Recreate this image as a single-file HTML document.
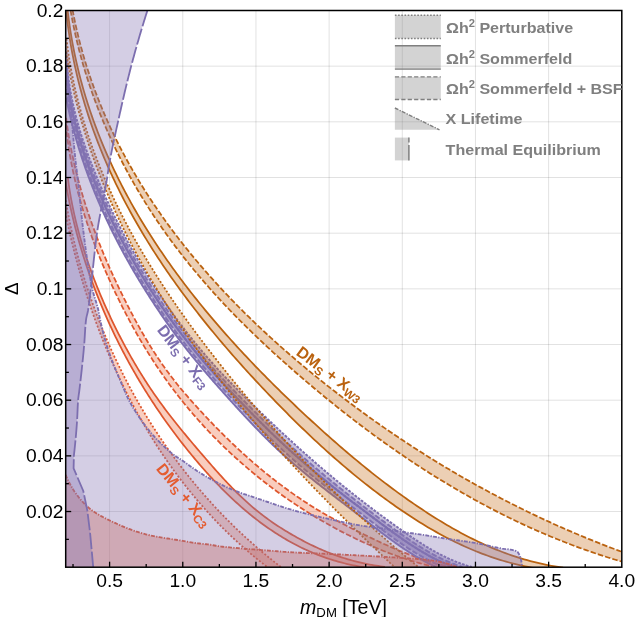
<!DOCTYPE html>
<html><head><meta charset="utf-8"><title>plot</title>
<style>html,body{margin:0;padding:0;background:#fff;}svg{display:block;will-change:transform;font-family:"Liberation Sans",sans-serif;}</style></head><body>
<svg width="635" height="617" viewBox="0 0 635 617">
<rect x="0" y="0" width="635" height="617" fill="#fff"/>
<defs><clipPath id="cp"><rect x="65.70" y="10.50" width="556.10" height="556.70"/></clipPath></defs>
<g stroke="#000" stroke-opacity="0.135" stroke-width="0.9" fill="none">
<line x1="109.60" y1="10.50" x2="109.60" y2="567.20"/>
<line x1="182.77" y1="10.50" x2="182.77" y2="567.20"/>
<line x1="255.94" y1="10.50" x2="255.94" y2="567.20"/>
<line x1="329.12" y1="10.50" x2="329.12" y2="567.20"/>
<line x1="402.29" y1="10.50" x2="402.29" y2="567.20"/>
<line x1="475.46" y1="10.50" x2="475.46" y2="567.20"/>
<line x1="548.63" y1="10.50" x2="548.63" y2="567.20"/>
<line x1="65.70" y1="511.53" x2="621.80" y2="511.53"/>
<line x1="65.70" y1="455.86" x2="621.80" y2="455.86"/>
<line x1="65.70" y1="400.19" x2="621.80" y2="400.19"/>
<line x1="65.70" y1="344.52" x2="621.80" y2="344.52"/>
<line x1="65.70" y1="288.85" x2="621.80" y2="288.85"/>
<line x1="65.70" y1="233.18" x2="621.80" y2="233.18"/>
<line x1="65.70" y1="177.51" x2="621.80" y2="177.51"/>
<line x1="65.70" y1="121.84" x2="621.80" y2="121.84"/>
<line x1="65.70" y1="66.17" x2="621.80" y2="66.17"/>
</g>
<g clip-path="url(#cp)">
<path d="M65.28 212.32 L65.62 214.01 L65.96 215.70 L66.31 217.39 L66.66 219.09 L67.02 220.78 L67.38 222.47 L67.74 224.16 L68.11 225.85 L68.48 227.54 L68.85 229.23 L69.23 230.92 L69.62 232.61 L70.00 234.31 L70.39 236.00 L70.79 237.69 L71.19 239.38 L71.59 241.06 L72.00 242.75 L72.41 244.44 L72.83 246.13 L73.24 247.82 L73.67 249.51 L74.09 251.19 L74.53 252.88 L74.96 254.57 L75.40 256.25 L75.84 257.94 L76.29 259.62 L76.74 261.31 L77.20 262.99 L77.66 264.67 L78.12 266.36 L78.59 268.04 L79.06 269.72 L79.53 271.40 L80.01 273.08 L80.50 274.76 L80.98 276.44 L81.48 278.11 L81.97 279.79 L82.47 281.47 L82.97 283.14 L83.48 284.81 L83.99 286.49 L84.51 288.16 L85.03 289.83 L85.56 291.50 L86.08 293.17 L86.62 294.84 L87.15 296.51 L87.69 298.17 L88.24 299.84 L88.79 301.50 L89.34 303.16 L89.90 304.83 L90.46 306.49 L91.03 308.15 L91.60 309.80 L92.17 311.46 L92.75 313.12 L93.33 314.77 L93.92 316.42 L94.51 318.08 L95.10 319.73 L95.70 321.37 L96.31 323.02 L96.91 324.67 L97.53 326.31 L98.14 327.96 L98.76 329.60 L99.39 331.24 L100.02 332.88 L100.65 334.51 L101.29 336.15 L101.93 337.78 L102.57 339.42 L103.22 341.05 L103.88 342.68 L104.54 344.31 L105.20 345.93 L105.87 347.56 L106.54 349.18 L107.21 350.80 L107.89 352.42 L108.58 354.03 L109.26 355.65 L109.96 357.26 L110.65 358.87 L111.35 360.48 L112.06 362.09 L112.77 363.70 L113.48 365.30 L114.20 366.90 L114.93 368.50 L115.65 370.10 L116.38 371.69 L117.12 373.29 L117.86 374.88 L118.61 376.47 L119.35 378.06 L120.11 379.64 L120.87 381.22 L121.63 382.80 L122.39 384.38 L123.16 385.96 L123.94 387.53 L124.72 389.10 L125.50 390.67 L126.29 392.24 L127.08 393.80 L127.88 395.37 L128.68 396.93 L129.49 398.48 L130.30 400.04 L131.11 401.59 L131.93 403.14 L132.76 404.69 L133.59 406.23 L134.42 407.77 L135.25 409.31 L136.10 410.85 L136.94 412.38 L137.79 413.92 L138.65 415.44 L139.51 416.97 L140.37 418.49 L141.24 420.01 L142.11 421.53 L142.99 423.05 L143.87 424.56 L144.76 426.07 L145.65 427.58 L146.54 429.08 L147.44 430.58 L148.35 432.08 L149.26 433.57 L150.17 435.06 L151.09 436.55 L152.01 438.04 L152.94 439.52 L153.87 441.00 L154.80 442.48 L155.75 443.95 L156.69 445.42 L157.64 446.89 L158.59 448.35 L159.55 449.81 L160.52 451.27 L161.48 452.73 L162.46 454.18 L163.43 455.63 L164.42 457.07 L165.40 458.51 L166.39 459.95 L167.39 461.38 L168.39 462.82 L169.39 464.24 L170.40 465.67 L171.42 467.09 L172.44 468.51 L173.46 469.92 L174.49 471.33 L175.52 472.74 L176.56 474.14 L177.60 475.54 L178.65 476.93 L179.70 478.33 L180.76 479.72 L181.82 481.10 L182.88 482.48 L183.95 483.86 L185.03 485.23 L186.11 486.60 L187.19 487.97 L188.28 489.33 L189.37 490.69 L190.47 492.04 L191.57 493.39 L192.68 494.74 L193.79 496.08 L194.91 497.42 L196.03 498.76 L197.16 500.09 L198.29 501.42 L199.43 502.74 L200.57 504.06 L201.71 505.37 L202.86 506.68 L204.02 507.99 L205.18 509.29 L206.34 510.59 L207.51 511.88 L208.69 513.17 L209.87 514.46 L211.05 515.74 L212.24 517.02 L213.43 518.29 L214.63 519.56 L215.83 520.82 L217.04 522.08 L218.25 523.33 L219.47 524.58 L220.69 525.83 L221.92 527.07 L223.15 528.31 L224.39 529.54 L225.63 530.77 L226.88 531.99 L228.13 533.21 L229.39 534.43 L230.65 535.64 L231.92 536.84 L233.19 538.04 L234.46 539.24 L235.74 540.43 L237.03 541.61 L238.32 542.80 L239.61 543.97 L240.92 545.14 L242.22 546.31 L243.53 547.47 L244.85 548.63 L246.17 549.78 L247.49 550.93 L248.82 552.07 L250.16 553.21 L251.50 554.34 L252.84 555.47 L254.19 556.59 L255.54 557.71 L256.90 558.82 L258.27 559.93 L259.64 561.03 L261.01 562.13 L262.39 563.22 L263.78 564.31 L265.17 565.39 L266.56 566.47 L267.96 567.54 L281.97 567.81 L280.52 566.70 L279.07 565.58 L277.62 564.46 L276.18 563.34 L274.74 562.20 L273.31 561.07 L271.88 559.92 L270.46 558.78 L269.04 557.63 L267.62 556.47 L266.21 555.31 L264.80 554.14 L263.40 552.97 L262.00 551.79 L260.61 550.61 L259.22 549.43 L257.83 548.24 L256.45 547.04 L255.07 545.84 L253.70 544.64 L252.33 543.43 L250.96 542.21 L249.60 541.00 L248.25 539.77 L246.89 538.54 L245.55 537.31 L244.20 536.08 L242.86 534.83 L241.53 533.59 L240.20 532.34 L238.87 531.08 L237.55 529.82 L236.23 528.56 L234.92 527.29 L233.61 526.02 L232.31 524.74 L231.01 523.46 L229.71 522.17 L228.42 520.88 L227.13 519.59 L225.85 518.29 L224.57 516.98 L223.30 515.67 L222.03 514.36 L220.77 513.05 L219.51 511.73 L218.25 510.40 L217.00 509.07 L215.75 507.74 L214.51 506.40 L213.27 505.06 L212.04 503.71 L210.81 502.37 L209.58 501.01 L208.36 499.65 L207.15 498.29 L205.94 496.93 L204.73 495.56 L203.53 494.18 L202.33 492.80 L201.14 491.42 L199.95 490.04 L198.76 488.65 L197.58 487.25 L196.41 485.86 L195.24 484.46 L194.07 483.05 L192.91 481.64 L191.75 480.23 L190.60 478.81 L189.45 477.39 L188.31 475.97 L187.17 474.54 L186.03 473.11 L184.90 471.67 L183.78 470.23 L182.66 468.79 L181.54 467.35 L180.43 465.90 L179.32 464.44 L178.22 462.99 L177.12 461.53 L176.03 460.06 L174.94 458.59 L173.86 457.12 L172.78 455.65 L171.70 454.17 L170.63 452.69 L169.57 451.20 L168.51 449.71 L167.45 448.22 L166.40 446.73 L165.36 445.23 L164.31 443.73 L163.28 442.22 L162.24 440.71 L161.22 439.20 L160.19 437.69 L159.18 436.17 L158.16 434.65 L157.15 433.12 L156.15 431.59 L155.15 430.06 L154.15 428.53 L153.16 426.99 L152.18 425.45 L151.20 423.91 L150.22 422.36 L149.25 420.81 L148.29 419.26 L147.32 417.70 L146.37 416.14 L145.42 414.58 L144.47 413.02 L143.53 411.45 L142.59 409.88 L141.66 408.31 L140.73 406.73 L139.81 405.15 L138.89 403.57 L137.98 401.98 L137.07 400.39 L136.16 398.80 L135.26 397.21 L134.37 395.61 L133.48 394.01 L132.60 392.41 L131.72 390.81 L130.84 389.20 L129.97 387.59 L129.11 385.98 L128.25 384.36 L127.39 382.75 L126.54 381.13 L125.70 379.50 L124.86 377.88 L124.02 376.25 L123.19 374.62 L122.37 372.98 L121.55 371.35 L120.73 369.71 L119.92 368.07 L119.12 366.43 L118.32 364.78 L117.52 363.13 L116.73 361.48 L115.94 359.83 L115.16 358.18 L114.39 356.52 L113.62 354.86 L112.85 353.20 L112.09 351.53 L111.33 349.87 L110.58 348.20 L109.84 346.53 L109.10 344.86 L108.36 343.18 L107.63 341.50 L106.91 339.82 L106.19 338.14 L105.47 336.46 L104.76 334.77 L104.05 333.08 L103.35 331.39 L102.66 329.70 L101.97 328.01 L101.28 326.31 L100.60 324.61 L99.93 322.91 L99.26 321.21 L98.59 319.51 L97.93 317.80 L97.28 316.10 L96.63 314.39 L95.99 312.68 L95.35 310.96 L94.71 309.25 L94.09 307.53 L93.46 305.81 L92.84 304.09 L92.23 302.37 L91.62 300.65 L91.02 298.92 L90.42 297.19 L89.83 295.47 L89.24 293.74 L88.66 292.00 L88.08 290.27 L87.51 288.53 L86.94 286.80 L86.38 285.06 L85.83 283.32 L85.28 281.58 L84.73 279.84 L84.19 278.09 L83.65 276.35 L83.12 274.60 L82.60 272.85 L82.08 271.10 L81.57 269.35 L81.06 267.60 L80.55 265.84 L80.06 264.09 L79.56 262.33 L79.08 260.57 L78.59 258.81 L78.12 257.05 L77.64 255.29 L77.18 253.53 L76.72 251.76 L76.26 250.00 L75.81 248.23 L75.37 246.46 L74.93 244.70 L74.49 242.93 L74.06 241.15 L73.64 239.38 L73.22 237.61 L72.81 235.83 L72.40 234.06 L72.00 232.28 L71.60 230.51 L71.21 228.73 L70.82 226.95 L70.44 225.17 L70.07 223.39 L69.70 221.61 L69.33 219.82 L68.97 218.04 L68.62 216.26 L68.27 214.47 L67.93 212.69 L67.59 210.90 L67.26 209.11 L66.94 207.32 L66.62 205.53 L66.30 203.74 L65.99 201.95 L65.69 200.16 Z" fill="rgb(235,98,53)" fill-opacity="0.32" stroke="none"/>
<path d="M65.28 212.32 L65.62 214.01 L65.96 215.70 L66.31 217.39 L66.66 219.09 L67.02 220.78 L67.38 222.47 L67.74 224.16 L68.11 225.85 L68.48 227.54 L68.85 229.23 L69.23 230.92 L69.62 232.61 L70.00 234.31 L70.39 236.00 L70.79 237.69 L71.19 239.38 L71.59 241.06 L72.00 242.75 L72.41 244.44 L72.83 246.13 L73.24 247.82 L73.67 249.51 L74.09 251.19 L74.53 252.88 L74.96 254.57 L75.40 256.25 L75.84 257.94 L76.29 259.62 L76.74 261.31 L77.20 262.99 L77.66 264.67 L78.12 266.36 L78.59 268.04 L79.06 269.72 L79.53 271.40 L80.01 273.08 L80.50 274.76 L80.98 276.44 L81.48 278.11 L81.97 279.79 L82.47 281.47 L82.97 283.14 L83.48 284.81 L83.99 286.49 L84.51 288.16 L85.03 289.83 L85.56 291.50 L86.08 293.17 L86.62 294.84 L87.15 296.51 L87.69 298.17 L88.24 299.84 L88.79 301.50 L89.34 303.16 L89.90 304.83 L90.46 306.49 L91.03 308.15 L91.60 309.80 L92.17 311.46 L92.75 313.12 L93.33 314.77 L93.92 316.42 L94.51 318.08 L95.10 319.73 L95.70 321.37 L96.31 323.02 L96.91 324.67 L97.53 326.31 L98.14 327.96 L98.76 329.60 L99.39 331.24 L100.02 332.88 L100.65 334.51 L101.29 336.15 L101.93 337.78 L102.57 339.42 L103.22 341.05 L103.88 342.68 L104.54 344.31 L105.20 345.93 L105.87 347.56 L106.54 349.18 L107.21 350.80 L107.89 352.42 L108.58 354.03 L109.26 355.65 L109.96 357.26 L110.65 358.87 L111.35 360.48 L112.06 362.09 L112.77 363.70 L113.48 365.30 L114.20 366.90 L114.93 368.50 L115.65 370.10 L116.38 371.69 L117.12 373.29 L117.86 374.88 L118.61 376.47 L119.35 378.06 L120.11 379.64 L120.87 381.22 L121.63 382.80 L122.39 384.38 L123.16 385.96 L123.94 387.53 L124.72 389.10 L125.50 390.67 L126.29 392.24 L127.08 393.80 L127.88 395.37 L128.68 396.93 L129.49 398.48 L130.30 400.04 L131.11 401.59 L131.93 403.14 L132.76 404.69 L133.59 406.23 L134.42 407.77 L135.25 409.31 L136.10 410.85 L136.94 412.38 L137.79 413.92 L138.65 415.44 L139.51 416.97 L140.37 418.49 L141.24 420.01 L142.11 421.53 L142.99 423.05 L143.87 424.56 L144.76 426.07 L145.65 427.58 L146.54 429.08 L147.44 430.58 L148.35 432.08 L149.26 433.57 L150.17 435.06 L151.09 436.55 L152.01 438.04 L152.94 439.52 L153.87 441.00 L154.80 442.48 L155.75 443.95 L156.69 445.42 L157.64 446.89 L158.59 448.35 L159.55 449.81 L160.52 451.27 L161.48 452.73 L162.46 454.18 L163.43 455.63 L164.42 457.07 L165.40 458.51 L166.39 459.95 L167.39 461.38 L168.39 462.82 L169.39 464.24 L170.40 465.67 L171.42 467.09 L172.44 468.51 L173.46 469.92 L174.49 471.33 L175.52 472.74 L176.56 474.14 L177.60 475.54 L178.65 476.93 L179.70 478.33 L180.76 479.72 L181.82 481.10 L182.88 482.48 L183.95 483.86 L185.03 485.23 L186.11 486.60 L187.19 487.97 L188.28 489.33 L189.37 490.69 L190.47 492.04 L191.57 493.39 L192.68 494.74 L193.79 496.08 L194.91 497.42 L196.03 498.76 L197.16 500.09 L198.29 501.42 L199.43 502.74 L200.57 504.06 L201.71 505.37 L202.86 506.68 L204.02 507.99 L205.18 509.29 L206.34 510.59 L207.51 511.88 L208.69 513.17 L209.87 514.46 L211.05 515.74 L212.24 517.02 L213.43 518.29 L214.63 519.56 L215.83 520.82 L217.04 522.08 L218.25 523.33 L219.47 524.58 L220.69 525.83 L221.92 527.07 L223.15 528.31 L224.39 529.54 L225.63 530.77 L226.88 531.99 L228.13 533.21 L229.39 534.43 L230.65 535.64 L231.92 536.84 L233.19 538.04 L234.46 539.24 L235.74 540.43 L237.03 541.61 L238.32 542.80 L239.61 543.97 L240.92 545.14 L242.22 546.31 L243.53 547.47 L244.85 548.63 L246.17 549.78 L247.49 550.93 L248.82 552.07 L250.16 553.21 L251.50 554.34 L252.84 555.47 L254.19 556.59 L255.54 557.71 L256.90 558.82 L258.27 559.93 L259.64 561.03 L261.01 562.13 L262.39 563.22 L263.78 564.31 L265.17 565.39 L266.56 566.47 L267.96 567.54" fill="none" stroke="rgb(222,86,45)" stroke-width="1.75" stroke-dasharray="2.0 1.8"/>
<path d="M65.69 200.16 L65.99 201.95 L66.30 203.74 L66.62 205.53 L66.94 207.32 L67.26 209.11 L67.59 210.90 L67.93 212.69 L68.27 214.47 L68.62 216.26 L68.97 218.04 L69.33 219.82 L69.70 221.61 L70.07 223.39 L70.44 225.17 L70.82 226.95 L71.21 228.73 L71.60 230.51 L72.00 232.28 L72.40 234.06 L72.81 235.83 L73.22 237.61 L73.64 239.38 L74.06 241.15 L74.49 242.93 L74.93 244.70 L75.37 246.46 L75.81 248.23 L76.26 250.00 L76.72 251.76 L77.18 253.53 L77.64 255.29 L78.12 257.05 L78.59 258.81 L79.08 260.57 L79.56 262.33 L80.06 264.09 L80.55 265.84 L81.06 267.60 L81.57 269.35 L82.08 271.10 L82.60 272.85 L83.12 274.60 L83.65 276.35 L84.19 278.09 L84.73 279.84 L85.28 281.58 L85.83 283.32 L86.38 285.06 L86.94 286.80 L87.51 288.53 L88.08 290.27 L88.66 292.00 L89.24 293.74 L89.83 295.47 L90.42 297.19 L91.02 298.92 L91.62 300.65 L92.23 302.37 L92.84 304.09 L93.46 305.81 L94.09 307.53 L94.71 309.25 L95.35 310.96 L95.99 312.68 L96.63 314.39 L97.28 316.10 L97.93 317.80 L98.59 319.51 L99.26 321.21 L99.93 322.91 L100.60 324.61 L101.28 326.31 L101.97 328.01 L102.66 329.70 L103.35 331.39 L104.05 333.08 L104.76 334.77 L105.47 336.46 L106.19 338.14 L106.91 339.82 L107.63 341.50 L108.36 343.18 L109.10 344.86 L109.84 346.53 L110.58 348.20 L111.33 349.87 L112.09 351.53 L112.85 353.20 L113.62 354.86 L114.39 356.52 L115.16 358.18 L115.94 359.83 L116.73 361.48 L117.52 363.13 L118.32 364.78 L119.12 366.43 L119.92 368.07 L120.73 369.71 L121.55 371.35 L122.37 372.98 L123.19 374.62 L124.02 376.25 L124.86 377.88 L125.70 379.50 L126.54 381.13 L127.39 382.75 L128.25 384.36 L129.11 385.98 L129.97 387.59 L130.84 389.20 L131.72 390.81 L132.60 392.41 L133.48 394.01 L134.37 395.61 L135.26 397.21 L136.16 398.80 L137.07 400.39 L137.98 401.98 L138.89 403.57 L139.81 405.15 L140.73 406.73 L141.66 408.31 L142.59 409.88 L143.53 411.45 L144.47 413.02 L145.42 414.58 L146.37 416.14 L147.32 417.70 L148.29 419.26 L149.25 420.81 L150.22 422.36 L151.20 423.91 L152.18 425.45 L153.16 426.99 L154.15 428.53 L155.15 430.06 L156.15 431.59 L157.15 433.12 L158.16 434.65 L159.18 436.17 L160.19 437.69 L161.22 439.20 L162.24 440.71 L163.28 442.22 L164.31 443.73 L165.36 445.23 L166.40 446.73 L167.45 448.22 L168.51 449.71 L169.57 451.20 L170.63 452.69 L171.70 454.17 L172.78 455.65 L173.86 457.12 L174.94 458.59 L176.03 460.06 L177.12 461.53 L178.22 462.99 L179.32 464.44 L180.43 465.90 L181.54 467.35 L182.66 468.79 L183.78 470.23 L184.90 471.67 L186.03 473.11 L187.17 474.54 L188.31 475.97 L189.45 477.39 L190.60 478.81 L191.75 480.23 L192.91 481.64 L194.07 483.05 L195.24 484.46 L196.41 485.86 L197.58 487.25 L198.76 488.65 L199.95 490.04 L201.14 491.42 L202.33 492.80 L203.53 494.18 L204.73 495.56 L205.94 496.93 L207.15 498.29 L208.36 499.65 L209.58 501.01 L210.81 502.37 L212.04 503.71 L213.27 505.06 L214.51 506.40 L215.75 507.74 L217.00 509.07 L218.25 510.40 L219.51 511.73 L220.77 513.05 L222.03 514.36 L223.30 515.67 L224.57 516.98 L225.85 518.29 L227.13 519.59 L228.42 520.88 L229.71 522.17 L231.01 523.46 L232.31 524.74 L233.61 526.02 L234.92 527.29 L236.23 528.56 L237.55 529.82 L238.87 531.08 L240.20 532.34 L241.53 533.59 L242.86 534.83 L244.20 536.08 L245.55 537.31 L246.89 538.54 L248.25 539.77 L249.60 541.00 L250.96 542.21 L252.33 543.43 L253.70 544.64 L255.07 545.84 L256.45 547.04 L257.83 548.24 L259.22 549.43 L260.61 550.61 L262.00 551.79 L263.40 552.97 L264.80 554.14 L266.21 555.31 L267.62 556.47 L269.04 557.63 L270.46 558.78 L271.88 559.92 L273.31 561.07 L274.74 562.20 L276.18 563.34 L277.62 564.46 L279.07 565.58 L280.52 566.70 L281.97 567.81" fill="none" stroke="rgb(222,86,45)" stroke-width="1.75" stroke-dasharray="2.0 1.8"/>
<path d="M65.49 181.33 L65.85 183.46 L66.21 185.58 L66.58 187.69 L66.97 189.81 L67.36 191.93 L67.75 194.04 L68.16 196.15 L68.58 198.26 L69.00 200.37 L69.43 202.48 L69.87 204.59 L70.32 206.70 L70.78 208.80 L71.24 210.90 L71.72 213.00 L72.20 215.10 L72.69 217.20 L73.19 219.29 L73.70 221.39 L74.21 223.48 L74.73 225.57 L75.27 227.66 L75.81 229.75 L76.35 231.83 L76.91 233.91 L77.47 236.00 L78.05 238.08 L78.63 240.15 L79.22 242.23 L79.81 244.30 L80.42 246.37 L81.03 248.44 L81.65 250.51 L82.28 252.57 L82.91 254.64 L83.56 256.70 L84.21 258.76 L84.87 260.81 L85.54 262.87 L86.22 264.92 L86.90 266.97 L87.59 269.01 L88.29 271.06 L89.00 273.10 L89.71 275.14 L90.44 277.18 L91.17 279.21 L91.91 281.24 L92.65 283.27 L93.41 285.30 L94.17 287.33 L94.94 289.35 L95.72 291.37 L96.50 293.38 L97.29 295.40 L98.09 297.41 L98.90 299.42 L99.72 301.42 L100.54 303.43 L101.37 305.43 L102.21 307.42 L103.05 309.42 L103.90 311.41 L104.76 313.40 L105.63 315.38 L106.51 317.37 L107.39 319.35 L108.28 321.32 L109.18 323.30 L110.08 325.27 L110.99 327.23 L111.91 329.20 L112.84 331.16 L113.77 333.11 L114.71 335.07 L115.66 337.02 L116.62 338.97 L117.58 340.91 L118.55 342.85 L119.53 344.79 L120.51 346.72 L121.50 348.66 L122.50 350.58 L123.51 352.51 L124.52 354.43 L125.54 356.34 L126.57 358.26 L127.60 360.17 L128.64 362.07 L129.69 363.97 L130.75 365.87 L131.81 367.77 L132.88 369.66 L133.95 371.55 L135.04 373.43 L136.13 375.31 L137.22 377.19 L138.33 379.06 L139.44 380.93 L140.56 382.79 L141.68 384.65 L142.81 386.51 L143.95 388.36 L145.09 390.21 L146.24 392.05 L147.40 393.89 L148.57 395.73 L149.74 397.56 L150.92 399.39 L152.10 401.21 L153.29 403.03 L154.49 404.84 L155.70 406.65 L156.91 408.46 L158.12 410.26 L159.35 412.06 L160.58 413.85 L161.82 415.64 L163.06 417.43 L164.31 419.21 L165.57 420.98 L166.83 422.75 L168.10 424.52 L169.38 426.28 L170.66 428.04 L171.95 429.79 L173.25 431.54 L174.55 433.28 L175.86 435.02 L177.17 436.75 L178.49 438.48 L179.82 440.20 L181.15 441.92 L182.49 443.64 L183.84 445.35 L185.19 447.05 L186.55 448.75 L187.91 450.45 L189.28 452.13 L190.66 453.82 L192.04 455.50 L193.43 457.17 L194.83 458.84 L196.23 460.51 L197.64 462.16 L199.05 463.82 L200.47 465.47 L201.90 467.11 L203.33 468.74 L204.77 470.37 L206.21 471.99 L207.67 473.61 L209.13 475.22 L210.59 476.82 L212.06 478.41 L213.54 480.00 L215.03 481.58 L216.52 483.15 L218.03 484.71 L219.53 486.26 L221.05 487.81 L222.57 489.35 L224.10 490.88 L225.64 492.40 L227.18 493.91 L228.73 495.41 L230.29 496.90 L231.86 498.39 L233.44 499.86 L235.02 501.32 L236.61 502.77 L238.21 504.22 L239.81 505.65 L241.43 507.07 L243.05 508.48 L244.68 509.88 L246.32 511.26 L247.96 512.64 L249.62 514.00 L251.28 515.36 L252.95 516.70 L254.63 518.02 L256.32 519.34 L258.02 520.64 L259.73 521.93 L261.44 523.21 L263.16 524.47 L264.90 525.72 L266.64 526.96 L268.39 528.19 L270.15 529.40 L271.91 530.59 L273.69 531.77 L275.48 532.94 L277.27 534.09 L279.08 535.23 L280.89 536.35 L282.72 537.46 L284.55 538.55 L286.40 539.63 L288.25 540.69 L290.11 541.73 L291.98 542.76 L293.87 543.77 L295.76 544.77 L297.66 545.75 L299.57 546.71 L301.49 547.66 L303.43 548.59 L305.37 549.50 L307.32 550.39 L309.28 551.27 L311.26 552.13 L313.24 552.97 L315.23 553.79 L317.24 554.59 L319.25 555.37 L321.28 556.14 L323.32 556.89 L325.36 557.61 L327.42 558.32 L329.49 559.01 L331.57 559.68 L333.66 560.33 L335.77 560.96 L337.88 561.57 L340.01 562.15 L342.14 562.72 L344.29 563.27 L346.45 563.79 L348.62 564.30 L350.80 564.78 L352.99 565.24 L355.20 565.68 L357.42 566.10 L359.65 566.49 L361.89 566.87 L364.14 567.22 L366.40 567.55 L385.02 566.79 L382.79 566.54 L380.56 566.26 L378.35 565.96 L376.13 565.63 L373.93 565.29 L371.72 564.91 L369.53 564.52 L367.34 564.10 L365.16 563.66 L362.99 563.20 L360.82 562.71 L358.65 562.20 L356.50 561.67 L354.35 561.11 L352.21 560.53 L350.07 559.94 L347.94 559.32 L345.82 558.67 L343.70 558.01 L341.59 557.33 L339.49 556.62 L337.39 555.90 L335.30 555.15 L333.21 554.38 L331.14 553.60 L329.07 552.79 L327.00 551.96 L324.94 551.12 L322.89 550.25 L320.85 549.37 L318.81 548.47 L316.78 547.55 L314.76 546.61 L312.75 545.66 L310.74 544.69 L308.74 543.70 L306.74 542.70 L304.76 541.68 L302.78 540.64 L300.81 539.59 L298.84 538.53 L296.88 537.45 L294.94 536.36 L292.99 535.25 L291.06 534.13 L289.13 533.00 L287.22 531.85 L285.31 530.69 L283.41 529.51 L281.52 528.32 L279.64 527.12 L277.77 525.90 L275.91 524.67 L274.07 523.42 L272.23 522.16 L270.40 520.89 L268.59 519.60 L266.79 518.29 L265.00 516.97 L263.22 515.63 L261.45 514.28 L259.70 512.92 L257.97 511.53 L256.24 510.14 L254.53 508.72 L252.84 507.30 L251.15 505.85 L249.48 504.40 L247.83 502.93 L246.18 501.44 L244.55 499.94 L242.93 498.43 L241.32 496.91 L239.72 495.38 L238.13 493.83 L236.55 492.27 L234.98 490.71 L233.42 489.13 L231.87 487.54 L230.32 485.95 L228.79 484.34 L227.26 482.73 L225.74 481.10 L224.22 479.47 L222.72 477.84 L221.21 476.19 L219.72 474.54 L218.23 472.89 L216.74 471.23 L215.26 469.56 L213.78 467.89 L212.31 466.21 L210.84 464.53 L209.37 462.85 L207.91 461.17 L206.45 459.48 L204.99 457.79 L203.53 456.09 L202.07 454.40 L200.61 452.71 L199.16 451.01 L197.70 449.31 L196.25 447.61 L194.80 445.91 L193.36 444.20 L191.91 442.49 L190.47 440.78 L189.04 439.07 L187.60 437.36 L186.17 435.64 L184.75 433.92 L183.33 432.19 L181.91 430.46 L180.50 428.73 L179.09 426.99 L177.69 425.26 L176.29 423.51 L174.90 421.76 L173.52 420.01 L172.14 418.26 L170.77 416.50 L169.40 414.73 L168.05 412.96 L166.69 411.19 L165.35 409.41 L164.02 407.62 L162.69 405.83 L161.37 404.03 L160.06 402.23 L158.76 400.43 L157.46 398.61 L156.18 396.79 L154.91 394.97 L153.64 393.14 L152.38 391.30 L151.13 389.46 L149.89 387.61 L148.66 385.75 L147.44 383.90 L146.23 382.03 L145.02 380.16 L143.83 378.28 L142.64 376.40 L141.46 374.52 L140.29 372.63 L139.12 370.73 L137.97 368.83 L136.82 366.92 L135.68 365.01 L134.55 363.09 L133.43 361.17 L132.32 359.24 L131.21 357.31 L130.11 355.37 L129.02 353.43 L127.94 351.49 L126.87 349.54 L125.80 347.58 L124.74 345.62 L123.69 343.66 L122.64 341.69 L121.61 339.72 L120.58 337.74 L119.56 335.76 L118.54 333.78 L117.54 331.79 L116.54 329.79 L115.54 327.79 L114.56 325.79 L113.58 323.79 L112.61 321.78 L111.65 319.77 L110.69 317.75 L109.74 315.73 L108.80 313.70 L107.86 311.68 L106.93 309.65 L106.01 307.61 L105.10 305.57 L104.20 303.53 L103.30 301.48 L102.41 299.43 L101.53 297.38 L100.65 295.32 L99.79 293.26 L98.93 291.20 L98.08 289.13 L97.24 287.06 L96.41 284.99 L95.59 282.91 L94.77 280.83 L93.97 278.75 L93.17 276.66 L92.38 274.57 L91.61 272.48 L90.84 270.38 L90.08 268.28 L89.33 266.18 L88.59 264.07 L87.86 261.96 L87.13 259.85 L86.42 257.74 L85.72 255.62 L85.03 253.50 L84.35 251.37 L83.67 249.25 L83.01 247.12 L82.36 244.98 L81.72 242.85 L81.09 240.71 L80.47 238.57 L79.86 236.42 L79.26 234.27 L78.68 232.12 L78.10 229.97 L77.54 227.81 L76.98 225.66 L76.44 223.49 L75.91 221.33 L75.39 219.16 L74.88 217.00 L74.38 214.82 L73.90 212.65 L73.43 210.47 L72.97 208.29 L72.52 206.11 L72.08 203.93 L71.66 201.74 L71.24 199.55 L70.84 197.36 L70.46 195.17 L70.08 192.97 L69.72 190.77 L69.37 188.57 L69.04 186.37 L68.71 184.16 L68.40 181.95 L68.11 179.74 L67.82 177.53 Z" fill="rgb(235,98,53)" fill-opacity="0.32" stroke="none"/>
<path d="M65.49 181.33 L65.85 183.46 L66.21 185.58 L66.58 187.69 L66.97 189.81 L67.36 191.93 L67.75 194.04 L68.16 196.15 L68.58 198.26 L69.00 200.37 L69.43 202.48 L69.87 204.59 L70.32 206.70 L70.78 208.80 L71.24 210.90 L71.72 213.00 L72.20 215.10 L72.69 217.20 L73.19 219.29 L73.70 221.39 L74.21 223.48 L74.73 225.57 L75.27 227.66 L75.81 229.75 L76.35 231.83 L76.91 233.91 L77.47 236.00 L78.05 238.08 L78.63 240.15 L79.22 242.23 L79.81 244.30 L80.42 246.37 L81.03 248.44 L81.65 250.51 L82.28 252.57 L82.91 254.64 L83.56 256.70 L84.21 258.76 L84.87 260.81 L85.54 262.87 L86.22 264.92 L86.90 266.97 L87.59 269.01 L88.29 271.06 L89.00 273.10 L89.71 275.14 L90.44 277.18 L91.17 279.21 L91.91 281.24 L92.65 283.27 L93.41 285.30 L94.17 287.33 L94.94 289.35 L95.72 291.37 L96.50 293.38 L97.29 295.40 L98.09 297.41 L98.90 299.42 L99.72 301.42 L100.54 303.43 L101.37 305.43 L102.21 307.42 L103.05 309.42 L103.90 311.41 L104.76 313.40 L105.63 315.38 L106.51 317.37 L107.39 319.35 L108.28 321.32 L109.18 323.30 L110.08 325.27 L110.99 327.23 L111.91 329.20 L112.84 331.16 L113.77 333.11 L114.71 335.07 L115.66 337.02 L116.62 338.97 L117.58 340.91 L118.55 342.85 L119.53 344.79 L120.51 346.72 L121.50 348.66 L122.50 350.58 L123.51 352.51 L124.52 354.43 L125.54 356.34 L126.57 358.26 L127.60 360.17 L128.64 362.07 L129.69 363.97 L130.75 365.87 L131.81 367.77 L132.88 369.66 L133.95 371.55 L135.04 373.43 L136.13 375.31 L137.22 377.19 L138.33 379.06 L139.44 380.93 L140.56 382.79 L141.68 384.65 L142.81 386.51 L143.95 388.36 L145.09 390.21 L146.24 392.05 L147.40 393.89 L148.57 395.73 L149.74 397.56 L150.92 399.39 L152.10 401.21 L153.29 403.03 L154.49 404.84 L155.70 406.65 L156.91 408.46 L158.12 410.26 L159.35 412.06 L160.58 413.85 L161.82 415.64 L163.06 417.43 L164.31 419.21 L165.57 420.98 L166.83 422.75 L168.10 424.52 L169.38 426.28 L170.66 428.04 L171.95 429.79 L173.25 431.54 L174.55 433.28 L175.86 435.02 L177.17 436.75 L178.49 438.48 L179.82 440.20 L181.15 441.92 L182.49 443.64 L183.84 445.35 L185.19 447.05 L186.55 448.75 L187.91 450.45 L189.28 452.13 L190.66 453.82 L192.04 455.50 L193.43 457.17 L194.83 458.84 L196.23 460.51 L197.64 462.16 L199.05 463.82 L200.47 465.47 L201.90 467.11 L203.33 468.74 L204.77 470.37 L206.21 471.99 L207.67 473.61 L209.13 475.22 L210.59 476.82 L212.06 478.41 L213.54 480.00 L215.03 481.58 L216.52 483.15 L218.03 484.71 L219.53 486.26 L221.05 487.81 L222.57 489.35 L224.10 490.88 L225.64 492.40 L227.18 493.91 L228.73 495.41 L230.29 496.90 L231.86 498.39 L233.44 499.86 L235.02 501.32 L236.61 502.77 L238.21 504.22 L239.81 505.65 L241.43 507.07 L243.05 508.48 L244.68 509.88 L246.32 511.26 L247.96 512.64 L249.62 514.00 L251.28 515.36 L252.95 516.70 L254.63 518.02 L256.32 519.34 L258.02 520.64 L259.73 521.93 L261.44 523.21 L263.16 524.47 L264.90 525.72 L266.64 526.96 L268.39 528.19 L270.15 529.40 L271.91 530.59 L273.69 531.77 L275.48 532.94 L277.27 534.09 L279.08 535.23 L280.89 536.35 L282.72 537.46 L284.55 538.55 L286.40 539.63 L288.25 540.69 L290.11 541.73 L291.98 542.76 L293.87 543.77 L295.76 544.77 L297.66 545.75 L299.57 546.71 L301.49 547.66 L303.43 548.59 L305.37 549.50 L307.32 550.39 L309.28 551.27 L311.26 552.13 L313.24 552.97 L315.23 553.79 L317.24 554.59 L319.25 555.37 L321.28 556.14 L323.32 556.89 L325.36 557.61 L327.42 558.32 L329.49 559.01 L331.57 559.68 L333.66 560.33 L335.77 560.96 L337.88 561.57 L340.01 562.15 L342.14 562.72 L344.29 563.27 L346.45 563.79 L348.62 564.30 L350.80 564.78 L352.99 565.24 L355.20 565.68 L357.42 566.10 L359.65 566.49 L361.89 566.87 L364.14 567.22 L366.40 567.55" fill="none" stroke="rgb(222,86,45)" stroke-width="1.75"/>
<path d="M67.82 177.53 L68.11 179.74 L68.40 181.95 L68.71 184.16 L69.04 186.37 L69.37 188.57 L69.72 190.77 L70.08 192.97 L70.46 195.17 L70.84 197.36 L71.24 199.55 L71.66 201.74 L72.08 203.93 L72.52 206.11 L72.97 208.29 L73.43 210.47 L73.90 212.65 L74.38 214.82 L74.88 217.00 L75.39 219.16 L75.91 221.33 L76.44 223.49 L76.98 225.66 L77.54 227.81 L78.10 229.97 L78.68 232.12 L79.26 234.27 L79.86 236.42 L80.47 238.57 L81.09 240.71 L81.72 242.85 L82.36 244.98 L83.01 247.12 L83.67 249.25 L84.35 251.37 L85.03 253.50 L85.72 255.62 L86.42 257.74 L87.13 259.85 L87.86 261.96 L88.59 264.07 L89.33 266.18 L90.08 268.28 L90.84 270.38 L91.61 272.48 L92.38 274.57 L93.17 276.66 L93.97 278.75 L94.77 280.83 L95.59 282.91 L96.41 284.99 L97.24 287.06 L98.08 289.13 L98.93 291.20 L99.79 293.26 L100.65 295.32 L101.53 297.38 L102.41 299.43 L103.30 301.48 L104.20 303.53 L105.10 305.57 L106.01 307.61 L106.93 309.65 L107.86 311.68 L108.80 313.70 L109.74 315.73 L110.69 317.75 L111.65 319.77 L112.61 321.78 L113.58 323.79 L114.56 325.79 L115.54 327.79 L116.54 329.79 L117.54 331.79 L118.54 333.78 L119.56 335.76 L120.58 337.74 L121.61 339.72 L122.64 341.69 L123.69 343.66 L124.74 345.62 L125.80 347.58 L126.87 349.54 L127.94 351.49 L129.02 353.43 L130.11 355.37 L131.21 357.31 L132.32 359.24 L133.43 361.17 L134.55 363.09 L135.68 365.01 L136.82 366.92 L137.97 368.83 L139.12 370.73 L140.29 372.63 L141.46 374.52 L142.64 376.40 L143.83 378.28 L145.02 380.16 L146.23 382.03 L147.44 383.90 L148.66 385.75 L149.89 387.61 L151.13 389.46 L152.38 391.30 L153.64 393.14 L154.91 394.97 L156.18 396.79 L157.46 398.61 L158.76 400.43 L160.06 402.23 L161.37 404.03 L162.69 405.83 L164.02 407.62 L165.35 409.41 L166.69 411.19 L168.05 412.96 L169.40 414.73 L170.77 416.50 L172.14 418.26 L173.52 420.01 L174.90 421.76 L176.29 423.51 L177.69 425.26 L179.09 426.99 L180.50 428.73 L181.91 430.46 L183.33 432.19 L184.75 433.92 L186.17 435.64 L187.60 437.36 L189.04 439.07 L190.47 440.78 L191.91 442.49 L193.36 444.20 L194.80 445.91 L196.25 447.61 L197.70 449.31 L199.16 451.01 L200.61 452.71 L202.07 454.40 L203.53 456.09 L204.99 457.79 L206.45 459.48 L207.91 461.17 L209.37 462.85 L210.84 464.53 L212.31 466.21 L213.78 467.89 L215.26 469.56 L216.74 471.23 L218.23 472.89 L219.72 474.54 L221.21 476.19 L222.72 477.84 L224.22 479.47 L225.74 481.10 L227.26 482.73 L228.79 484.34 L230.32 485.95 L231.87 487.54 L233.42 489.13 L234.98 490.71 L236.55 492.27 L238.13 493.83 L239.72 495.38 L241.32 496.91 L242.93 498.43 L244.55 499.94 L246.18 501.44 L247.83 502.93 L249.48 504.40 L251.15 505.85 L252.84 507.30 L254.53 508.72 L256.24 510.14 L257.97 511.53 L259.70 512.92 L261.45 514.28 L263.22 515.63 L265.00 516.97 L266.79 518.29 L268.59 519.60 L270.40 520.89 L272.23 522.16 L274.07 523.42 L275.91 524.67 L277.77 525.90 L279.64 527.12 L281.52 528.32 L283.41 529.51 L285.31 530.69 L287.22 531.85 L289.13 533.00 L291.06 534.13 L292.99 535.25 L294.94 536.36 L296.88 537.45 L298.84 538.53 L300.81 539.59 L302.78 540.64 L304.76 541.68 L306.74 542.70 L308.74 543.70 L310.74 544.69 L312.75 545.66 L314.76 546.61 L316.78 547.55 L318.81 548.47 L320.85 549.37 L322.89 550.25 L324.94 551.12 L327.00 551.96 L329.07 552.79 L331.14 553.60 L333.21 554.38 L335.30 555.15 L337.39 555.90 L339.49 556.62 L341.59 557.33 L343.70 558.01 L345.82 558.67 L347.94 559.32 L350.07 559.94 L352.21 560.53 L354.35 561.11 L356.50 561.67 L358.65 562.20 L360.82 562.71 L362.99 563.20 L365.16 563.66 L367.34 564.10 L369.53 564.52 L371.72 564.91 L373.93 565.29 L376.13 565.63 L378.35 565.96 L380.56 566.26 L382.79 566.54 L385.02 566.79" fill="none" stroke="rgb(222,86,45)" stroke-width="1.75"/>
<path d="M65.77 124.08 L66.02 126.61 L66.28 129.15 L66.56 131.68 L66.85 134.21 L67.16 136.74 L67.49 139.26 L67.83 141.79 L68.19 144.31 L68.56 146.83 L68.95 149.34 L69.35 151.85 L69.77 154.36 L70.21 156.87 L70.66 159.38 L71.12 161.88 L71.60 164.38 L72.09 166.87 L72.60 169.37 L73.12 171.86 L73.66 174.35 L74.21 176.83 L74.77 179.31 L75.35 181.79 L75.94 184.27 L76.55 186.74 L77.17 189.21 L77.80 191.68 L78.45 194.14 L79.11 196.60 L79.78 199.06 L80.47 201.51 L81.17 203.96 L81.88 206.41 L82.60 208.85 L83.34 211.30 L84.09 213.73 L84.85 216.17 L85.62 218.60 L86.41 221.02 L87.21 223.45 L88.02 225.87 L88.84 228.28 L89.67 230.70 L90.51 233.10 L91.37 235.51 L92.24 237.91 L93.12 240.31 L94.01 242.70 L94.91 245.09 L95.82 247.48 L96.74 249.86 L97.67 252.24 L98.62 254.61 L99.57 256.98 L100.54 259.35 L101.51 261.71 L102.49 264.07 L103.49 266.43 L104.49 268.78 L105.51 271.12 L106.53 273.46 L107.56 275.80 L108.61 278.13 L109.66 280.46 L110.72 282.79 L111.79 285.11 L112.87 287.42 L113.95 289.73 L115.05 292.04 L116.15 294.34 L117.27 296.64 L118.39 298.93 L119.52 301.22 L120.66 303.51 L121.80 305.78 L122.96 308.06 L124.12 310.33 L125.29 312.59 L126.47 314.85 L127.65 317.11 L128.85 319.36 L130.05 321.60 L131.26 323.84 L132.48 326.08 L133.71 328.30 L134.94 330.53 L136.19 332.74 L137.44 334.95 L138.71 337.16 L139.98 339.35 L141.27 341.55 L142.56 343.73 L143.87 345.91 L145.18 348.08 L146.51 350.25 L147.84 352.40 L149.19 354.55 L150.54 356.70 L151.91 358.84 L153.28 360.97 L154.67 363.09 L156.07 365.20 L157.47 367.31 L158.89 369.41 L160.32 371.51 L161.76 373.60 L163.21 375.68 L164.67 377.75 L166.14 379.81 L167.62 381.87 L169.11 383.92 L170.61 385.96 L172.13 388.00 L173.65 390.03 L175.18 392.05 L176.73 394.06 L178.28 396.06 L179.85 398.06 L181.43 400.05 L183.02 402.03 L184.62 404.00 L186.23 405.97 L187.85 407.92 L189.48 409.87 L191.12 411.81 L192.77 413.75 L194.43 415.67 L196.11 417.59 L197.79 419.50 L199.48 421.40 L201.19 423.29 L202.90 425.17 L204.63 427.05 L206.36 428.91 L208.10 430.77 L209.86 432.62 L211.62 434.46 L213.39 436.29 L215.18 438.11 L216.97 439.92 L218.77 441.73 L220.58 443.52 L222.40 445.31 L224.24 447.09 L226.08 448.86 L227.92 450.62 L229.78 452.37 L231.65 454.11 L233.53 455.84 L235.41 457.56 L237.31 459.27 L239.21 460.98 L241.12 462.67 L243.04 464.36 L244.97 466.03 L246.91 467.70 L248.86 469.35 L250.81 471.00 L252.77 472.63 L254.75 474.26 L256.73 475.88 L258.72 477.48 L260.71 479.08 L262.72 480.67 L264.73 482.24 L266.75 483.81 L268.78 485.36 L270.82 486.91 L272.86 488.45 L274.91 489.97 L276.97 491.49 L279.04 492.99 L281.11 494.48 L283.20 495.97 L285.29 497.44 L287.38 498.90 L289.49 500.35 L291.60 501.79 L293.72 503.22 L295.85 504.64 L297.98 506.05 L300.12 507.45 L302.27 508.84 L304.42 510.21 L306.58 511.58 L308.75 512.93 L310.92 514.27 L313.10 515.60 L315.29 516.92 L317.48 518.23 L319.68 519.53 L321.89 520.81 L324.10 522.09 L326.32 523.35 L328.55 524.60 L330.78 525.84 L333.02 527.07 L335.26 528.28 L337.51 529.49 L339.76 530.68 L342.03 531.86 L344.29 533.03 L346.56 534.19 L348.84 535.33 L351.13 536.46 L353.42 537.58 L355.71 538.69 L358.01 539.79 L360.31 540.87 L362.63 541.94 L364.94 543.00 L367.26 544.04 L369.59 545.07 L371.92 546.09 L374.26 547.09 L376.60 548.08 L378.95 549.06 L381.30 550.02 L383.66 550.96 L386.02 551.89 L388.39 552.81 L390.77 553.71 L393.15 554.59 L395.53 555.46 L397.92 556.31 L400.32 557.14 L402.72 557.96 L405.12 558.76 L407.53 559.55 L409.95 560.31 L412.37 561.06 L414.80 561.80 L417.23 562.51 L419.67 563.20 L422.11 563.88 L424.55 564.54 L427.01 565.18 L429.46 565.80 L431.92 566.40 L450.07 566.83 L447.49 566.26 L444.92 565.67 L442.35 565.05 L439.80 564.40 L437.26 563.73 L434.73 563.03 L432.20 562.31 L429.69 561.56 L427.18 560.79 L424.68 560.00 L422.20 559.18 L419.72 558.35 L417.24 557.49 L414.78 556.61 L412.32 555.72 L409.87 554.80 L407.43 553.87 L405.00 552.92 L402.57 551.95 L400.15 550.96 L397.73 549.96 L395.32 548.95 L392.92 547.92 L390.52 546.88 L388.13 545.82 L385.74 544.76 L383.36 543.68 L380.98 542.59 L378.61 541.48 L376.24 540.37 L373.88 539.25 L371.52 538.12 L369.16 536.99 L366.81 535.84 L364.46 534.69 L362.12 533.54 L359.77 532.38 L357.43 531.21 L355.10 530.04 L352.76 528.87 L350.43 527.69 L348.10 526.51 L345.77 525.32 L343.45 524.13 L341.13 522.92 L338.82 521.71 L336.51 520.49 L334.21 519.26 L331.92 518.01 L329.63 516.75 L327.36 515.48 L325.09 514.19 L322.83 512.89 L320.58 511.57 L318.34 510.23 L316.11 508.88 L313.88 507.52 L311.67 506.14 L309.46 504.75 L307.26 503.34 L305.07 501.92 L302.89 500.49 L300.72 499.04 L298.55 497.58 L296.40 496.10 L294.25 494.61 L292.11 493.11 L289.98 491.60 L287.86 490.07 L285.74 488.53 L283.64 486.98 L281.54 485.42 L279.45 483.84 L277.37 482.26 L275.30 480.66 L273.23 479.05 L271.17 477.43 L269.13 475.80 L267.09 474.15 L265.05 472.50 L263.03 470.83 L261.01 469.16 L259.00 467.47 L257.00 465.78 L255.01 464.07 L253.02 462.35 L251.05 460.63 L249.08 458.89 L247.12 457.15 L245.16 455.40 L243.22 453.63 L241.28 451.86 L239.35 450.08 L237.43 448.30 L235.51 446.50 L233.60 444.69 L231.70 442.88 L229.81 441.06 L227.93 439.23 L226.05 437.40 L224.18 435.55 L222.32 433.70 L220.46 431.85 L218.61 429.98 L216.77 428.11 L214.94 426.23 L213.12 424.35 L211.30 422.46 L209.49 420.56 L207.68 418.66 L205.89 416.75 L204.10 414.84 L202.32 412.92 L200.54 411.00 L198.77 409.07 L197.01 407.14 L195.26 405.20 L193.51 403.25 L191.77 401.31 L190.04 399.36 L188.32 397.40 L186.60 395.43 L184.90 393.46 L183.21 391.48 L181.53 389.49 L179.86 387.48 L178.21 385.46 L176.58 383.43 L174.95 381.39 L173.35 379.33 L171.76 377.27 L170.18 375.19 L168.61 373.10 L167.06 371.00 L165.53 368.89 L164.01 366.76 L162.50 364.63 L161.01 362.49 L159.53 360.33 L158.07 358.17 L156.62 355.99 L155.19 353.81 L153.77 351.62 L152.36 349.42 L150.97 347.21 L149.59 344.99 L148.23 342.76 L146.88 340.52 L145.54 338.28 L144.22 336.02 L142.91 333.76 L141.61 331.50 L140.32 329.22 L139.04 326.94 L137.77 324.66 L136.52 322.36 L135.27 320.06 L134.03 317.76 L132.80 315.45 L131.58 313.13 L130.36 310.81 L129.15 308.48 L127.95 306.15 L126.76 303.82 L125.58 301.48 L124.40 299.14 L123.23 296.79 L122.06 294.43 L120.91 292.08 L119.76 289.72 L118.62 287.35 L117.49 284.98 L116.36 282.61 L115.25 280.23 L114.14 277.85 L113.05 275.46 L111.96 273.07 L110.88 270.68 L109.80 268.28 L108.74 265.88 L107.69 263.47 L106.65 261.06 L105.61 258.65 L104.59 256.23 L103.57 253.81 L102.57 251.39 L101.57 248.96 L100.59 246.53 L99.61 244.10 L98.65 241.66 L97.69 239.22 L96.75 236.77 L95.82 234.33 L94.90 231.87 L93.99 229.42 L93.09 226.96 L92.20 224.50 L91.32 222.04 L90.45 219.57 L89.60 217.10 L88.75 214.63 L87.92 212.15 L87.10 209.67 L86.29 207.18 L85.50 204.69 L84.71 202.20 L83.94 199.71 L83.18 197.21 L82.43 194.71 L81.69 192.20 L80.97 189.70 L80.26 187.18 L79.56 184.67 L78.88 182.15 L78.20 179.63 L77.54 177.10 L76.90 174.57 L76.26 172.04 L75.64 169.50 L75.03 166.96 L74.44 164.42 L73.86 161.87 L73.29 159.32 L72.74 156.76 L72.20 154.20 L71.67 151.64 L71.16 149.07 L70.66 146.50 L70.17 143.93 L69.70 141.35 L69.25 138.77 L68.81 136.18 L68.38 133.59 L67.97 131.00 L67.57 128.40 L67.19 125.80 L66.82 123.19 L66.47 120.59 L66.13 117.97 Z" fill="rgb(235,98,53)" fill-opacity="0.32" stroke="none"/>
<path d="M65.77 124.08 L66.02 126.61 L66.28 129.15 L66.56 131.68 L66.85 134.21 L67.16 136.74 L67.49 139.26 L67.83 141.79 L68.19 144.31 L68.56 146.83 L68.95 149.34 L69.35 151.85 L69.77 154.36 L70.21 156.87 L70.66 159.38 L71.12 161.88 L71.60 164.38 L72.09 166.87 L72.60 169.37 L73.12 171.86 L73.66 174.35 L74.21 176.83 L74.77 179.31 L75.35 181.79 L75.94 184.27 L76.55 186.74 L77.17 189.21 L77.80 191.68 L78.45 194.14 L79.11 196.60 L79.78 199.06 L80.47 201.51 L81.17 203.96 L81.88 206.41 L82.60 208.85 L83.34 211.30 L84.09 213.73 L84.85 216.17 L85.62 218.60 L86.41 221.02 L87.21 223.45 L88.02 225.87 L88.84 228.28 L89.67 230.70 L90.51 233.10 L91.37 235.51 L92.24 237.91 L93.12 240.31 L94.01 242.70 L94.91 245.09 L95.82 247.48 L96.74 249.86 L97.67 252.24 L98.62 254.61 L99.57 256.98 L100.54 259.35 L101.51 261.71 L102.49 264.07 L103.49 266.43 L104.49 268.78 L105.51 271.12 L106.53 273.46 L107.56 275.80 L108.61 278.13 L109.66 280.46 L110.72 282.79 L111.79 285.11 L112.87 287.42 L113.95 289.73 L115.05 292.04 L116.15 294.34 L117.27 296.64 L118.39 298.93 L119.52 301.22 L120.66 303.51 L121.80 305.78 L122.96 308.06 L124.12 310.33 L125.29 312.59 L126.47 314.85 L127.65 317.11 L128.85 319.36 L130.05 321.60 L131.26 323.84 L132.48 326.08 L133.71 328.30 L134.94 330.53 L136.19 332.74 L137.44 334.95 L138.71 337.16 L139.98 339.35 L141.27 341.55 L142.56 343.73 L143.87 345.91 L145.18 348.08 L146.51 350.25 L147.84 352.40 L149.19 354.55 L150.54 356.70 L151.91 358.84 L153.28 360.97 L154.67 363.09 L156.07 365.20 L157.47 367.31 L158.89 369.41 L160.32 371.51 L161.76 373.60 L163.21 375.68 L164.67 377.75 L166.14 379.81 L167.62 381.87 L169.11 383.92 L170.61 385.96 L172.13 388.00 L173.65 390.03 L175.18 392.05 L176.73 394.06 L178.28 396.06 L179.85 398.06 L181.43 400.05 L183.02 402.03 L184.62 404.00 L186.23 405.97 L187.85 407.92 L189.48 409.87 L191.12 411.81 L192.77 413.75 L194.43 415.67 L196.11 417.59 L197.79 419.50 L199.48 421.40 L201.19 423.29 L202.90 425.17 L204.63 427.05 L206.36 428.91 L208.10 430.77 L209.86 432.62 L211.62 434.46 L213.39 436.29 L215.18 438.11 L216.97 439.92 L218.77 441.73 L220.58 443.52 L222.40 445.31 L224.24 447.09 L226.08 448.86 L227.92 450.62 L229.78 452.37 L231.65 454.11 L233.53 455.84 L235.41 457.56 L237.31 459.27 L239.21 460.98 L241.12 462.67 L243.04 464.36 L244.97 466.03 L246.91 467.70 L248.86 469.35 L250.81 471.00 L252.77 472.63 L254.75 474.26 L256.73 475.88 L258.72 477.48 L260.71 479.08 L262.72 480.67 L264.73 482.24 L266.75 483.81 L268.78 485.36 L270.82 486.91 L272.86 488.45 L274.91 489.97 L276.97 491.49 L279.04 492.99 L281.11 494.48 L283.20 495.97 L285.29 497.44 L287.38 498.90 L289.49 500.35 L291.60 501.79 L293.72 503.22 L295.85 504.64 L297.98 506.05 L300.12 507.45 L302.27 508.84 L304.42 510.21 L306.58 511.58 L308.75 512.93 L310.92 514.27 L313.10 515.60 L315.29 516.92 L317.48 518.23 L319.68 519.53 L321.89 520.81 L324.10 522.09 L326.32 523.35 L328.55 524.60 L330.78 525.84 L333.02 527.07 L335.26 528.28 L337.51 529.49 L339.76 530.68 L342.03 531.86 L344.29 533.03 L346.56 534.19 L348.84 535.33 L351.13 536.46 L353.42 537.58 L355.71 538.69 L358.01 539.79 L360.31 540.87 L362.63 541.94 L364.94 543.00 L367.26 544.04 L369.59 545.07 L371.92 546.09 L374.26 547.09 L376.60 548.08 L378.95 549.06 L381.30 550.02 L383.66 550.96 L386.02 551.89 L388.39 552.81 L390.77 553.71 L393.15 554.59 L395.53 555.46 L397.92 556.31 L400.32 557.14 L402.72 557.96 L405.12 558.76 L407.53 559.55 L409.95 560.31 L412.37 561.06 L414.80 561.80 L417.23 562.51 L419.67 563.20 L422.11 563.88 L424.55 564.54 L427.01 565.18 L429.46 565.80 L431.92 566.40" fill="none" stroke="rgb(222,86,45)" stroke-width="1.75" stroke-dasharray="5.5 2.1"/>
<path d="M66.13 117.97 L66.47 120.59 L66.82 123.19 L67.19 125.80 L67.57 128.40 L67.97 131.00 L68.38 133.59 L68.81 136.18 L69.25 138.77 L69.70 141.35 L70.17 143.93 L70.66 146.50 L71.16 149.07 L71.67 151.64 L72.20 154.20 L72.74 156.76 L73.29 159.32 L73.86 161.87 L74.44 164.42 L75.03 166.96 L75.64 169.50 L76.26 172.04 L76.90 174.57 L77.54 177.10 L78.20 179.63 L78.88 182.15 L79.56 184.67 L80.26 187.18 L80.97 189.70 L81.69 192.20 L82.43 194.71 L83.18 197.21 L83.94 199.71 L84.71 202.20 L85.50 204.69 L86.29 207.18 L87.10 209.67 L87.92 212.15 L88.75 214.63 L89.60 217.10 L90.45 219.57 L91.32 222.04 L92.20 224.50 L93.09 226.96 L93.99 229.42 L94.90 231.87 L95.82 234.33 L96.75 236.77 L97.69 239.22 L98.65 241.66 L99.61 244.10 L100.59 246.53 L101.57 248.96 L102.57 251.39 L103.57 253.81 L104.59 256.23 L105.61 258.65 L106.65 261.06 L107.69 263.47 L108.74 265.88 L109.80 268.28 L110.88 270.68 L111.96 273.07 L113.05 275.46 L114.14 277.85 L115.25 280.23 L116.36 282.61 L117.49 284.98 L118.62 287.35 L119.76 289.72 L120.91 292.08 L122.06 294.43 L123.23 296.79 L124.40 299.14 L125.58 301.48 L126.76 303.82 L127.95 306.15 L129.15 308.48 L130.36 310.81 L131.58 313.13 L132.80 315.45 L134.03 317.76 L135.27 320.06 L136.52 322.36 L137.77 324.66 L139.04 326.94 L140.32 329.22 L141.61 331.50 L142.91 333.76 L144.22 336.02 L145.54 338.28 L146.88 340.52 L148.23 342.76 L149.59 344.99 L150.97 347.21 L152.36 349.42 L153.77 351.62 L155.19 353.81 L156.62 355.99 L158.07 358.17 L159.53 360.33 L161.01 362.49 L162.50 364.63 L164.01 366.76 L165.53 368.89 L167.06 371.00 L168.61 373.10 L170.18 375.19 L171.76 377.27 L173.35 379.33 L174.95 381.39 L176.58 383.43 L178.21 385.46 L179.86 387.48 L181.53 389.49 L183.21 391.48 L184.90 393.46 L186.60 395.43 L188.32 397.40 L190.04 399.36 L191.77 401.31 L193.51 403.25 L195.26 405.20 L197.01 407.14 L198.77 409.07 L200.54 411.00 L202.32 412.92 L204.10 414.84 L205.89 416.75 L207.68 418.66 L209.49 420.56 L211.30 422.46 L213.12 424.35 L214.94 426.23 L216.77 428.11 L218.61 429.98 L220.46 431.85 L222.32 433.70 L224.18 435.55 L226.05 437.40 L227.93 439.23 L229.81 441.06 L231.70 442.88 L233.60 444.69 L235.51 446.50 L237.43 448.30 L239.35 450.08 L241.28 451.86 L243.22 453.63 L245.16 455.40 L247.12 457.15 L249.08 458.89 L251.05 460.63 L253.02 462.35 L255.01 464.07 L257.00 465.78 L259.00 467.47 L261.01 469.16 L263.03 470.83 L265.05 472.50 L267.09 474.15 L269.13 475.80 L271.17 477.43 L273.23 479.05 L275.30 480.66 L277.37 482.26 L279.45 483.84 L281.54 485.42 L283.64 486.98 L285.74 488.53 L287.86 490.07 L289.98 491.60 L292.11 493.11 L294.25 494.61 L296.40 496.10 L298.55 497.58 L300.72 499.04 L302.89 500.49 L305.07 501.92 L307.26 503.34 L309.46 504.75 L311.67 506.14 L313.88 507.52 L316.11 508.88 L318.34 510.23 L320.58 511.57 L322.83 512.89 L325.09 514.19 L327.36 515.48 L329.63 516.75 L331.92 518.01 L334.21 519.26 L336.51 520.49 L338.82 521.71 L341.13 522.92 L343.45 524.13 L345.77 525.32 L348.10 526.51 L350.43 527.69 L352.76 528.87 L355.10 530.04 L357.43 531.21 L359.77 532.38 L362.12 533.54 L364.46 534.69 L366.81 535.84 L369.16 536.99 L371.52 538.12 L373.88 539.25 L376.24 540.37 L378.61 541.48 L380.98 542.59 L383.36 543.68 L385.74 544.76 L388.13 545.82 L390.52 546.88 L392.92 547.92 L395.32 548.95 L397.73 549.96 L400.15 550.96 L402.57 551.95 L405.00 552.92 L407.43 553.87 L409.87 554.80 L412.32 555.72 L414.78 556.61 L417.24 557.49 L419.72 558.35 L422.20 559.18 L424.68 560.00 L427.18 560.79 L429.69 561.56 L432.20 562.31 L434.73 563.03 L437.26 563.73 L439.80 564.40 L442.35 565.05 L444.92 565.67 L447.49 566.26 L450.07 566.83" fill="none" stroke="rgb(222,86,45)" stroke-width="1.75" stroke-dasharray="5.5 2.1"/>
<path d="M66.26 89.16 L66.51 90.70 L66.77 92.25 L67.03 93.80 L67.30 95.34 L67.57 96.89 L67.85 98.43 L68.14 99.97 L68.43 101.51 L68.73 103.05 L69.04 104.59 L69.35 106.13 L69.66 107.67 L69.99 109.20 L70.31 110.74 L70.65 112.27 L70.99 113.81 L71.34 115.34 L71.69 116.87 L72.05 118.40 L72.41 119.92 L72.78 121.45 L73.15 122.97 L73.53 124.50 L73.92 126.02 L74.31 127.54 L74.71 129.06 L75.11 130.58 L75.52 132.09 L75.93 133.61 L76.35 135.12 L76.78 136.64 L77.21 138.15 L77.64 139.66 L78.08 141.16 L78.53 142.67 L78.98 144.18 L79.43 145.68 L79.89 147.18 L80.36 148.68 L80.83 150.18 L81.31 151.68 L81.79 153.17 L82.28 154.67 L82.77 156.16 L83.26 157.65 L83.76 159.14 L84.27 160.63 L84.78 162.11 L85.29 163.60 L85.81 165.08 L86.34 166.56 L86.87 168.04 L87.40 169.52 L87.94 171.00 L88.48 172.47 L89.03 173.94 L89.58 175.42 L90.14 176.88 L90.70 178.35 L91.26 179.82 L91.83 181.28 L92.41 182.75 L92.98 184.21 L93.56 185.67 L94.15 187.13 L94.74 188.58 L95.34 190.04 L95.93 191.49 L96.54 192.94 L97.14 194.39 L97.75 195.84 L98.37 197.29 L98.99 198.73 L99.61 200.17 L100.23 201.61 L100.86 203.05 L101.50 204.49 L102.13 205.93 L102.77 207.36 L103.42 208.80 L104.07 210.23 L104.72 211.66 L105.38 213.09 L106.03 214.51 L106.70 215.94 L107.36 217.36 L108.03 218.78 L108.71 220.20 L109.38 221.62 L110.07 223.04 L110.75 224.45 L111.44 225.86 L112.13 227.27 L112.82 228.68 L113.52 230.09 L114.22 231.50 L114.93 232.90 L115.64 234.30 L116.35 235.71 L117.07 237.10 L117.79 238.50 L118.51 239.90 L119.23 241.29 L119.96 242.68 L120.69 244.07 L121.43 245.46 L122.17 246.85 L122.91 248.23 L123.66 249.62 L124.41 251.00 L125.16 252.38 L125.91 253.76 L126.67 255.13 L127.43 256.51 L128.20 257.88 L128.97 259.25 L129.74 260.62 L130.51 261.99 L131.29 263.35 L132.07 264.72 L132.85 266.08 L133.64 267.44 L134.43 268.80 L135.22 270.15 L136.02 271.51 L136.82 272.86 L137.62 274.21 L138.43 275.56 L139.24 276.91 L140.05 278.26 L140.86 279.60 L141.68 280.94 L142.50 282.28 L143.32 283.62 L144.15 284.96 L144.98 286.29 L145.81 287.63 L146.64 288.96 L147.48 290.29 L148.32 291.62 L149.17 292.94 L150.01 294.27 L150.86 295.59 L151.71 296.91 L152.57 298.23 L153.43 299.54 L154.29 300.86 L155.15 302.17 L156.02 303.48 L156.89 304.79 L157.76 306.10 L158.64 307.40 L159.51 308.71 L160.39 310.01 L161.28 311.31 L162.17 312.60 L163.05 313.90 L163.95 315.19 L164.84 316.48 L165.74 317.77 L166.64 319.06 L167.55 320.35 L168.45 321.63 L169.36 322.91 L170.28 324.19 L171.19 325.47 L172.11 326.74 L173.04 328.01 L173.96 329.28 L174.89 330.55 L175.82 331.81 L176.76 333.08 L177.70 334.34 L178.64 335.60 L179.58 336.85 L180.53 338.11 L181.48 339.36 L182.44 340.60 L183.40 341.85 L184.36 343.09 L185.32 344.33 L186.29 345.57 L187.26 346.81 L188.24 348.04 L189.21 349.27 L190.19 350.50 L191.18 351.73 L192.16 352.95 L193.15 354.17 L194.14 355.39 L195.14 356.61 L196.13 357.82 L197.14 359.03 L198.14 360.24 L199.14 361.45 L200.15 362.66 L201.16 363.86 L202.17 365.06 L203.19 366.26 L204.21 367.46 L205.23 368.65 L206.25 369.85 L207.28 371.04 L208.30 372.23 L209.33 373.41 L210.36 374.60 L211.40 375.78 L212.43 376.96 L213.47 378.14 L214.51 379.32 L215.55 380.50 L216.60 381.67 L217.64 382.85 L218.69 384.02 L219.74 385.19 L220.79 386.36 L221.84 387.52 L222.90 388.69 L223.95 389.85 L225.01 391.01 L226.07 392.18 L227.13 393.34 L228.19 394.49 L229.25 395.65 L230.31 396.81 L231.38 397.97 L232.44 399.12 L233.51 400.28 L234.58 401.43 L235.65 402.58 L236.71 403.73 L237.79 404.88 L238.86 406.03 L239.93 407.18 L241.00 408.33 L242.08 409.47 L243.16 410.62 L244.23 411.76 L245.31 412.90 L246.39 414.04 L247.47 415.18 L248.56 416.32 L249.64 417.45 L250.73 418.59 L251.82 419.72 L252.91 420.85 L254.00 421.98 L255.09 423.11 L256.19 424.24 L257.29 425.36 L258.39 426.48 L259.49 427.61 L260.59 428.72 L261.70 429.84 L262.81 430.95 L263.92 432.07 L265.03 433.18 L266.14 434.28 L267.26 435.39 L268.38 436.49 L269.50 437.59 L270.62 438.69 L271.75 439.79 L272.88 440.88 L274.01 441.97 L275.15 443.06 L276.28 444.14 L277.42 445.23 L278.56 446.30 L279.71 447.38 L280.86 448.45 L282.01 449.52 L283.16 450.59 L284.32 451.65 L285.48 452.71 L286.64 453.77 L287.81 454.83 L288.98 455.88 L290.15 456.92 L291.32 457.97 L292.50 459.01 L293.68 460.04 L294.87 461.08 L296.05 462.11 L297.24 463.14 L298.43 464.16 L299.63 465.18 L300.82 466.20 L302.02 467.22 L303.23 468.23 L304.43 469.24 L305.63 470.25 L306.84 471.25 L308.05 472.25 L309.27 473.25 L310.48 474.25 L311.70 475.25 L312.91 476.24 L314.13 477.23 L315.36 478.22 L316.58 479.20 L317.80 480.19 L319.03 481.17 L320.26 482.15 L321.49 483.13 L322.72 484.10 L323.95 485.08 L325.19 486.05 L326.42 487.02 L327.66 487.99 L328.90 488.96 L330.14 489.93 L331.38 490.90 L332.62 491.86 L333.86 492.82 L335.10 493.78 L336.34 494.75 L337.59 495.71 L338.83 496.66 L340.08 497.62 L341.33 498.58 L342.57 499.54 L343.82 500.49 L345.07 501.45 L346.32 502.40 L347.57 503.35 L348.81 504.31 L350.06 505.26 L351.31 506.21 L352.56 507.17 L353.81 508.12 L355.06 509.07 L356.31 510.02 L357.56 510.98 L358.81 511.93 L360.06 512.88 L361.31 513.83 L362.56 514.79 L363.81 515.74 L365.06 516.69 L366.31 517.65 L367.56 518.60 L368.81 519.56 L370.05 520.51 L371.30 521.47 L372.55 522.42 L373.80 523.37 L375.05 524.33 L376.30 525.28 L377.55 526.23 L378.80 527.18 L380.05 528.13 L381.31 529.08 L382.56 530.02 L383.82 530.97 L385.08 531.91 L386.33 532.85 L387.60 533.79 L388.86 534.72 L390.12 535.65 L391.39 536.58 L392.66 537.50 L393.94 538.42 L395.21 539.34 L396.49 540.25 L397.77 541.16 L399.06 542.06 L400.35 542.96 L401.64 543.85 L402.94 544.74 L404.24 545.62 L405.54 546.49 L406.85 547.36 L408.17 548.22 L409.48 549.08 L410.81 549.93 L412.13 550.77 L413.46 551.60 L414.80 552.43 L416.14 553.24 L417.49 554.05 L418.84 554.85 L420.20 555.64 L421.56 556.43 L422.92 557.20 L424.30 557.96 L425.67 558.72 L427.05 559.46 L428.44 560.19 L429.84 560.92 L431.23 561.63 L432.64 562.33 L434.05 563.02 L435.46 563.70 L436.88 564.36 L438.31 565.02 L439.74 565.66 L441.17 566.29 L442.61 566.91 L462.40 566.98 L460.82 566.47 L459.25 565.94 L457.68 565.39 L456.11 564.83 L454.56 564.25 L453.00 563.65 L451.46 563.04 L449.92 562.41 L448.39 561.76 L446.86 561.10 L445.34 560.43 L443.83 559.74 L442.32 559.03 L440.82 558.32 L439.33 557.58 L437.84 556.84 L436.36 556.08 L434.88 555.31 L433.41 554.53 L431.95 553.74 L430.50 552.93 L429.04 552.12 L427.60 551.29 L426.16 550.46 L424.73 549.61 L423.30 548.75 L421.88 547.89 L420.46 547.02 L419.05 546.14 L417.64 545.25 L416.24 544.35 L414.84 543.45 L413.45 542.53 L412.06 541.62 L410.67 540.69 L409.29 539.76 L407.91 538.83 L406.54 537.89 L405.17 536.95 L403.80 536.00 L402.43 535.04 L401.07 534.09 L399.71 533.13 L398.35 532.16 L397.00 531.20 L395.64 530.23 L394.29 529.26 L392.94 528.28 L391.59 527.31 L390.24 526.33 L388.90 525.35 L387.55 524.37 L386.21 523.39 L384.87 522.40 L383.52 521.41 L382.18 520.43 L380.84 519.44 L379.51 518.45 L378.17 517.45 L376.83 516.46 L375.50 515.47 L374.16 514.47 L372.83 513.47 L371.50 512.47 L370.17 511.47 L368.84 510.47 L367.51 509.46 L366.18 508.46 L364.85 507.45 L363.53 506.44 L362.21 505.43 L360.88 504.42 L359.56 503.41 L358.24 502.39 L356.92 501.38 L355.60 500.36 L354.29 499.34 L352.97 498.32 L351.66 497.29 L350.35 496.27 L349.04 495.24 L347.73 494.21 L346.42 493.18 L345.11 492.15 L343.81 491.12 L342.50 490.08 L341.20 489.04 L339.90 488.00 L338.60 486.96 L337.30 485.92 L336.00 484.87 L334.71 483.83 L333.41 482.78 L332.12 481.73 L330.83 480.68 L329.54 479.62 L328.26 478.56 L326.97 477.51 L325.69 476.45 L324.41 475.38 L323.13 474.32 L321.85 473.25 L320.57 472.18 L319.29 471.11 L318.02 470.04 L316.75 468.96 L315.48 467.89 L314.21 466.81 L312.95 465.72 L311.68 464.64 L310.42 463.55 L309.16 462.47 L307.90 461.37 L306.64 460.28 L305.39 459.19 L304.14 458.09 L302.89 456.99 L301.64 455.89 L300.39 454.78 L299.15 453.68 L297.90 452.57 L296.66 451.46 L295.43 450.34 L294.19 449.23 L292.96 448.11 L291.72 446.99 L290.49 445.87 L289.27 444.74 L288.04 443.62 L286.81 442.49 L285.59 441.36 L284.37 440.22 L283.15 439.09 L281.94 437.95 L280.72 436.81 L279.51 435.67 L278.30 434.53 L277.09 433.39 L275.88 432.24 L274.67 431.09 L273.47 429.94 L272.26 428.79 L271.06 427.64 L269.86 426.48 L268.67 425.33 L267.47 424.17 L266.27 423.01 L265.08 421.85 L263.89 420.69 L262.70 419.52 L261.51 418.36 L260.32 417.19 L259.13 416.02 L257.95 414.85 L256.76 413.68 L255.58 412.51 L254.40 411.34 L253.22 410.16 L252.04 408.99 L250.86 407.81 L249.69 406.63 L248.51 405.46 L247.33 404.28 L246.16 403.09 L244.99 401.91 L243.82 400.73 L242.65 399.55 L241.48 398.36 L240.31 397.17 L239.14 395.99 L237.98 394.80 L236.82 393.60 L235.65 392.41 L234.49 391.22 L233.33 390.02 L232.18 388.83 L231.02 387.63 L229.87 386.42 L228.72 385.22 L227.57 384.02 L226.43 382.81 L225.28 381.60 L224.14 380.38 L223.00 379.17 L221.87 377.95 L220.73 376.73 L219.60 375.51 L218.48 374.28 L217.36 373.05 L216.24 371.82 L215.12 370.58 L214.01 369.35 L212.90 368.10 L211.79 366.86 L210.69 365.61 L209.59 364.36 L208.49 363.11 L207.40 361.85 L206.31 360.59 L205.22 359.33 L204.14 358.07 L203.06 356.80 L201.98 355.53 L200.91 354.25 L199.84 352.98 L198.77 351.70 L197.71 350.42 L196.65 349.13 L195.60 347.84 L194.54 346.55 L193.50 345.26 L192.45 343.96 L191.41 342.66 L190.37 341.36 L189.34 340.05 L188.31 338.75 L187.28 337.43 L186.26 336.12 L185.24 334.80 L184.22 333.49 L183.21 332.16 L182.20 330.84 L181.19 329.51 L180.19 328.18 L179.19 326.85 L178.20 325.51 L177.20 324.18 L176.22 322.84 L175.23 321.49 L174.25 320.15 L173.27 318.80 L172.30 317.45 L171.33 316.10 L170.36 314.74 L169.40 313.38 L168.44 312.02 L167.48 310.66 L166.53 309.29 L165.58 307.93 L164.63 306.56 L163.68 305.18 L162.74 303.81 L161.81 302.43 L160.88 301.05 L159.95 299.67 L159.02 298.29 L158.10 296.90 L157.18 295.51 L156.26 294.12 L155.35 292.73 L154.44 291.33 L153.53 289.94 L152.63 288.54 L151.73 287.14 L150.83 285.73 L149.94 284.33 L149.05 282.92 L148.17 281.51 L147.28 280.10 L146.41 278.68 L145.53 277.26 L144.66 275.85 L143.79 274.43 L142.92 273.00 L142.06 271.58 L141.20 270.15 L140.35 268.72 L139.50 267.29 L138.65 265.86 L137.81 264.42 L136.97 262.98 L136.13 261.54 L135.29 260.10 L134.46 258.66 L133.64 257.21 L132.81 255.77 L131.99 254.32 L131.18 252.87 L130.36 251.41 L129.55 249.96 L128.75 248.50 L127.95 247.04 L127.15 245.58 L126.35 244.12 L125.56 242.65 L124.77 241.19 L123.99 239.72 L123.21 238.25 L122.43 236.77 L121.66 235.30 L120.89 233.82 L120.12 232.34 L119.36 230.86 L118.60 229.38 L117.84 227.90 L117.09 226.41 L116.34 224.92 L115.60 223.43 L114.86 221.94 L114.12 220.45 L113.39 218.96 L112.66 217.46 L111.93 215.96 L111.21 214.46 L110.49 212.96 L109.77 211.45 L109.06 209.95 L108.35 208.44 L107.65 206.93 L106.95 205.42 L106.25 203.91 L105.56 202.39 L104.87 200.88 L104.19 199.36 L103.51 197.84 L102.83 196.32 L102.16 194.80 L101.49 193.27 L100.82 191.75 L100.16 190.22 L99.50 188.69 L98.85 187.16 L98.20 185.62 L97.55 184.09 L96.91 182.55 L96.27 181.01 L95.63 179.47 L95.00 177.93 L94.38 176.39 L93.76 174.85 L93.14 173.30 L92.53 171.75 L91.92 170.20 L91.32 168.65 L90.72 167.09 L90.13 165.54 L89.54 163.98 L88.95 162.42 L88.38 160.86 L87.80 159.30 L87.23 157.73 L86.67 156.16 L86.12 154.59 L85.56 153.02 L85.02 151.45 L84.48 149.87 L83.95 148.30 L83.42 146.72 L82.90 145.14 L82.38 143.55 L81.87 141.97 L81.37 140.38 L80.87 138.79 L80.38 137.20 L79.89 135.61 L79.42 134.01 L78.95 132.42 L78.48 130.82 L78.03 129.22 L77.58 127.61 L77.13 126.01 L76.70 124.40 L76.27 122.79 L75.85 121.18 L75.44 119.57 L75.03 117.95 L74.63 116.34 L74.24 114.72 L73.86 113.10 L73.48 111.48 L73.12 109.86 L72.76 108.23 L72.41 106.60 L72.06 104.98 L71.73 103.35 L71.40 101.71 L71.08 100.08 L70.78 98.45 L70.48 96.81 L70.18 95.17 L69.90 93.53 L69.63 91.89 L69.36 90.25 L69.10 88.61 L68.86 86.96 L68.62 85.32 L68.39 83.67 L68.17 82.02 L67.96 80.37 L67.76 78.72 L67.57 77.07 L67.38 75.42 L67.21 73.76 L67.05 72.11 L66.89 70.45 L66.75 68.80 L66.61 67.14 L66.49 65.49 L66.37 63.83 Z" fill="rgb(135,120,179)" fill-opacity="0.45" stroke="none"/>
<path d="M66.26 89.16 L66.51 90.70 L66.77 92.25 L67.03 93.80 L67.30 95.34 L67.57 96.89 L67.85 98.43 L68.14 99.97 L68.43 101.51 L68.73 103.05 L69.04 104.59 L69.35 106.13 L69.66 107.67 L69.99 109.20 L70.31 110.74 L70.65 112.27 L70.99 113.81 L71.34 115.34 L71.69 116.87 L72.05 118.40 L72.41 119.92 L72.78 121.45 L73.15 122.97 L73.53 124.50 L73.92 126.02 L74.31 127.54 L74.71 129.06 L75.11 130.58 L75.52 132.09 L75.93 133.61 L76.35 135.12 L76.78 136.64 L77.21 138.15 L77.64 139.66 L78.08 141.16 L78.53 142.67 L78.98 144.18 L79.43 145.68 L79.89 147.18 L80.36 148.68 L80.83 150.18 L81.31 151.68 L81.79 153.17 L82.28 154.67 L82.77 156.16 L83.26 157.65 L83.76 159.14 L84.27 160.63 L84.78 162.11 L85.29 163.60 L85.81 165.08 L86.34 166.56 L86.87 168.04 L87.40 169.52 L87.94 171.00 L88.48 172.47 L89.03 173.94 L89.58 175.42 L90.14 176.88 L90.70 178.35 L91.26 179.82 L91.83 181.28 L92.41 182.75 L92.98 184.21 L93.56 185.67 L94.15 187.13 L94.74 188.58 L95.34 190.04 L95.93 191.49 L96.54 192.94 L97.14 194.39 L97.75 195.84 L98.37 197.29 L98.99 198.73 L99.61 200.17 L100.23 201.61 L100.86 203.05 L101.50 204.49 L102.13 205.93 L102.77 207.36 L103.42 208.80 L104.07 210.23 L104.72 211.66 L105.38 213.09 L106.03 214.51 L106.70 215.94 L107.36 217.36 L108.03 218.78 L108.71 220.20 L109.38 221.62 L110.07 223.04 L110.75 224.45 L111.44 225.86 L112.13 227.27 L112.82 228.68 L113.52 230.09 L114.22 231.50 L114.93 232.90 L115.64 234.30 L116.35 235.71 L117.07 237.10 L117.79 238.50 L118.51 239.90 L119.23 241.29 L119.96 242.68 L120.69 244.07 L121.43 245.46 L122.17 246.85 L122.91 248.23 L123.66 249.62 L124.41 251.00 L125.16 252.38 L125.91 253.76 L126.67 255.13 L127.43 256.51 L128.20 257.88 L128.97 259.25 L129.74 260.62 L130.51 261.99 L131.29 263.35 L132.07 264.72 L132.85 266.08 L133.64 267.44 L134.43 268.80 L135.22 270.15 L136.02 271.51 L136.82 272.86 L137.62 274.21 L138.43 275.56 L139.24 276.91 L140.05 278.26 L140.86 279.60 L141.68 280.94 L142.50 282.28 L143.32 283.62 L144.15 284.96 L144.98 286.29 L145.81 287.63 L146.64 288.96 L147.48 290.29 L148.32 291.62 L149.17 292.94 L150.01 294.27 L150.86 295.59 L151.71 296.91 L152.57 298.23 L153.43 299.54 L154.29 300.86 L155.15 302.17 L156.02 303.48 L156.89 304.79 L157.76 306.10 L158.64 307.40 L159.51 308.71 L160.39 310.01 L161.28 311.31 L162.17 312.60 L163.05 313.90 L163.95 315.19 L164.84 316.48 L165.74 317.77 L166.64 319.06 L167.55 320.35 L168.45 321.63 L169.36 322.91 L170.28 324.19 L171.19 325.47 L172.11 326.74 L173.04 328.01 L173.96 329.28 L174.89 330.55 L175.82 331.81 L176.76 333.08 L177.70 334.34 L178.64 335.60 L179.58 336.85 L180.53 338.11 L181.48 339.36 L182.44 340.60 L183.40 341.85 L184.36 343.09 L185.32 344.33 L186.29 345.57 L187.26 346.81 L188.24 348.04 L189.21 349.27 L190.19 350.50 L191.18 351.73 L192.16 352.95 L193.15 354.17 L194.14 355.39 L195.14 356.61 L196.13 357.82 L197.14 359.03 L198.14 360.24 L199.14 361.45 L200.15 362.66 L201.16 363.86 L202.17 365.06 L203.19 366.26 L204.21 367.46 L205.23 368.65 L206.25 369.85 L207.28 371.04 L208.30 372.23 L209.33 373.41 L210.36 374.60 L211.40 375.78 L212.43 376.96 L213.47 378.14 L214.51 379.32 L215.55 380.50 L216.60 381.67 L217.64 382.85 L218.69 384.02 L219.74 385.19 L220.79 386.36 L221.84 387.52 L222.90 388.69 L223.95 389.85 L225.01 391.01 L226.07 392.18 L227.13 393.34 L228.19 394.49 L229.25 395.65 L230.31 396.81 L231.38 397.97 L232.44 399.12 L233.51 400.28 L234.58 401.43 L235.65 402.58 L236.71 403.73 L237.79 404.88 L238.86 406.03 L239.93 407.18 L241.00 408.33 L242.08 409.47 L243.16 410.62 L244.23 411.76 L245.31 412.90 L246.39 414.04 L247.47 415.18 L248.56 416.32 L249.64 417.45 L250.73 418.59 L251.82 419.72 L252.91 420.85 L254.00 421.98 L255.09 423.11 L256.19 424.24 L257.29 425.36 L258.39 426.48 L259.49 427.61 L260.59 428.72 L261.70 429.84 L262.81 430.95 L263.92 432.07 L265.03 433.18 L266.14 434.28 L267.26 435.39 L268.38 436.49 L269.50 437.59 L270.62 438.69 L271.75 439.79 L272.88 440.88 L274.01 441.97 L275.15 443.06 L276.28 444.14 L277.42 445.23 L278.56 446.30 L279.71 447.38 L280.86 448.45 L282.01 449.52 L283.16 450.59 L284.32 451.65 L285.48 452.71 L286.64 453.77 L287.81 454.83 L288.98 455.88 L290.15 456.92 L291.32 457.97 L292.50 459.01 L293.68 460.04 L294.87 461.08 L296.05 462.11 L297.24 463.14 L298.43 464.16 L299.63 465.18 L300.82 466.20 L302.02 467.22 L303.23 468.23 L304.43 469.24 L305.63 470.25 L306.84 471.25 L308.05 472.25 L309.27 473.25 L310.48 474.25 L311.70 475.25 L312.91 476.24 L314.13 477.23 L315.36 478.22 L316.58 479.20 L317.80 480.19 L319.03 481.17 L320.26 482.15 L321.49 483.13 L322.72 484.10 L323.95 485.08 L325.19 486.05 L326.42 487.02 L327.66 487.99 L328.90 488.96 L330.14 489.93 L331.38 490.90 L332.62 491.86 L333.86 492.82 L335.10 493.78 L336.34 494.75 L337.59 495.71 L338.83 496.66 L340.08 497.62 L341.33 498.58 L342.57 499.54 L343.82 500.49 L345.07 501.45 L346.32 502.40 L347.57 503.35 L348.81 504.31 L350.06 505.26 L351.31 506.21 L352.56 507.17 L353.81 508.12 L355.06 509.07 L356.31 510.02 L357.56 510.98 L358.81 511.93 L360.06 512.88 L361.31 513.83 L362.56 514.79 L363.81 515.74 L365.06 516.69 L366.31 517.65 L367.56 518.60 L368.81 519.56 L370.05 520.51 L371.30 521.47 L372.55 522.42 L373.80 523.37 L375.05 524.33 L376.30 525.28 L377.55 526.23 L378.80 527.18 L380.05 528.13 L381.31 529.08 L382.56 530.02 L383.82 530.97 L385.08 531.91 L386.33 532.85 L387.60 533.79 L388.86 534.72 L390.12 535.65 L391.39 536.58 L392.66 537.50 L393.94 538.42 L395.21 539.34 L396.49 540.25 L397.77 541.16 L399.06 542.06 L400.35 542.96 L401.64 543.85 L402.94 544.74 L404.24 545.62 L405.54 546.49 L406.85 547.36 L408.17 548.22 L409.48 549.08 L410.81 549.93 L412.13 550.77 L413.46 551.60 L414.80 552.43 L416.14 553.24 L417.49 554.05 L418.84 554.85 L420.20 555.64 L421.56 556.43 L422.92 557.20 L424.30 557.96 L425.67 558.72 L427.05 559.46 L428.44 560.19 L429.84 560.92 L431.23 561.63 L432.64 562.33 L434.05 563.02 L435.46 563.70 L436.88 564.36 L438.31 565.02 L439.74 565.66 L441.17 566.29 L442.61 566.91" fill="none" stroke="rgb(124,110,175)" stroke-width="1.95" stroke-dasharray="5.5 2.1"/>
<path d="M66.37 63.83 L66.49 65.49 L66.61 67.14 L66.75 68.80 L66.89 70.45 L67.05 72.11 L67.21 73.76 L67.38 75.42 L67.57 77.07 L67.76 78.72 L67.96 80.37 L68.17 82.02 L68.39 83.67 L68.62 85.32 L68.86 86.96 L69.10 88.61 L69.36 90.25 L69.63 91.89 L69.90 93.53 L70.18 95.17 L70.48 96.81 L70.78 98.45 L71.08 100.08 L71.40 101.71 L71.73 103.35 L72.06 104.98 L72.41 106.60 L72.76 108.23 L73.12 109.86 L73.48 111.48 L73.86 113.10 L74.24 114.72 L74.63 116.34 L75.03 117.95 L75.44 119.57 L75.85 121.18 L76.27 122.79 L76.70 124.40 L77.13 126.01 L77.58 127.61 L78.03 129.22 L78.48 130.82 L78.95 132.42 L79.42 134.01 L79.89 135.61 L80.38 137.20 L80.87 138.79 L81.37 140.38 L81.87 141.97 L82.38 143.55 L82.90 145.14 L83.42 146.72 L83.95 148.30 L84.48 149.87 L85.02 151.45 L85.56 153.02 L86.12 154.59 L86.67 156.16 L87.23 157.73 L87.80 159.30 L88.38 160.86 L88.95 162.42 L89.54 163.98 L90.13 165.54 L90.72 167.09 L91.32 168.65 L91.92 170.20 L92.53 171.75 L93.14 173.30 L93.76 174.85 L94.38 176.39 L95.00 177.93 L95.63 179.47 L96.27 181.01 L96.91 182.55 L97.55 184.09 L98.20 185.62 L98.85 187.16 L99.50 188.69 L100.16 190.22 L100.82 191.75 L101.49 193.27 L102.16 194.80 L102.83 196.32 L103.51 197.84 L104.19 199.36 L104.87 200.88 L105.56 202.39 L106.25 203.91 L106.95 205.42 L107.65 206.93 L108.35 208.44 L109.06 209.95 L109.77 211.45 L110.49 212.96 L111.21 214.46 L111.93 215.96 L112.66 217.46 L113.39 218.96 L114.12 220.45 L114.86 221.94 L115.60 223.43 L116.34 224.92 L117.09 226.41 L117.84 227.90 L118.60 229.38 L119.36 230.86 L120.12 232.34 L120.89 233.82 L121.66 235.30 L122.43 236.77 L123.21 238.25 L123.99 239.72 L124.77 241.19 L125.56 242.65 L126.35 244.12 L127.15 245.58 L127.95 247.04 L128.75 248.50 L129.55 249.96 L130.36 251.41 L131.18 252.87 L131.99 254.32 L132.81 255.77 L133.64 257.21 L134.46 258.66 L135.29 260.10 L136.13 261.54 L136.97 262.98 L137.81 264.42 L138.65 265.86 L139.50 267.29 L140.35 268.72 L141.20 270.15 L142.06 271.58 L142.92 273.00 L143.79 274.43 L144.66 275.85 L145.53 277.26 L146.41 278.68 L147.28 280.10 L148.17 281.51 L149.05 282.92 L149.94 284.33 L150.83 285.73 L151.73 287.14 L152.63 288.54 L153.53 289.94 L154.44 291.33 L155.35 292.73 L156.26 294.12 L157.18 295.51 L158.10 296.90 L159.02 298.29 L159.95 299.67 L160.88 301.05 L161.81 302.43 L162.74 303.81 L163.68 305.18 L164.63 306.56 L165.58 307.93 L166.53 309.29 L167.48 310.66 L168.44 312.02 L169.40 313.38 L170.36 314.74 L171.33 316.10 L172.30 317.45 L173.27 318.80 L174.25 320.15 L175.23 321.49 L176.22 322.84 L177.20 324.18 L178.20 325.51 L179.19 326.85 L180.19 328.18 L181.19 329.51 L182.20 330.84 L183.21 332.16 L184.22 333.49 L185.24 334.80 L186.26 336.12 L187.28 337.43 L188.31 338.75 L189.34 340.05 L190.37 341.36 L191.41 342.66 L192.45 343.96 L193.50 345.26 L194.54 346.55 L195.60 347.84 L196.65 349.13 L197.71 350.42 L198.77 351.70 L199.84 352.98 L200.91 354.25 L201.98 355.53 L203.06 356.80 L204.14 358.07 L205.22 359.33 L206.31 360.59 L207.40 361.85 L208.49 363.11 L209.59 364.36 L210.69 365.61 L211.79 366.86 L212.90 368.10 L214.01 369.35 L215.12 370.58 L216.24 371.82 L217.36 373.05 L218.48 374.28 L219.60 375.51 L220.73 376.73 L221.87 377.95 L223.00 379.17 L224.14 380.38 L225.28 381.60 L226.43 382.81 L227.57 384.02 L228.72 385.22 L229.87 386.42 L231.02 387.63 L232.18 388.83 L233.33 390.02 L234.49 391.22 L235.65 392.41 L236.82 393.60 L237.98 394.80 L239.14 395.99 L240.31 397.17 L241.48 398.36 L242.65 399.55 L243.82 400.73 L244.99 401.91 L246.16 403.09 L247.33 404.28 L248.51 405.46 L249.69 406.63 L250.86 407.81 L252.04 408.99 L253.22 410.16 L254.40 411.34 L255.58 412.51 L256.76 413.68 L257.95 414.85 L259.13 416.02 L260.32 417.19 L261.51 418.36 L262.70 419.52 L263.89 420.69 L265.08 421.85 L266.27 423.01 L267.47 424.17 L268.67 425.33 L269.86 426.48 L271.06 427.64 L272.26 428.79 L273.47 429.94 L274.67 431.09 L275.88 432.24 L277.09 433.39 L278.30 434.53 L279.51 435.67 L280.72 436.81 L281.94 437.95 L283.15 439.09 L284.37 440.22 L285.59 441.36 L286.81 442.49 L288.04 443.62 L289.27 444.74 L290.49 445.87 L291.72 446.99 L292.96 448.11 L294.19 449.23 L295.43 450.34 L296.66 451.46 L297.90 452.57 L299.15 453.68 L300.39 454.78 L301.64 455.89 L302.89 456.99 L304.14 458.09 L305.39 459.19 L306.64 460.28 L307.90 461.37 L309.16 462.47 L310.42 463.55 L311.68 464.64 L312.95 465.72 L314.21 466.81 L315.48 467.89 L316.75 468.96 L318.02 470.04 L319.29 471.11 L320.57 472.18 L321.85 473.25 L323.13 474.32 L324.41 475.38 L325.69 476.45 L326.97 477.51 L328.26 478.56 L329.54 479.62 L330.83 480.68 L332.12 481.73 L333.41 482.78 L334.71 483.83 L336.00 484.87 L337.30 485.92 L338.60 486.96 L339.90 488.00 L341.20 489.04 L342.50 490.08 L343.81 491.12 L345.11 492.15 L346.42 493.18 L347.73 494.21 L349.04 495.24 L350.35 496.27 L351.66 497.29 L352.97 498.32 L354.29 499.34 L355.60 500.36 L356.92 501.38 L358.24 502.39 L359.56 503.41 L360.88 504.42 L362.21 505.43 L363.53 506.44 L364.85 507.45 L366.18 508.46 L367.51 509.46 L368.84 510.47 L370.17 511.47 L371.50 512.47 L372.83 513.47 L374.16 514.47 L375.50 515.47 L376.83 516.46 L378.17 517.45 L379.51 518.45 L380.84 519.44 L382.18 520.43 L383.52 521.41 L384.87 522.40 L386.21 523.39 L387.55 524.37 L388.90 525.35 L390.24 526.33 L391.59 527.31 L392.94 528.28 L394.29 529.26 L395.64 530.23 L397.00 531.20 L398.35 532.16 L399.71 533.13 L401.07 534.09 L402.43 535.04 L403.80 536.00 L405.17 536.95 L406.54 537.89 L407.91 538.83 L409.29 539.76 L410.67 540.69 L412.06 541.62 L413.45 542.53 L414.84 543.45 L416.24 544.35 L417.64 545.25 L419.05 546.14 L420.46 547.02 L421.88 547.89 L423.30 548.75 L424.73 549.61 L426.16 550.46 L427.60 551.29 L429.04 552.12 L430.50 552.93 L431.95 553.74 L433.41 554.53 L434.88 555.31 L436.36 556.08 L437.84 556.84 L439.33 557.58 L440.82 558.32 L442.32 559.03 L443.83 559.74 L445.34 560.43 L446.86 561.10 L448.39 561.76 L449.92 562.41 L451.46 563.04 L453.00 563.65 L454.56 564.25 L456.11 564.83 L457.68 565.39 L459.25 565.94 L460.82 566.47 L462.40 566.98" fill="none" stroke="rgb(124,110,175)" stroke-width="1.95" stroke-dasharray="5.5 2.1"/>
<path d="M66.22 97.90 L66.52 99.41 L66.82 100.92 L67.13 102.43 L67.44 103.94 L67.75 105.45 L68.07 106.95 L68.40 108.45 L68.73 109.96 L69.07 111.46 L69.41 112.96 L69.75 114.46 L70.10 115.96 L70.46 117.46 L70.82 118.95 L71.18 120.45 L71.55 121.94 L71.93 123.44 L72.31 124.93 L72.69 126.42 L73.08 127.91 L73.47 129.40 L73.87 130.88 L74.27 132.37 L74.68 133.85 L75.09 135.34 L75.50 136.82 L75.92 138.30 L76.35 139.78 L76.78 141.26 L77.21 142.73 L77.65 144.21 L78.10 145.68 L78.54 147.15 L78.99 148.62 L79.45 150.09 L79.91 151.56 L80.38 153.03 L80.85 154.50 L81.32 155.96 L81.80 157.42 L82.28 158.88 L82.77 160.34 L83.26 161.80 L83.76 163.26 L84.26 164.72 L84.76 166.17 L85.27 167.62 L85.78 169.07 L86.30 170.52 L86.82 171.97 L87.35 173.42 L87.88 174.86 L88.41 176.31 L88.95 177.75 L89.49 179.19 L90.04 180.63 L90.59 182.07 L91.14 183.50 L91.70 184.94 L92.26 186.37 L92.83 187.80 L93.40 189.23 L93.97 190.66 L94.55 192.08 L95.13 193.51 L95.72 194.93 L96.31 196.35 L96.90 197.77 L97.50 199.19 L98.10 200.61 L98.70 202.02 L99.31 203.44 L99.92 204.85 L100.54 206.26 L101.16 207.67 L101.78 209.08 L102.41 210.48 L103.04 211.89 L103.68 213.29 L104.32 214.69 L104.96 216.09 L105.60 217.48 L106.25 218.88 L106.91 220.27 L107.56 221.66 L108.22 223.06 L108.89 224.44 L109.55 225.83 L110.23 227.22 L110.90 228.60 L111.58 229.98 L112.26 231.36 L112.94 232.74 L113.63 234.12 L114.32 235.49 L115.02 236.87 L115.72 238.24 L116.42 239.61 L117.12 240.98 L117.83 242.34 L118.54 243.71 L119.26 245.07 L119.97 246.43 L120.69 247.79 L121.42 249.15 L122.15 250.51 L122.88 251.86 L123.61 253.21 L124.35 254.56 L125.09 255.91 L125.83 257.26 L126.58 258.61 L127.33 259.95 L128.08 261.29 L128.84 262.63 L129.60 263.97 L130.36 265.31 L131.12 266.65 L131.89 267.98 L132.66 269.31 L133.43 270.64 L134.21 271.97 L134.99 273.30 L135.77 274.62 L136.56 275.95 L137.35 277.27 L138.14 278.59 L138.93 279.91 L139.73 281.22 L140.53 282.54 L141.33 283.85 L142.14 285.16 L142.95 286.47 L143.76 287.78 L144.57 289.09 L145.39 290.39 L146.21 291.70 L147.03 293.00 L147.85 294.30 L148.68 295.59 L149.51 296.89 L150.34 298.19 L151.18 299.48 L152.02 300.77 L152.86 302.06 L153.70 303.34 L154.55 304.63 L155.40 305.91 L156.25 307.20 L157.10 308.48 L157.96 309.75 L158.82 311.03 L159.68 312.31 L160.55 313.58 L161.42 314.85 L162.29 316.12 L163.16 317.39 L164.04 318.65 L164.92 319.91 L165.80 321.18 L166.68 322.44 L167.57 323.69 L168.46 324.95 L169.35 326.20 L170.25 327.45 L171.15 328.70 L172.05 329.95 L172.96 331.20 L173.86 332.44 L174.77 333.68 L175.69 334.92 L176.61 336.15 L177.53 337.39 L178.45 338.62 L179.38 339.85 L180.30 341.07 L181.24 342.30 L182.17 343.52 L183.11 344.74 L184.06 345.96 L185.00 347.17 L185.95 348.38 L186.90 349.59 L187.86 350.80 L188.81 352.00 L189.77 353.21 L190.74 354.41 L191.70 355.61 L192.67 356.80 L193.64 358.00 L194.61 359.19 L195.59 360.38 L196.57 361.57 L197.55 362.75 L198.53 363.94 L199.52 365.12 L200.51 366.30 L201.50 367.48 L202.49 368.65 L203.48 369.83 L204.48 371.00 L205.48 372.17 L206.48 373.34 L207.48 374.51 L208.48 375.68 L209.49 376.84 L210.50 378.01 L211.51 379.17 L212.52 380.33 L213.53 381.49 L214.54 382.65 L215.56 383.80 L216.58 384.96 L217.59 386.11 L218.61 387.27 L219.63 388.42 L220.66 389.57 L221.68 390.72 L222.70 391.87 L223.73 393.02 L224.76 394.16 L225.78 395.31 L226.81 396.45 L227.84 397.60 L228.87 398.74 L229.90 399.88 L230.93 401.03 L231.97 402.17 L233.00 403.31 L234.03 404.45 L235.07 405.59 L236.11 406.73 L237.14 407.86 L238.18 409.00 L239.22 410.13 L240.26 411.27 L241.31 412.40 L242.35 413.53 L243.40 414.66 L244.44 415.79 L245.49 416.91 L246.54 418.04 L247.59 419.16 L248.65 420.28 L249.70 421.40 L250.76 422.52 L251.82 423.64 L252.88 424.75 L253.94 425.87 L255.01 426.98 L256.08 428.09 L257.15 429.19 L258.22 430.30 L259.29 431.40 L260.37 432.50 L261.45 433.60 L262.53 434.69 L263.61 435.79 L264.70 436.88 L265.79 437.96 L266.88 439.05 L267.97 440.13 L269.07 441.21 L270.17 442.29 L271.27 443.36 L272.38 444.43 L273.49 445.50 L274.60 446.56 L275.71 447.62 L276.83 448.68 L277.95 449.74 L279.08 450.79 L280.21 451.83 L281.34 452.88 L282.47 453.92 L283.61 454.96 L284.75 455.99 L285.89 457.02 L287.04 458.04 L288.19 459.07 L289.35 460.08 L290.50 461.10 L291.66 462.11 L292.83 463.12 L293.99 464.12 L295.16 465.12 L296.34 466.12 L297.51 467.11 L298.69 468.11 L299.87 469.09 L301.05 470.08 L302.23 471.06 L303.42 472.04 L304.61 473.02 L305.80 473.99 L306.99 474.97 L308.19 475.94 L309.39 476.90 L310.59 477.87 L311.79 478.83 L312.99 479.79 L314.19 480.75 L315.40 481.70 L316.61 482.66 L317.82 483.61 L319.03 484.56 L320.24 485.51 L321.45 486.46 L322.66 487.41 L323.88 488.35 L325.10 489.29 L326.31 490.24 L327.53 491.18 L328.75 492.12 L329.97 493.05 L331.19 493.99 L332.41 494.93 L333.63 495.87 L334.86 496.80 L336.08 497.74 L337.30 498.67 L338.53 499.60 L339.75 500.54 L340.97 501.47 L342.20 502.40 L343.42 503.34 L344.65 504.27 L345.87 505.20 L347.09 506.13 L348.32 507.07 L349.54 508.00 L350.76 508.94 L351.99 509.87 L353.21 510.80 L354.43 511.74 L355.65 512.68 L356.88 513.61 L358.10 514.55 L359.32 515.49 L360.53 516.43 L361.75 517.37 L362.97 518.31 L364.19 519.26 L365.40 520.20 L366.62 521.14 L367.83 522.09 L369.05 523.03 L370.27 523.97 L371.48 524.92 L372.70 525.86 L373.92 526.80 L375.13 527.74 L376.35 528.68 L377.57 529.62 L378.80 530.55 L380.02 531.49 L381.24 532.42 L382.47 533.35 L383.70 534.28 L384.93 535.20 L386.16 536.13 L387.40 537.04 L388.63 537.96 L389.87 538.87 L391.12 539.78 L392.36 540.68 L393.61 541.58 L394.86 542.48 L396.12 543.37 L397.37 544.26 L398.64 545.14 L399.90 546.01 L401.17 546.88 L402.45 547.75 L403.72 548.61 L405.01 549.46 L406.29 550.30 L407.58 551.14 L408.88 551.97 L410.18 552.80 L411.48 553.62 L412.79 554.43 L414.10 555.23 L415.42 556.03 L416.74 556.81 L418.07 557.59 L419.40 558.36 L420.74 559.13 L422.08 559.88 L423.43 560.62 L424.78 561.36 L426.14 562.08 L427.50 562.80 L428.87 563.51 L430.24 564.20 L431.62 564.89 L433.00 565.57 L434.39 566.23 L435.78 566.89 L453.77 566.95 L452.25 566.39 L450.73 565.82 L449.22 565.23 L447.72 564.63 L446.22 564.01 L444.73 563.38 L443.25 562.73 L441.77 562.07 L440.29 561.39 L438.82 560.71 L437.36 560.01 L435.91 559.29 L434.46 558.57 L433.01 557.83 L431.57 557.08 L430.14 556.32 L428.71 555.55 L427.29 554.76 L425.88 553.97 L424.47 553.17 L423.06 552.35 L421.66 551.53 L420.27 550.70 L418.88 549.86 L417.50 549.01 L416.12 548.15 L414.75 547.28 L413.38 546.41 L412.02 545.53 L410.66 544.64 L409.30 543.74 L407.95 542.84 L406.61 541.93 L405.27 541.02 L403.93 540.10 L402.59 539.18 L401.26 538.25 L399.93 537.32 L398.60 536.38 L397.28 535.44 L395.96 534.49 L394.64 533.55 L393.33 532.59 L392.01 531.64 L390.70 530.68 L389.39 529.73 L388.08 528.76 L386.77 527.80 L385.46 526.84 L384.16 525.87 L382.85 524.90 L381.55 523.93 L380.25 522.96 L378.95 521.99 L377.65 521.02 L376.35 520.05 L375.05 519.07 L373.75 518.10 L372.45 517.12 L371.15 516.15 L369.85 515.17 L368.56 514.19 L367.26 513.21 L365.96 512.23 L364.67 511.25 L363.37 510.27 L362.08 509.29 L360.78 508.31 L359.49 507.33 L358.20 506.34 L356.91 505.36 L355.62 504.37 L354.33 503.38 L353.04 502.40 L351.75 501.41 L350.46 500.42 L349.18 499.42 L347.89 498.43 L346.61 497.44 L345.32 496.44 L344.04 495.44 L342.76 494.45 L341.48 493.45 L340.20 492.44 L338.92 491.44 L337.65 490.44 L336.37 489.43 L335.10 488.42 L333.82 487.41 L332.55 486.40 L331.28 485.39 L330.02 484.37 L328.75 483.36 L327.48 482.34 L326.22 481.32 L324.96 480.30 L323.70 479.27 L322.44 478.25 L321.18 477.22 L319.92 476.19 L318.67 475.16 L317.42 474.12 L316.17 473.08 L314.92 472.05 L313.67 471.00 L312.43 469.96 L311.18 468.92 L309.94 467.87 L308.70 466.82 L307.47 465.76 L306.23 464.71 L305.00 463.65 L303.77 462.59 L302.54 461.53 L301.32 460.46 L300.09 459.39 L298.87 458.32 L297.65 457.25 L296.43 456.17 L295.22 455.09 L294.01 454.01 L292.80 452.93 L291.59 451.84 L290.39 450.75 L289.19 449.66 L287.99 448.56 L286.79 447.46 L285.60 446.36 L284.40 445.26 L283.21 444.15 L282.03 443.04 L280.84 441.93 L279.66 440.82 L278.48 439.71 L277.30 438.59 L276.12 437.47 L274.95 436.35 L273.78 435.22 L272.61 434.10 L271.44 432.97 L270.27 431.84 L269.11 430.70 L267.94 429.57 L266.78 428.43 L265.63 427.30 L264.47 426.16 L263.31 425.02 L262.16 423.87 L261.01 422.73 L259.86 421.58 L258.71 420.43 L257.56 419.28 L256.42 418.13 L255.27 416.98 L254.13 415.82 L252.99 414.67 L251.85 413.51 L250.71 412.35 L249.58 411.19 L248.44 410.03 L247.31 408.87 L246.17 407.71 L245.04 406.54 L243.91 405.38 L242.78 404.21 L241.65 403.04 L240.53 401.87 L239.40 400.70 L238.27 399.53 L237.15 398.36 L236.03 397.19 L234.91 396.01 L233.79 394.84 L232.67 393.66 L231.55 392.48 L230.44 391.30 L229.32 390.12 L228.21 388.93 L227.10 387.75 L225.99 386.56 L224.89 385.37 L223.78 384.18 L222.68 382.99 L221.58 381.80 L220.48 380.60 L219.39 379.40 L218.29 378.20 L217.20 376.99 L216.11 375.79 L215.03 374.58 L213.95 373.37 L212.87 372.15 L211.79 370.94 L210.72 369.72 L209.65 368.50 L208.58 367.28 L207.51 366.05 L206.45 364.82 L205.39 363.59 L204.33 362.36 L203.28 361.12 L202.23 359.88 L201.18 358.64 L200.14 357.39 L199.10 356.15 L198.06 354.90 L197.02 353.65 L195.99 352.39 L194.96 351.14 L193.94 349.88 L192.91 348.61 L191.89 347.35 L190.88 346.08 L189.87 344.81 L188.86 343.54 L187.85 342.26 L186.85 340.99 L185.85 339.70 L184.85 338.42 L183.86 337.14 L182.87 335.85 L181.89 334.56 L180.90 333.26 L179.93 331.97 L178.95 330.67 L177.98 329.36 L177.01 328.06 L176.04 326.75 L175.08 325.44 L174.12 324.13 L173.17 322.82 L172.22 321.50 L171.27 320.18 L170.32 318.86 L169.38 317.54 L168.44 316.21 L167.51 314.89 L166.58 313.56 L165.65 312.22 L164.72 310.89 L163.80 309.55 L162.88 308.21 L161.96 306.87 L161.05 305.53 L160.14 304.18 L159.23 302.83 L158.33 301.48 L157.43 300.13 L156.53 298.78 L155.64 297.42 L154.75 296.06 L153.86 294.70 L152.98 293.34 L152.10 291.98 L151.22 290.61 L150.34 289.24 L149.47 287.87 L148.60 286.50 L147.74 285.12 L146.88 283.75 L146.02 282.37 L145.16 280.99 L144.31 279.60 L143.46 278.22 L142.61 276.83 L141.77 275.44 L140.93 274.05 L140.09 272.66 L139.26 271.27 L138.43 269.87 L137.60 268.47 L136.78 267.07 L135.96 265.67 L135.14 264.27 L134.33 262.86 L133.52 261.45 L132.71 260.04 L131.91 258.63 L131.11 257.22 L130.31 255.80 L129.52 254.39 L128.73 252.97 L127.94 251.55 L127.16 250.12 L126.38 248.70 L125.60 247.27 L124.83 245.84 L124.06 244.41 L123.29 242.98 L122.53 241.55 L121.77 240.11 L121.01 238.67 L120.26 237.23 L119.51 235.79 L118.77 234.35 L118.03 232.90 L117.29 231.46 L116.55 230.01 L115.82 228.56 L115.09 227.11 L114.37 225.65 L113.65 224.20 L112.93 222.74 L112.22 221.28 L111.51 219.82 L110.80 218.36 L110.10 216.89 L109.40 215.43 L108.70 213.96 L108.01 212.49 L107.32 211.02 L106.64 209.55 L105.96 208.07 L105.28 206.59 L104.61 205.12 L103.94 203.64 L103.27 202.15 L102.61 200.67 L101.95 199.19 L101.30 197.70 L100.65 196.21 L100.00 194.72 L99.36 193.23 L98.72 191.74 L98.09 190.24 L97.45 188.74 L96.83 187.25 L96.20 185.75 L95.58 184.25 L94.97 182.74 L94.36 181.24 L93.75 179.73 L93.15 178.22 L92.55 176.71 L91.96 175.20 L91.37 173.68 L90.79 172.17 L90.21 170.65 L89.64 169.13 L89.07 167.61 L88.50 166.09 L87.94 164.56 L87.39 163.04 L86.84 161.51 L86.29 159.98 L85.75 158.45 L85.22 156.91 L84.69 155.38 L84.17 153.84 L83.65 152.30 L83.14 150.76 L82.63 149.22 L82.13 147.67 L81.64 146.12 L81.15 144.58 L80.66 143.03 L80.19 141.47 L79.72 139.92 L79.25 138.36 L78.79 136.81 L78.34 135.25 L77.89 133.69 L77.45 132.12 L77.02 130.56 L76.59 128.99 L76.17 127.42 L75.75 125.86 L75.35 124.28 L74.95 122.71 L74.55 121.14 L74.16 119.56 L73.78 117.98 L73.41 116.40 L73.04 114.82 L72.68 113.24 L72.33 111.66 L71.99 110.07 L71.65 108.48 L71.32 106.90 L71.00 105.31 L70.68 103.71 L70.37 102.12 L70.07 100.53 L69.78 98.93 L69.49 97.34 L69.22 95.74 L68.95 94.14 L68.68 92.54 L68.43 90.94 L68.18 89.34 L67.94 87.74 L67.71 86.13 L67.49 84.53 L67.28 82.92 L67.07 81.31 L66.87 79.71 L66.68 78.10 L66.50 76.49 L66.32 74.88 Z" fill="rgb(135,120,179)" fill-opacity="0.45" stroke="none"/>
<path d="M66.22 97.90 L66.52 99.41 L66.82 100.92 L67.13 102.43 L67.44 103.94 L67.75 105.45 L68.07 106.95 L68.40 108.45 L68.73 109.96 L69.07 111.46 L69.41 112.96 L69.75 114.46 L70.10 115.96 L70.46 117.46 L70.82 118.95 L71.18 120.45 L71.55 121.94 L71.93 123.44 L72.31 124.93 L72.69 126.42 L73.08 127.91 L73.47 129.40 L73.87 130.88 L74.27 132.37 L74.68 133.85 L75.09 135.34 L75.50 136.82 L75.92 138.30 L76.35 139.78 L76.78 141.26 L77.21 142.73 L77.65 144.21 L78.10 145.68 L78.54 147.15 L78.99 148.62 L79.45 150.09 L79.91 151.56 L80.38 153.03 L80.85 154.50 L81.32 155.96 L81.80 157.42 L82.28 158.88 L82.77 160.34 L83.26 161.80 L83.76 163.26 L84.26 164.72 L84.76 166.17 L85.27 167.62 L85.78 169.07 L86.30 170.52 L86.82 171.97 L87.35 173.42 L87.88 174.86 L88.41 176.31 L88.95 177.75 L89.49 179.19 L90.04 180.63 L90.59 182.07 L91.14 183.50 L91.70 184.94 L92.26 186.37 L92.83 187.80 L93.40 189.23 L93.97 190.66 L94.55 192.08 L95.13 193.51 L95.72 194.93 L96.31 196.35 L96.90 197.77 L97.50 199.19 L98.10 200.61 L98.70 202.02 L99.31 203.44 L99.92 204.85 L100.54 206.26 L101.16 207.67 L101.78 209.08 L102.41 210.48 L103.04 211.89 L103.68 213.29 L104.32 214.69 L104.96 216.09 L105.60 217.48 L106.25 218.88 L106.91 220.27 L107.56 221.66 L108.22 223.06 L108.89 224.44 L109.55 225.83 L110.23 227.22 L110.90 228.60 L111.58 229.98 L112.26 231.36 L112.94 232.74 L113.63 234.12 L114.32 235.49 L115.02 236.87 L115.72 238.24 L116.42 239.61 L117.12 240.98 L117.83 242.34 L118.54 243.71 L119.26 245.07 L119.97 246.43 L120.69 247.79 L121.42 249.15 L122.15 250.51 L122.88 251.86 L123.61 253.21 L124.35 254.56 L125.09 255.91 L125.83 257.26 L126.58 258.61 L127.33 259.95 L128.08 261.29 L128.84 262.63 L129.60 263.97 L130.36 265.31 L131.12 266.65 L131.89 267.98 L132.66 269.31 L133.43 270.64 L134.21 271.97 L134.99 273.30 L135.77 274.62 L136.56 275.95 L137.35 277.27 L138.14 278.59 L138.93 279.91 L139.73 281.22 L140.53 282.54 L141.33 283.85 L142.14 285.16 L142.95 286.47 L143.76 287.78 L144.57 289.09 L145.39 290.39 L146.21 291.70 L147.03 293.00 L147.85 294.30 L148.68 295.59 L149.51 296.89 L150.34 298.19 L151.18 299.48 L152.02 300.77 L152.86 302.06 L153.70 303.34 L154.55 304.63 L155.40 305.91 L156.25 307.20 L157.10 308.48 L157.96 309.75 L158.82 311.03 L159.68 312.31 L160.55 313.58 L161.42 314.85 L162.29 316.12 L163.16 317.39 L164.04 318.65 L164.92 319.91 L165.80 321.18 L166.68 322.44 L167.57 323.69 L168.46 324.95 L169.35 326.20 L170.25 327.45 L171.15 328.70 L172.05 329.95 L172.96 331.20 L173.86 332.44 L174.77 333.68 L175.69 334.92 L176.61 336.15 L177.53 337.39 L178.45 338.62 L179.38 339.85 L180.30 341.07 L181.24 342.30 L182.17 343.52 L183.11 344.74 L184.06 345.96 L185.00 347.17 L185.95 348.38 L186.90 349.59 L187.86 350.80 L188.81 352.00 L189.77 353.21 L190.74 354.41 L191.70 355.61 L192.67 356.80 L193.64 358.00 L194.61 359.19 L195.59 360.38 L196.57 361.57 L197.55 362.75 L198.53 363.94 L199.52 365.12 L200.51 366.30 L201.50 367.48 L202.49 368.65 L203.48 369.83 L204.48 371.00 L205.48 372.17 L206.48 373.34 L207.48 374.51 L208.48 375.68 L209.49 376.84 L210.50 378.01 L211.51 379.17 L212.52 380.33 L213.53 381.49 L214.54 382.65 L215.56 383.80 L216.58 384.96 L217.59 386.11 L218.61 387.27 L219.63 388.42 L220.66 389.57 L221.68 390.72 L222.70 391.87 L223.73 393.02 L224.76 394.16 L225.78 395.31 L226.81 396.45 L227.84 397.60 L228.87 398.74 L229.90 399.88 L230.93 401.03 L231.97 402.17 L233.00 403.31 L234.03 404.45 L235.07 405.59 L236.11 406.73 L237.14 407.86 L238.18 409.00 L239.22 410.13 L240.26 411.27 L241.31 412.40 L242.35 413.53 L243.40 414.66 L244.44 415.79 L245.49 416.91 L246.54 418.04 L247.59 419.16 L248.65 420.28 L249.70 421.40 L250.76 422.52 L251.82 423.64 L252.88 424.75 L253.94 425.87 L255.01 426.98 L256.08 428.09 L257.15 429.19 L258.22 430.30 L259.29 431.40 L260.37 432.50 L261.45 433.60 L262.53 434.69 L263.61 435.79 L264.70 436.88 L265.79 437.96 L266.88 439.05 L267.97 440.13 L269.07 441.21 L270.17 442.29 L271.27 443.36 L272.38 444.43 L273.49 445.50 L274.60 446.56 L275.71 447.62 L276.83 448.68 L277.95 449.74 L279.08 450.79 L280.21 451.83 L281.34 452.88 L282.47 453.92 L283.61 454.96 L284.75 455.99 L285.89 457.02 L287.04 458.04 L288.19 459.07 L289.35 460.08 L290.50 461.10 L291.66 462.11 L292.83 463.12 L293.99 464.12 L295.16 465.12 L296.34 466.12 L297.51 467.11 L298.69 468.11 L299.87 469.09 L301.05 470.08 L302.23 471.06 L303.42 472.04 L304.61 473.02 L305.80 473.99 L306.99 474.97 L308.19 475.94 L309.39 476.90 L310.59 477.87 L311.79 478.83 L312.99 479.79 L314.19 480.75 L315.40 481.70 L316.61 482.66 L317.82 483.61 L319.03 484.56 L320.24 485.51 L321.45 486.46 L322.66 487.41 L323.88 488.35 L325.10 489.29 L326.31 490.24 L327.53 491.18 L328.75 492.12 L329.97 493.05 L331.19 493.99 L332.41 494.93 L333.63 495.87 L334.86 496.80 L336.08 497.74 L337.30 498.67 L338.53 499.60 L339.75 500.54 L340.97 501.47 L342.20 502.40 L343.42 503.34 L344.65 504.27 L345.87 505.20 L347.09 506.13 L348.32 507.07 L349.54 508.00 L350.76 508.94 L351.99 509.87 L353.21 510.80 L354.43 511.74 L355.65 512.68 L356.88 513.61 L358.10 514.55 L359.32 515.49 L360.53 516.43 L361.75 517.37 L362.97 518.31 L364.19 519.26 L365.40 520.20 L366.62 521.14 L367.83 522.09 L369.05 523.03 L370.27 523.97 L371.48 524.92 L372.70 525.86 L373.92 526.80 L375.13 527.74 L376.35 528.68 L377.57 529.62 L378.80 530.55 L380.02 531.49 L381.24 532.42 L382.47 533.35 L383.70 534.28 L384.93 535.20 L386.16 536.13 L387.40 537.04 L388.63 537.96 L389.87 538.87 L391.12 539.78 L392.36 540.68 L393.61 541.58 L394.86 542.48 L396.12 543.37 L397.37 544.26 L398.64 545.14 L399.90 546.01 L401.17 546.88 L402.45 547.75 L403.72 548.61 L405.01 549.46 L406.29 550.30 L407.58 551.14 L408.88 551.97 L410.18 552.80 L411.48 553.62 L412.79 554.43 L414.10 555.23 L415.42 556.03 L416.74 556.81 L418.07 557.59 L419.40 558.36 L420.74 559.13 L422.08 559.88 L423.43 560.62 L424.78 561.36 L426.14 562.08 L427.50 562.80 L428.87 563.51 L430.24 564.20 L431.62 564.89 L433.00 565.57 L434.39 566.23 L435.78 566.89" fill="none" stroke="rgb(124,110,175)" stroke-width="1.95"/>
<path d="M66.32 74.88 L66.50 76.49 L66.68 78.10 L66.87 79.71 L67.07 81.31 L67.28 82.92 L67.49 84.53 L67.71 86.13 L67.94 87.74 L68.18 89.34 L68.43 90.94 L68.68 92.54 L68.95 94.14 L69.22 95.74 L69.49 97.34 L69.78 98.93 L70.07 100.53 L70.37 102.12 L70.68 103.71 L71.00 105.31 L71.32 106.90 L71.65 108.48 L71.99 110.07 L72.33 111.66 L72.68 113.24 L73.04 114.82 L73.41 116.40 L73.78 117.98 L74.16 119.56 L74.55 121.14 L74.95 122.71 L75.35 124.28 L75.75 125.86 L76.17 127.42 L76.59 128.99 L77.02 130.56 L77.45 132.12 L77.89 133.69 L78.34 135.25 L78.79 136.81 L79.25 138.36 L79.72 139.92 L80.19 141.47 L80.66 143.03 L81.15 144.58 L81.64 146.12 L82.13 147.67 L82.63 149.22 L83.14 150.76 L83.65 152.30 L84.17 153.84 L84.69 155.38 L85.22 156.91 L85.75 158.45 L86.29 159.98 L86.84 161.51 L87.39 163.04 L87.94 164.56 L88.50 166.09 L89.07 167.61 L89.64 169.13 L90.21 170.65 L90.79 172.17 L91.37 173.68 L91.96 175.20 L92.55 176.71 L93.15 178.22 L93.75 179.73 L94.36 181.24 L94.97 182.74 L95.58 184.25 L96.20 185.75 L96.83 187.25 L97.45 188.74 L98.09 190.24 L98.72 191.74 L99.36 193.23 L100.00 194.72 L100.65 196.21 L101.30 197.70 L101.95 199.19 L102.61 200.67 L103.27 202.15 L103.94 203.64 L104.61 205.12 L105.28 206.59 L105.96 208.07 L106.64 209.55 L107.32 211.02 L108.01 212.49 L108.70 213.96 L109.40 215.43 L110.10 216.89 L110.80 218.36 L111.51 219.82 L112.22 221.28 L112.93 222.74 L113.65 224.20 L114.37 225.65 L115.09 227.11 L115.82 228.56 L116.55 230.01 L117.29 231.46 L118.03 232.90 L118.77 234.35 L119.51 235.79 L120.26 237.23 L121.01 238.67 L121.77 240.11 L122.53 241.55 L123.29 242.98 L124.06 244.41 L124.83 245.84 L125.60 247.27 L126.38 248.70 L127.16 250.12 L127.94 251.55 L128.73 252.97 L129.52 254.39 L130.31 255.80 L131.11 257.22 L131.91 258.63 L132.71 260.04 L133.52 261.45 L134.33 262.86 L135.14 264.27 L135.96 265.67 L136.78 267.07 L137.60 268.47 L138.43 269.87 L139.26 271.27 L140.09 272.66 L140.93 274.05 L141.77 275.44 L142.61 276.83 L143.46 278.22 L144.31 279.60 L145.16 280.99 L146.02 282.37 L146.88 283.75 L147.74 285.12 L148.60 286.50 L149.47 287.87 L150.34 289.24 L151.22 290.61 L152.10 291.98 L152.98 293.34 L153.86 294.70 L154.75 296.06 L155.64 297.42 L156.53 298.78 L157.43 300.13 L158.33 301.48 L159.23 302.83 L160.14 304.18 L161.05 305.53 L161.96 306.87 L162.88 308.21 L163.80 309.55 L164.72 310.89 L165.65 312.22 L166.58 313.56 L167.51 314.89 L168.44 316.21 L169.38 317.54 L170.32 318.86 L171.27 320.18 L172.22 321.50 L173.17 322.82 L174.12 324.13 L175.08 325.44 L176.04 326.75 L177.01 328.06 L177.98 329.36 L178.95 330.67 L179.93 331.97 L180.90 333.26 L181.89 334.56 L182.87 335.85 L183.86 337.14 L184.85 338.42 L185.85 339.70 L186.85 340.99 L187.85 342.26 L188.86 343.54 L189.87 344.81 L190.88 346.08 L191.89 347.35 L192.91 348.61 L193.94 349.88 L194.96 351.14 L195.99 352.39 L197.02 353.65 L198.06 354.90 L199.10 356.15 L200.14 357.39 L201.18 358.64 L202.23 359.88 L203.28 361.12 L204.33 362.36 L205.39 363.59 L206.45 364.82 L207.51 366.05 L208.58 367.28 L209.65 368.50 L210.72 369.72 L211.79 370.94 L212.87 372.15 L213.95 373.37 L215.03 374.58 L216.11 375.79 L217.20 376.99 L218.29 378.20 L219.39 379.40 L220.48 380.60 L221.58 381.80 L222.68 382.99 L223.78 384.18 L224.89 385.37 L225.99 386.56 L227.10 387.75 L228.21 388.93 L229.32 390.12 L230.44 391.30 L231.55 392.48 L232.67 393.66 L233.79 394.84 L234.91 396.01 L236.03 397.19 L237.15 398.36 L238.27 399.53 L239.40 400.70 L240.53 401.87 L241.65 403.04 L242.78 404.21 L243.91 405.38 L245.04 406.54 L246.17 407.71 L247.31 408.87 L248.44 410.03 L249.58 411.19 L250.71 412.35 L251.85 413.51 L252.99 414.67 L254.13 415.82 L255.27 416.98 L256.42 418.13 L257.56 419.28 L258.71 420.43 L259.86 421.58 L261.01 422.73 L262.16 423.87 L263.31 425.02 L264.47 426.16 L265.63 427.30 L266.78 428.43 L267.94 429.57 L269.11 430.70 L270.27 431.84 L271.44 432.97 L272.61 434.10 L273.78 435.22 L274.95 436.35 L276.12 437.47 L277.30 438.59 L278.48 439.71 L279.66 440.82 L280.84 441.93 L282.03 443.04 L283.21 444.15 L284.40 445.26 L285.60 446.36 L286.79 447.46 L287.99 448.56 L289.19 449.66 L290.39 450.75 L291.59 451.84 L292.80 452.93 L294.01 454.01 L295.22 455.09 L296.43 456.17 L297.65 457.25 L298.87 458.32 L300.09 459.39 L301.32 460.46 L302.54 461.53 L303.77 462.59 L305.00 463.65 L306.23 464.71 L307.47 465.76 L308.70 466.82 L309.94 467.87 L311.18 468.92 L312.43 469.96 L313.67 471.00 L314.92 472.05 L316.17 473.08 L317.42 474.12 L318.67 475.16 L319.92 476.19 L321.18 477.22 L322.44 478.25 L323.70 479.27 L324.96 480.30 L326.22 481.32 L327.48 482.34 L328.75 483.36 L330.02 484.37 L331.28 485.39 L332.55 486.40 L333.82 487.41 L335.10 488.42 L336.37 489.43 L337.65 490.44 L338.92 491.44 L340.20 492.44 L341.48 493.45 L342.76 494.45 L344.04 495.44 L345.32 496.44 L346.61 497.44 L347.89 498.43 L349.18 499.42 L350.46 500.42 L351.75 501.41 L353.04 502.40 L354.33 503.38 L355.62 504.37 L356.91 505.36 L358.20 506.34 L359.49 507.33 L360.78 508.31 L362.08 509.29 L363.37 510.27 L364.67 511.25 L365.96 512.23 L367.26 513.21 L368.56 514.19 L369.85 515.17 L371.15 516.15 L372.45 517.12 L373.75 518.10 L375.05 519.07 L376.35 520.05 L377.65 521.02 L378.95 521.99 L380.25 522.96 L381.55 523.93 L382.85 524.90 L384.16 525.87 L385.46 526.84 L386.77 527.80 L388.08 528.76 L389.39 529.73 L390.70 530.68 L392.01 531.64 L393.33 532.59 L394.64 533.55 L395.96 534.49 L397.28 535.44 L398.60 536.38 L399.93 537.32 L401.26 538.25 L402.59 539.18 L403.93 540.10 L405.27 541.02 L406.61 541.93 L407.95 542.84 L409.30 543.74 L410.66 544.64 L412.02 545.53 L413.38 546.41 L414.75 547.28 L416.12 548.15 L417.50 549.01 L418.88 549.86 L420.27 550.70 L421.66 551.53 L423.06 552.35 L424.47 553.17 L425.88 553.97 L427.29 554.76 L428.71 555.55 L430.14 556.32 L431.57 557.08 L433.01 557.83 L434.46 558.57 L435.91 559.29 L437.36 560.01 L438.82 560.71 L440.29 561.39 L441.77 562.07 L443.25 562.73 L444.73 563.38 L446.22 564.01 L447.72 564.63 L449.22 565.23 L450.73 565.82 L452.25 566.39 L453.77 566.95" fill="none" stroke="rgb(124,110,175)" stroke-width="1.95"/>
<path d="M66.32 74.88 L66.50 76.49 L66.68 78.10 L66.87 79.71 L67.07 81.31 L67.28 82.92 L67.49 84.53 L67.71 86.13 L67.94 87.74 L68.18 89.34 L68.43 90.94 L68.68 92.54 L68.95 94.14 L69.22 95.74 L69.49 97.34 L69.78 98.93 L70.07 100.53 L70.37 102.12 L70.68 103.71 L71.00 105.31 L71.32 106.90 L71.65 108.48 L71.99 110.07 L72.33 111.66 L72.68 113.24 L73.04 114.82 L73.41 116.40 L73.78 117.98 L74.16 119.56 L74.55 121.14 L74.95 122.71 L75.35 124.28 L75.75 125.86 L76.17 127.42 L76.59 128.99 L77.02 130.56 L77.45 132.12 L77.89 133.69 L78.34 135.25 L78.79 136.81 L79.25 138.36 L79.72 139.92 L80.19 141.47 L80.66 143.03 L81.15 144.58 L81.64 146.12 L82.13 147.67 L82.63 149.22 L83.14 150.76 L83.65 152.30 L84.17 153.84 L84.69 155.38 L85.22 156.91 L85.75 158.45 L86.29 159.98 L86.84 161.51 L87.39 163.04 L87.94 164.56 L88.50 166.09 L89.07 167.61 L89.64 169.13 L90.21 170.65 L90.79 172.17 L91.37 173.68 L91.96 175.20 L92.55 176.71 L93.15 178.22 L93.75 179.73 L94.36 181.24 L94.97 182.74 L95.58 184.25 L96.20 185.75 L96.83 187.25 L97.45 188.74 L98.09 190.24 L98.72 191.74 L99.36 193.23 L100.00 194.72 L100.65 196.21 L101.30 197.70 L101.95 199.19 L102.61 200.67 L103.27 202.15 L103.94 203.64 L104.61 205.12 L105.28 206.59 L105.96 208.07 L106.64 209.55 L107.32 211.02 L108.01 212.49 L108.70 213.96 L109.40 215.43 L110.10 216.89 L110.80 218.36 L111.51 219.82 L112.22 221.28 L112.93 222.74 L113.65 224.20 L114.37 225.65 L115.09 227.11 L115.82 228.56 L116.55 230.01 L117.29 231.46 L118.03 232.90 L118.77 234.35 L119.51 235.79 L120.26 237.23 L121.01 238.67 L121.77 240.11 L122.53 241.55 L123.29 242.98 L124.06 244.41 L124.83 245.84 L125.60 247.27 L126.38 248.70 L127.16 250.12 L127.94 251.55 L128.73 252.97 L129.52 254.39 L130.31 255.80 L131.11 257.22 L131.91 258.63 L132.71 260.04 L133.52 261.45 L134.33 262.86 L135.14 264.27 L135.96 265.67 L136.78 267.07 L137.60 268.47 L138.43 269.87 L139.26 271.27 L140.09 272.66 L140.93 274.05 L141.77 275.44 L142.61 276.83 L143.46 278.22 L144.31 279.60 L145.16 280.99 L146.02 282.37 L146.88 283.75 L147.74 285.12 L148.60 286.50 L149.47 287.87 L150.34 289.24 L151.22 290.61 L152.10 291.98 L152.98 293.34 L153.86 294.70 L154.75 296.06 L155.64 297.42 L156.53 298.78 L157.43 300.13 L158.33 301.48 L159.23 302.83 L160.14 304.18 L161.05 305.53 L161.96 306.87 L162.88 308.21 L163.80 309.55 L164.72 310.89 L165.65 312.22 L166.58 313.56 L167.51 314.89 L168.44 316.21 L169.38 317.54 L170.32 318.86 L171.27 320.18 L172.22 321.50 L173.17 322.82 L174.12 324.13 L175.08 325.44 L176.04 326.75 L177.01 328.06 L177.98 329.36 L178.95 330.67 L179.93 331.97 L180.90 333.26 L181.89 334.56 L182.87 335.85 L183.86 337.14 L184.85 338.42 L185.85 339.70 L186.85 340.99 L187.85 342.26 L188.86 343.54 L189.87 344.81 L190.88 346.08 L191.89 347.35 L192.91 348.61 L193.94 349.88 L194.96 351.14 L195.99 352.39 L197.02 353.65 L198.06 354.90 L199.10 356.15 L200.14 357.39 L201.18 358.64 L202.23 359.88 L203.28 361.12 L204.33 362.36 L205.39 363.59 L206.45 364.82 L207.51 366.05 L208.58 367.28 L209.65 368.50 L210.72 369.72 L211.79 370.94 L212.87 372.15 L213.95 373.37 L215.03 374.58 L216.11 375.79 L217.20 376.99 L218.29 378.20 L219.39 379.40 L220.48 380.60 L221.58 381.80 L222.68 382.99 L223.78 384.18 L224.89 385.37 L225.99 386.56 L227.10 387.75 L228.21 388.93 L229.32 390.12 L230.44 391.30 L231.55 392.48 L232.67 393.66 L233.79 394.84 L234.91 396.01 L236.03 397.19 L237.15 398.36 L238.27 399.53 L239.40 400.70 L240.53 401.87 L241.65 403.04 L242.78 404.21 L243.91 405.38 L245.04 406.54 L246.17 407.71 L247.31 408.87 L248.44 410.03 L249.58 411.19 L250.71 412.35 L251.85 413.51 L252.99 414.67 L254.13 415.82 L255.27 416.98 L256.42 418.13 L257.56 419.28 L258.71 420.43 L259.86 421.58 L261.01 422.73 L262.16 423.87 L263.31 425.02 L264.47 426.16 L265.63 427.30 L266.78 428.43 L267.94 429.57 L269.11 430.70 L270.27 431.84 L271.44 432.97 L272.61 434.10 L273.78 435.22 L274.95 436.35 L276.12 437.47 L277.30 438.59 L278.48 439.71 L279.66 440.82 L280.84 441.93 L282.03 443.04 L283.21 444.15 L284.40 445.26 L285.60 446.36 L286.79 447.46 L287.99 448.56 L289.19 449.66 L290.39 450.75 L291.59 451.84 L292.80 452.93 L294.01 454.01 L295.22 455.09 L296.43 456.17 L297.65 457.25 L298.87 458.32 L300.09 459.39 L301.32 460.46 L302.54 461.53 L303.77 462.59 L305.00 463.65 L306.23 464.71 L307.47 465.76 L308.70 466.82 L309.94 467.87 L311.18 468.92 L312.43 469.96 L313.67 471.00 L314.92 472.05 L316.17 473.08 L317.42 474.12 L318.67 475.16 L319.92 476.19 L321.18 477.22 L322.44 478.25 L323.70 479.27 L324.96 480.30 L326.22 481.32 L327.48 482.34 L328.75 483.36 L330.02 484.37 L331.28 485.39 L332.55 486.40 L333.82 487.41 L335.10 488.42 L336.37 489.43 L337.65 490.44 L338.92 491.44 L340.20 492.44 L341.48 493.45 L342.76 494.45 L344.04 495.44 L345.32 496.44 L346.61 497.44 L347.89 498.43 L349.18 499.42 L350.46 500.42 L351.75 501.41 L353.04 502.40 L354.33 503.38 L355.62 504.37 L356.91 505.36 L358.20 506.34 L359.49 507.33 L360.78 508.31 L362.08 509.29 L363.37 510.27 L364.67 511.25 L365.96 512.23 L367.26 513.21 L368.56 514.19 L369.85 515.17 L371.15 516.15 L372.45 517.12 L373.75 518.10 L375.05 519.07 L376.35 520.05 L377.65 521.02 L378.95 521.99 L380.25 522.96 L381.55 523.93 L382.85 524.90 L384.16 525.87 L385.46 526.84 L386.77 527.80 L388.08 528.76 L389.39 529.73 L390.70 530.68 L392.01 531.64 L393.33 532.59 L394.64 533.55 L395.96 534.49 L397.28 535.44 L398.60 536.38 L399.93 537.32 L401.26 538.25 L402.59 539.18 L403.93 540.10 L405.27 541.02 L406.61 541.93 L407.95 542.84 L409.30 543.74 L410.66 544.64 L412.02 545.53 L413.38 546.41 L414.75 547.28 L416.12 548.15 L417.50 549.01 L418.88 549.86 L420.27 550.70 L421.66 551.53 L423.06 552.35 L424.47 553.17 L425.88 553.97 L427.29 554.76 L428.71 555.55 L430.14 556.32 L431.57 557.08 L433.01 557.83 L434.46 558.57 L435.91 559.29 L437.36 560.01 L438.82 560.71 L440.29 561.39 L441.77 562.07 L443.25 562.73 L444.73 563.38 L446.22 564.01 L447.72 564.63 L449.22 565.23 L450.73 565.82 L452.25 566.39 L453.77 566.95 L471.75 567.01 L470.11 566.55 L468.47 566.07 L466.83 565.57 L465.20 565.05 L463.58 564.51 L461.97 563.95 L460.36 563.37 L458.75 562.78 L457.16 562.16 L455.57 561.53 L453.99 560.89 L452.41 560.22 L450.84 559.54 L449.28 558.84 L447.73 558.13 L446.18 557.41 L444.64 556.66 L443.11 555.91 L441.58 555.14 L440.06 554.36 L438.55 553.56 L437.04 552.76 L435.54 551.94 L434.04 551.11 L432.56 550.26 L431.07 549.41 L429.60 548.55 L428.13 547.68 L426.66 546.80 L425.20 545.91 L423.75 545.01 L422.30 544.10 L420.85 543.18 L419.41 542.26 L417.98 541.33 L416.55 540.40 L415.12 539.46 L413.70 538.51 L412.28 537.56 L410.86 536.60 L409.45 535.64 L408.04 534.67 L406.63 533.70 L405.23 532.73 L403.82 531.75 L402.42 530.77 L401.02 529.79 L399.63 528.80 L398.23 527.81 L396.84 526.83 L395.44 525.83 L394.05 524.84 L392.66 523.84 L391.28 522.84 L389.89 521.84 L388.51 520.84 L387.12 519.83 L385.74 518.82 L384.36 517.81 L382.99 516.80 L381.61 515.79 L380.24 514.77 L378.86 513.75 L377.49 512.73 L376.12 511.70 L374.76 510.68 L373.39 509.65 L372.03 508.62 L370.67 507.59 L369.30 506.55 L367.95 505.51 L366.59 504.47 L365.23 503.43 L363.88 502.39 L362.53 501.34 L361.18 500.29 L359.83 499.24 L358.48 498.19 L357.13 497.14 L355.79 496.08 L354.45 495.02 L353.11 493.96 L351.77 492.90 L350.43 491.83 L349.09 490.77 L347.76 489.70 L346.43 488.62 L345.10 487.55 L343.77 486.48 L342.44 485.40 L341.12 484.32 L339.79 483.24 L338.47 482.15 L337.15 481.07 L335.83 479.98 L334.51 478.89 L333.20 477.80 L331.88 476.70 L330.57 475.61 L329.26 474.51 L327.95 473.41 L326.65 472.31 L325.34 471.20 L324.04 470.10 L322.73 468.99 L321.43 467.88 L320.13 466.77 L318.84 465.66 L317.54 464.54 L316.25 463.42 L314.96 462.30 L313.66 461.18 L312.38 460.06 L311.09 458.93 L309.80 457.81 L308.52 456.68 L307.24 455.55 L305.96 454.41 L304.68 453.28 L303.40 452.14 L302.12 451.00 L300.85 449.86 L299.58 448.72 L298.31 447.58 L297.04 446.43 L295.77 445.29 L294.50 444.14 L293.24 442.99 L291.98 441.84 L290.71 440.68 L289.45 439.53 L288.20 438.37 L286.94 437.21 L285.68 436.05 L284.43 434.89 L283.18 433.73 L281.92 432.56 L280.67 431.40 L279.42 430.23 L278.18 429.06 L276.93 427.89 L275.69 426.72 L274.44 425.54 L273.20 424.37 L271.96 423.19 L270.72 422.02 L269.48 420.84 L268.24 419.66 L267.01 418.48 L265.77 417.29 L264.54 416.11 L263.31 414.93 L262.07 413.74 L260.84 412.55 L259.62 411.36 L258.39 410.18 L257.16 408.98 L255.93 407.79 L254.71 406.60 L253.49 405.41 L252.26 404.21 L251.04 403.02 L249.82 401.82 L248.60 400.62 L247.38 399.42 L246.16 398.22 L244.95 397.02 L243.73 395.82 L242.52 394.62 L241.30 393.41 L240.09 392.21 L238.88 391.00 L237.67 389.79 L236.47 388.58 L235.27 387.36 L234.06 386.14 L232.86 384.93 L231.67 383.71 L230.47 382.48 L229.28 381.26 L228.09 380.03 L226.91 378.80 L225.72 377.56 L224.54 376.32 L223.37 375.08 L222.20 373.84 L221.03 372.59 L219.86 371.34 L218.70 370.09 L217.54 368.83 L216.39 367.57 L215.24 366.30 L214.09 365.03 L212.95 363.76 L211.81 362.49 L210.68 361.21 L209.55 359.92 L208.42 358.64 L207.30 357.35 L206.18 356.06 L205.06 354.76 L203.95 353.46 L202.84 352.16 L201.74 350.85 L200.64 349.54 L199.55 348.23 L198.45 346.91 L197.37 345.60 L196.28 344.27 L195.20 342.95 L194.13 341.62 L193.05 340.29 L191.98 338.96 L190.92 337.62 L189.86 336.28 L188.80 334.93 L187.75 333.59 L186.70 332.24 L185.65 330.89 L184.61 329.53 L183.57 328.17 L182.53 326.81 L181.50 325.45 L180.48 324.08 L179.45 322.71 L178.43 321.34 L177.41 319.97 L176.40 318.59 L175.39 317.21 L174.39 315.83 L173.38 314.44 L172.39 313.06 L171.39 311.67 L170.40 310.27 L169.41 308.88 L168.43 307.48 L167.45 306.08 L166.47 304.68 L165.50 303.27 L164.53 301.86 L163.56 300.45 L162.60 299.04 L161.64 297.62 L160.68 296.20 L159.73 294.78 L158.79 293.36 L157.84 291.94 L156.90 290.51 L155.96 289.08 L155.03 287.65 L154.10 286.21 L153.17 284.77 L152.25 283.34 L151.33 281.89 L150.42 280.45 L149.51 279.00 L148.60 277.55 L147.69 276.10 L146.79 274.65 L145.90 273.19 L145.00 271.74 L144.11 270.28 L143.23 268.81 L142.35 267.35 L141.47 265.88 L140.59 264.41 L139.72 262.94 L138.85 261.47 L137.99 260.00 L137.13 258.52 L136.27 257.04 L135.42 255.56 L134.57 254.07 L133.73 252.59 L132.89 251.10 L132.05 249.61 L131.21 248.12 L130.38 246.62 L129.56 245.12 L128.73 243.63 L127.91 242.13 L127.10 240.62 L126.29 239.12 L125.48 237.61 L124.67 236.10 L123.87 234.59 L123.08 233.08 L122.28 231.56 L121.50 230.05 L120.71 228.53 L119.93 227.01 L119.15 225.49 L118.38 223.96 L117.61 222.44 L116.84 220.91 L116.08 219.38 L115.32 217.85 L114.56 216.31 L113.81 214.78 L113.06 213.24 L112.32 211.70 L111.58 210.16 L110.84 208.62 L110.11 207.07 L109.38 205.52 L108.66 203.97 L107.94 202.42 L107.22 200.87 L106.51 199.32 L105.80 197.76 L105.09 196.21 L104.39 194.65 L103.70 193.09 L103.00 191.52 L102.31 189.96 L101.63 188.39 L100.94 186.82 L100.27 185.26 L99.59 183.68 L98.92 182.11 L98.26 180.54 L97.59 178.96 L96.94 177.38 L96.28 175.80 L95.63 174.22 L94.98 172.64 L94.34 171.05 L93.71 169.47 L93.07 167.88 L92.44 166.29 L91.82 164.70 L91.20 163.10 L90.59 161.51 L89.98 159.91 L89.37 158.31 L88.77 156.71 L88.18 155.11 L87.59 153.50 L87.01 151.90 L86.43 150.29 L85.86 148.67 L85.30 147.06 L84.74 145.45 L84.19 143.83 L83.64 142.21 L83.10 140.59 L82.56 138.96 L82.04 137.34 L81.52 135.71 L81.00 134.08 L80.49 132.44 L79.99 130.81 L79.50 129.17 L79.02 127.53 L78.54 125.89 L78.07 124.25 L77.60 122.60 L77.15 120.95 L76.70 119.30 L76.26 117.65 L75.83 116.00 L75.41 114.34 L74.99 112.68 L74.58 111.02 L74.18 109.36 L73.79 107.70 L73.41 106.03 L73.04 104.36 L72.68 102.69 L72.32 101.02 L71.98 99.34 L71.64 97.67 L71.32 95.99 L71.00 94.31 L70.69 92.63 L70.39 90.94 L70.11 89.26 L69.83 87.57 L69.56 85.88 L69.30 84.19 L69.05 82.50 L68.82 80.81 L68.59 79.11 L68.37 77.42 L68.17 75.72 L67.97 74.02 L67.79 72.32 L67.61 70.62 L67.45 68.92 L67.30 67.22 L67.16 65.51 L67.03 63.81 L66.91 62.10 L66.80 60.40 L66.70 58.69 L66.62 56.98 L66.54 55.27 L66.48 53.57 L66.43 51.86 Z" fill="rgb(135,120,179)" fill-opacity="0.45" stroke="none"/>
<path d="M66.32 74.88 L66.50 76.49 L66.68 78.10 L66.87 79.71 L67.07 81.31 L67.28 82.92 L67.49 84.53 L67.71 86.13 L67.94 87.74 L68.18 89.34 L68.43 90.94 L68.68 92.54 L68.95 94.14 L69.22 95.74 L69.49 97.34 L69.78 98.93 L70.07 100.53 L70.37 102.12 L70.68 103.71 L71.00 105.31 L71.32 106.90 L71.65 108.48 L71.99 110.07 L72.33 111.66 L72.68 113.24 L73.04 114.82 L73.41 116.40 L73.78 117.98 L74.16 119.56 L74.55 121.14 L74.95 122.71 L75.35 124.28 L75.75 125.86 L76.17 127.42 L76.59 128.99 L77.02 130.56 L77.45 132.12 L77.89 133.69 L78.34 135.25 L78.79 136.81 L79.25 138.36 L79.72 139.92 L80.19 141.47 L80.66 143.03 L81.15 144.58 L81.64 146.12 L82.13 147.67 L82.63 149.22 L83.14 150.76 L83.65 152.30 L84.17 153.84 L84.69 155.38 L85.22 156.91 L85.75 158.45 L86.29 159.98 L86.84 161.51 L87.39 163.04 L87.94 164.56 L88.50 166.09 L89.07 167.61 L89.64 169.13 L90.21 170.65 L90.79 172.17 L91.37 173.68 L91.96 175.20 L92.55 176.71 L93.15 178.22 L93.75 179.73 L94.36 181.24 L94.97 182.74 L95.58 184.25 L96.20 185.75 L96.83 187.25 L97.45 188.74 L98.09 190.24 L98.72 191.74 L99.36 193.23 L100.00 194.72 L100.65 196.21 L101.30 197.70 L101.95 199.19 L102.61 200.67 L103.27 202.15 L103.94 203.64 L104.61 205.12 L105.28 206.59 L105.96 208.07 L106.64 209.55 L107.32 211.02 L108.01 212.49 L108.70 213.96 L109.40 215.43 L110.10 216.89 L110.80 218.36 L111.51 219.82 L112.22 221.28 L112.93 222.74 L113.65 224.20 L114.37 225.65 L115.09 227.11 L115.82 228.56 L116.55 230.01 L117.29 231.46 L118.03 232.90 L118.77 234.35 L119.51 235.79 L120.26 237.23 L121.01 238.67 L121.77 240.11 L122.53 241.55 L123.29 242.98 L124.06 244.41 L124.83 245.84 L125.60 247.27 L126.38 248.70 L127.16 250.12 L127.94 251.55 L128.73 252.97 L129.52 254.39 L130.31 255.80 L131.11 257.22 L131.91 258.63 L132.71 260.04 L133.52 261.45 L134.33 262.86 L135.14 264.27 L135.96 265.67 L136.78 267.07 L137.60 268.47 L138.43 269.87 L139.26 271.27 L140.09 272.66 L140.93 274.05 L141.77 275.44 L142.61 276.83 L143.46 278.22 L144.31 279.60 L145.16 280.99 L146.02 282.37 L146.88 283.75 L147.74 285.12 L148.60 286.50 L149.47 287.87 L150.34 289.24 L151.22 290.61 L152.10 291.98 L152.98 293.34 L153.86 294.70 L154.75 296.06 L155.64 297.42 L156.53 298.78 L157.43 300.13 L158.33 301.48 L159.23 302.83 L160.14 304.18 L161.05 305.53 L161.96 306.87 L162.88 308.21 L163.80 309.55 L164.72 310.89 L165.65 312.22 L166.58 313.56 L167.51 314.89 L168.44 316.21 L169.38 317.54 L170.32 318.86 L171.27 320.18 L172.22 321.50 L173.17 322.82 L174.12 324.13 L175.08 325.44 L176.04 326.75 L177.01 328.06 L177.98 329.36 L178.95 330.67 L179.93 331.97 L180.90 333.26 L181.89 334.56 L182.87 335.85 L183.86 337.14 L184.85 338.42 L185.85 339.70 L186.85 340.99 L187.85 342.26 L188.86 343.54 L189.87 344.81 L190.88 346.08 L191.89 347.35 L192.91 348.61 L193.94 349.88 L194.96 351.14 L195.99 352.39 L197.02 353.65 L198.06 354.90 L199.10 356.15 L200.14 357.39 L201.18 358.64 L202.23 359.88 L203.28 361.12 L204.33 362.36 L205.39 363.59 L206.45 364.82 L207.51 366.05 L208.58 367.28 L209.65 368.50 L210.72 369.72 L211.79 370.94 L212.87 372.15 L213.95 373.37 L215.03 374.58 L216.11 375.79 L217.20 376.99 L218.29 378.20 L219.39 379.40 L220.48 380.60 L221.58 381.80 L222.68 382.99 L223.78 384.18 L224.89 385.37 L225.99 386.56 L227.10 387.75 L228.21 388.93 L229.32 390.12 L230.44 391.30 L231.55 392.48 L232.67 393.66 L233.79 394.84 L234.91 396.01 L236.03 397.19 L237.15 398.36 L238.27 399.53 L239.40 400.70 L240.53 401.87 L241.65 403.04 L242.78 404.21 L243.91 405.38 L245.04 406.54 L246.17 407.71 L247.31 408.87 L248.44 410.03 L249.58 411.19 L250.71 412.35 L251.85 413.51 L252.99 414.67 L254.13 415.82 L255.27 416.98 L256.42 418.13 L257.56 419.28 L258.71 420.43 L259.86 421.58 L261.01 422.73 L262.16 423.87 L263.31 425.02 L264.47 426.16 L265.63 427.30 L266.78 428.43 L267.94 429.57 L269.11 430.70 L270.27 431.84 L271.44 432.97 L272.61 434.10 L273.78 435.22 L274.95 436.35 L276.12 437.47 L277.30 438.59 L278.48 439.71 L279.66 440.82 L280.84 441.93 L282.03 443.04 L283.21 444.15 L284.40 445.26 L285.60 446.36 L286.79 447.46 L287.99 448.56 L289.19 449.66 L290.39 450.75 L291.59 451.84 L292.80 452.93 L294.01 454.01 L295.22 455.09 L296.43 456.17 L297.65 457.25 L298.87 458.32 L300.09 459.39 L301.32 460.46 L302.54 461.53 L303.77 462.59 L305.00 463.65 L306.23 464.71 L307.47 465.76 L308.70 466.82 L309.94 467.87 L311.18 468.92 L312.43 469.96 L313.67 471.00 L314.92 472.05 L316.17 473.08 L317.42 474.12 L318.67 475.16 L319.92 476.19 L321.18 477.22 L322.44 478.25 L323.70 479.27 L324.96 480.30 L326.22 481.32 L327.48 482.34 L328.75 483.36 L330.02 484.37 L331.28 485.39 L332.55 486.40 L333.82 487.41 L335.10 488.42 L336.37 489.43 L337.65 490.44 L338.92 491.44 L340.20 492.44 L341.48 493.45 L342.76 494.45 L344.04 495.44 L345.32 496.44 L346.61 497.44 L347.89 498.43 L349.18 499.42 L350.46 500.42 L351.75 501.41 L353.04 502.40 L354.33 503.38 L355.62 504.37 L356.91 505.36 L358.20 506.34 L359.49 507.33 L360.78 508.31 L362.08 509.29 L363.37 510.27 L364.67 511.25 L365.96 512.23 L367.26 513.21 L368.56 514.19 L369.85 515.17 L371.15 516.15 L372.45 517.12 L373.75 518.10 L375.05 519.07 L376.35 520.05 L377.65 521.02 L378.95 521.99 L380.25 522.96 L381.55 523.93 L382.85 524.90 L384.16 525.87 L385.46 526.84 L386.77 527.80 L388.08 528.76 L389.39 529.73 L390.70 530.68 L392.01 531.64 L393.33 532.59 L394.64 533.55 L395.96 534.49 L397.28 535.44 L398.60 536.38 L399.93 537.32 L401.26 538.25 L402.59 539.18 L403.93 540.10 L405.27 541.02 L406.61 541.93 L407.95 542.84 L409.30 543.74 L410.66 544.64 L412.02 545.53 L413.38 546.41 L414.75 547.28 L416.12 548.15 L417.50 549.01 L418.88 549.86 L420.27 550.70 L421.66 551.53 L423.06 552.35 L424.47 553.17 L425.88 553.97 L427.29 554.76 L428.71 555.55 L430.14 556.32 L431.57 557.08 L433.01 557.83 L434.46 558.57 L435.91 559.29 L437.36 560.01 L438.82 560.71 L440.29 561.39 L441.77 562.07 L443.25 562.73 L444.73 563.38 L446.22 564.01 L447.72 564.63 L449.22 565.23 L450.73 565.82 L452.25 566.39 L453.77 566.95" fill="none" stroke="rgb(124,110,175)" stroke-width="1.95" stroke-dasharray="2.7 1.3"/>
<path d="M66.43 51.86 L66.48 53.57 L66.54 55.27 L66.62 56.98 L66.70 58.69 L66.80 60.40 L66.91 62.10 L67.03 63.81 L67.16 65.51 L67.30 67.22 L67.45 68.92 L67.61 70.62 L67.79 72.32 L67.97 74.02 L68.17 75.72 L68.37 77.42 L68.59 79.11 L68.82 80.81 L69.05 82.50 L69.30 84.19 L69.56 85.88 L69.83 87.57 L70.11 89.26 L70.39 90.94 L70.69 92.63 L71.00 94.31 L71.32 95.99 L71.64 97.67 L71.98 99.34 L72.32 101.02 L72.68 102.69 L73.04 104.36 L73.41 106.03 L73.79 107.70 L74.18 109.36 L74.58 111.02 L74.99 112.68 L75.41 114.34 L75.83 116.00 L76.26 117.65 L76.70 119.30 L77.15 120.95 L77.60 122.60 L78.07 124.25 L78.54 125.89 L79.02 127.53 L79.50 129.17 L79.99 130.81 L80.49 132.44 L81.00 134.08 L81.52 135.71 L82.04 137.34 L82.56 138.96 L83.10 140.59 L83.64 142.21 L84.19 143.83 L84.74 145.45 L85.30 147.06 L85.86 148.67 L86.43 150.29 L87.01 151.90 L87.59 153.50 L88.18 155.11 L88.77 156.71 L89.37 158.31 L89.98 159.91 L90.59 161.51 L91.20 163.10 L91.82 164.70 L92.44 166.29 L93.07 167.88 L93.71 169.47 L94.34 171.05 L94.98 172.64 L95.63 174.22 L96.28 175.80 L96.94 177.38 L97.59 178.96 L98.26 180.54 L98.92 182.11 L99.59 183.68 L100.27 185.26 L100.94 186.82 L101.63 188.39 L102.31 189.96 L103.00 191.52 L103.70 193.09 L104.39 194.65 L105.09 196.21 L105.80 197.76 L106.51 199.32 L107.22 200.87 L107.94 202.42 L108.66 203.97 L109.38 205.52 L110.11 207.07 L110.84 208.62 L111.58 210.16 L112.32 211.70 L113.06 213.24 L113.81 214.78 L114.56 216.31 L115.32 217.85 L116.08 219.38 L116.84 220.91 L117.61 222.44 L118.38 223.96 L119.15 225.49 L119.93 227.01 L120.71 228.53 L121.50 230.05 L122.28 231.56 L123.08 233.08 L123.87 234.59 L124.67 236.10 L125.48 237.61 L126.29 239.12 L127.10 240.62 L127.91 242.13 L128.73 243.63 L129.56 245.12 L130.38 246.62 L131.21 248.12 L132.05 249.61 L132.89 251.10 L133.73 252.59 L134.57 254.07 L135.42 255.56 L136.27 257.04 L137.13 258.52 L137.99 260.00 L138.85 261.47 L139.72 262.94 L140.59 264.41 L141.47 265.88 L142.35 267.35 L143.23 268.81 L144.11 270.28 L145.00 271.74 L145.90 273.19 L146.79 274.65 L147.69 276.10 L148.60 277.55 L149.51 279.00 L150.42 280.45 L151.33 281.89 L152.25 283.34 L153.17 284.77 L154.10 286.21 L155.03 287.65 L155.96 289.08 L156.90 290.51 L157.84 291.94 L158.79 293.36 L159.73 294.78 L160.68 296.20 L161.64 297.62 L162.60 299.04 L163.56 300.45 L164.53 301.86 L165.50 303.27 L166.47 304.68 L167.45 306.08 L168.43 307.48 L169.41 308.88 L170.40 310.27 L171.39 311.67 L172.39 313.06 L173.38 314.44 L174.39 315.83 L175.39 317.21 L176.40 318.59 L177.41 319.97 L178.43 321.34 L179.45 322.71 L180.48 324.08 L181.50 325.45 L182.53 326.81 L183.57 328.17 L184.61 329.53 L185.65 330.89 L186.70 332.24 L187.75 333.59 L188.80 334.93 L189.86 336.28 L190.92 337.62 L191.98 338.96 L193.05 340.29 L194.13 341.62 L195.20 342.95 L196.28 344.27 L197.37 345.60 L198.45 346.91 L199.55 348.23 L200.64 349.54 L201.74 350.85 L202.84 352.16 L203.95 353.46 L205.06 354.76 L206.18 356.06 L207.30 357.35 L208.42 358.64 L209.55 359.92 L210.68 361.21 L211.81 362.49 L212.95 363.76 L214.09 365.03 L215.24 366.30 L216.39 367.57 L217.54 368.83 L218.70 370.09 L219.86 371.34 L221.03 372.59 L222.20 373.84 L223.37 375.08 L224.54 376.32 L225.72 377.56 L226.91 378.80 L228.09 380.03 L229.28 381.26 L230.47 382.48 L231.67 383.71 L232.86 384.93 L234.06 386.14 L235.27 387.36 L236.47 388.58 L237.67 389.79 L238.88 391.00 L240.09 392.21 L241.30 393.41 L242.52 394.62 L243.73 395.82 L244.95 397.02 L246.16 398.22 L247.38 399.42 L248.60 400.62 L249.82 401.82 L251.04 403.02 L252.26 404.21 L253.49 405.41 L254.71 406.60 L255.93 407.79 L257.16 408.98 L258.39 410.18 L259.62 411.36 L260.84 412.55 L262.07 413.74 L263.31 414.93 L264.54 416.11 L265.77 417.29 L267.01 418.48 L268.24 419.66 L269.48 420.84 L270.72 422.02 L271.96 423.19 L273.20 424.37 L274.44 425.54 L275.69 426.72 L276.93 427.89 L278.18 429.06 L279.42 430.23 L280.67 431.40 L281.92 432.56 L283.18 433.73 L284.43 434.89 L285.68 436.05 L286.94 437.21 L288.20 438.37 L289.45 439.53 L290.71 440.68 L291.98 441.84 L293.24 442.99 L294.50 444.14 L295.77 445.29 L297.04 446.43 L298.31 447.58 L299.58 448.72 L300.85 449.86 L302.12 451.00 L303.40 452.14 L304.68 453.28 L305.96 454.41 L307.24 455.55 L308.52 456.68 L309.80 457.81 L311.09 458.93 L312.38 460.06 L313.66 461.18 L314.96 462.30 L316.25 463.42 L317.54 464.54 L318.84 465.66 L320.13 466.77 L321.43 467.88 L322.73 468.99 L324.04 470.10 L325.34 471.20 L326.65 472.31 L327.95 473.41 L329.26 474.51 L330.57 475.61 L331.88 476.70 L333.20 477.80 L334.51 478.89 L335.83 479.98 L337.15 481.07 L338.47 482.15 L339.79 483.24 L341.12 484.32 L342.44 485.40 L343.77 486.48 L345.10 487.55 L346.43 488.62 L347.76 489.70 L349.09 490.77 L350.43 491.83 L351.77 492.90 L353.11 493.96 L354.45 495.02 L355.79 496.08 L357.13 497.14 L358.48 498.19 L359.83 499.24 L361.18 500.29 L362.53 501.34 L363.88 502.39 L365.23 503.43 L366.59 504.47 L367.95 505.51 L369.30 506.55 L370.67 507.59 L372.03 508.62 L373.39 509.65 L374.76 510.68 L376.12 511.70 L377.49 512.73 L378.86 513.75 L380.24 514.77 L381.61 515.79 L382.99 516.80 L384.36 517.81 L385.74 518.82 L387.12 519.83 L388.51 520.84 L389.89 521.84 L391.28 522.84 L392.66 523.84 L394.05 524.84 L395.44 525.83 L396.84 526.83 L398.23 527.81 L399.63 528.80 L401.02 529.79 L402.42 530.77 L403.82 531.75 L405.23 532.73 L406.63 533.70 L408.04 534.67 L409.45 535.64 L410.86 536.60 L412.28 537.56 L413.70 538.51 L415.12 539.46 L416.55 540.40 L417.98 541.33 L419.41 542.26 L420.85 543.18 L422.30 544.10 L423.75 545.01 L425.20 545.91 L426.66 546.80 L428.13 547.68 L429.60 548.55 L431.07 549.41 L432.56 550.26 L434.04 551.11 L435.54 551.94 L437.04 552.76 L438.55 553.56 L440.06 554.36 L441.58 555.14 L443.11 555.91 L444.64 556.66 L446.18 557.41 L447.73 558.13 L449.28 558.84 L450.84 559.54 L452.41 560.22 L453.99 560.89 L455.57 561.53 L457.16 562.16 L458.75 562.78 L460.36 563.37 L461.97 563.95 L463.58 564.51 L465.20 565.05 L466.83 565.57 L468.47 566.07 L470.11 566.55 L471.75 567.01" fill="none" stroke="rgb(124,110,175)" stroke-width="1.95" stroke-dasharray="2.7 1.3"/>
<path d="M65.38 47.84 L65.78 50.49 L66.20 53.13 L66.63 55.77 L67.08 58.40 L67.53 61.03 L68.00 63.66 L68.48 66.28 L68.97 68.89 L69.48 71.50 L69.99 74.11 L70.52 76.71 L71.06 79.31 L71.61 81.91 L72.17 84.49 L72.74 87.08 L73.33 89.66 L73.92 92.24 L74.53 94.81 L75.15 97.38 L75.78 99.94 L76.42 102.50 L77.08 105.05 L77.74 107.60 L78.41 110.15 L79.10 112.69 L79.80 115.23 L80.51 117.76 L81.22 120.29 L81.95 122.81 L82.69 125.33 L83.45 127.85 L84.21 130.36 L84.98 132.87 L85.76 135.37 L86.56 137.87 L87.36 140.36 L88.18 142.85 L89.00 145.34 L89.84 147.82 L90.68 150.30 L91.54 152.77 L92.40 155.24 L93.28 157.71 L94.16 160.17 L95.06 162.62 L95.97 165.08 L96.88 167.52 L97.81 169.97 L98.74 172.41 L99.69 174.84 L100.64 177.28 L101.61 179.70 L102.58 182.13 L103.57 184.55 L104.56 186.96 L105.56 189.37 L106.57 191.78 L107.59 194.18 L108.63 196.58 L109.67 198.97 L110.71 201.36 L111.77 203.75 L112.84 206.13 L113.92 208.51 L115.00 210.88 L116.10 213.25 L117.20 215.62 L118.31 217.98 L119.43 220.34 L120.56 222.69 L121.70 225.04 L122.85 227.39 L124.00 229.73 L125.17 232.07 L126.34 234.40 L127.52 236.73 L128.71 239.06 L129.91 241.38 L131.11 243.70 L132.32 246.01 L133.55 248.32 L134.78 250.63 L136.02 252.93 L137.26 255.22 L138.52 257.52 L139.78 259.81 L141.05 262.09 L142.33 264.38 L143.61 266.65 L144.90 268.93 L146.21 271.20 L147.51 273.47 L148.83 275.73 L150.15 277.99 L151.48 280.24 L152.82 282.49 L154.17 284.74 L155.52 286.98 L156.88 289.22 L158.25 291.46 L159.62 293.69 L161.01 295.92 L162.39 298.14 L163.79 300.36 L165.19 302.58 L166.60 304.79 L168.02 307.00 L169.44 309.20 L170.87 311.40 L172.31 313.60 L173.75 315.79 L175.20 317.98 L176.66 320.17 L178.12 322.35 L179.59 324.53 L181.06 326.70 L182.55 328.87 L184.03 331.04 L185.53 333.20 L187.03 335.36 L188.54 337.52 L190.05 339.67 L191.57 341.82 L193.09 343.96 L194.62 346.10 L196.16 348.24 L197.70 350.37 L199.25 352.50 L200.80 354.63 L202.36 356.75 L203.93 358.87 L205.50 360.99 L207.07 363.10 L208.65 365.21 L210.24 367.31 L211.83 369.41 L213.43 371.51 L215.03 373.60 L216.64 375.69 L218.25 377.78 L219.87 379.86 L221.50 381.94 L223.12 384.01 L224.76 386.08 L226.39 388.15 L228.04 390.22 L229.68 392.28 L231.34 394.34 L232.99 396.39 L234.66 398.44 L236.32 400.49 L237.99 402.53 L239.67 404.57 L241.35 406.60 L243.03 408.64 L244.72 410.67 L246.41 412.69 L248.11 414.71 L249.81 416.73 L251.51 418.75 L253.22 420.76 L254.94 422.77 L256.65 424.77 L258.37 426.77 L260.10 428.77 L261.83 430.76 L263.56 432.75 L265.30 434.74 L267.04 436.73 L268.78 438.71 L270.53 440.68 L272.28 442.66 L274.03 444.63 L275.79 446.59 L277.55 448.56 L279.31 450.52 L281.08 452.47 L282.85 454.43 L284.62 456.38 L286.40 458.32 L288.18 460.27 L289.96 462.20 L291.75 464.14 L293.54 466.07 L295.33 468.00 L297.12 469.93 L298.92 471.85 L300.72 473.77 L302.52 475.69 L304.33 477.60 L306.13 479.51 L307.94 481.42 L309.75 483.32 L311.57 485.22 L313.39 487.12 L315.20 489.01 L317.03 490.90 L318.85 492.79 L320.68 494.67 L322.50 496.55 L324.33 498.43 L326.16 500.30 L328.00 502.17 L329.83 504.04 L331.67 505.90 L333.51 507.76 L335.35 509.62 L337.19 511.48 L339.04 513.33 L340.88 515.18 L342.73 517.02 L344.58 518.86 L346.43 520.70 L348.28 522.54 L350.13 524.37 L351.98 526.20 L353.84 528.02 L355.70 529.85 L357.55 531.67 L359.41 533.48 L361.27 535.30 L363.13 537.11 L364.99 538.91 L366.85 540.72 L368.72 542.52 L370.58 544.32 L372.44 546.11 L374.31 547.90 L376.17 549.69 L378.04 551.48 L379.91 553.26 L381.77 555.04 L383.64 556.81 L385.51 558.59 L387.37 560.36 L389.24 562.13 L391.11 563.89 L392.98 565.65 L394.85 567.41 L419.23 567.69 L417.13 565.98 L415.04 564.27 L412.94 562.55 L410.85 560.82 L408.77 559.10 L406.69 557.36 L404.61 555.62 L402.54 553.88 L400.47 552.13 L398.40 550.38 L396.34 548.62 L394.29 546.85 L392.23 545.09 L390.18 543.31 L388.14 541.54 L386.10 539.76 L384.06 537.97 L382.03 536.18 L380.00 534.38 L377.97 532.58 L375.95 530.78 L373.93 528.97 L371.92 527.16 L369.91 525.34 L367.91 523.52 L365.90 521.69 L363.91 519.86 L361.91 518.02 L359.92 516.18 L357.94 514.34 L355.96 512.49 L353.98 510.63 L352.01 508.78 L350.04 506.91 L348.07 505.05 L346.11 503.17 L344.15 501.30 L342.20 499.42 L340.25 497.54 L338.30 495.65 L336.36 493.75 L334.42 491.86 L332.48 489.96 L330.55 488.05 L328.63 486.14 L326.71 484.23 L324.79 482.31 L322.87 480.39 L320.96 478.46 L319.05 476.53 L317.15 474.60 L315.25 472.66 L313.36 470.72 L311.47 468.77 L309.58 466.82 L307.70 464.86 L305.82 462.90 L303.94 460.94 L302.07 458.97 L300.20 457.00 L298.34 455.03 L296.48 453.05 L294.62 451.07 L292.77 449.08 L290.92 447.09 L289.08 445.10 L287.24 443.10 L285.40 441.10 L283.57 439.09 L281.74 437.08 L279.92 435.07 L278.10 433.05 L276.28 431.03 L274.47 429.00 L272.66 426.98 L270.85 424.94 L269.05 422.91 L267.25 420.87 L265.46 418.82 L263.67 416.78 L261.88 414.73 L260.10 412.67 L258.33 410.61 L256.55 408.55 L254.78 406.49 L253.01 404.42 L251.25 402.35 L249.49 400.27 L247.74 398.19 L245.99 396.11 L244.24 394.02 L242.50 391.93 L240.76 389.84 L239.02 387.74 L237.29 385.64 L235.56 383.54 L233.84 381.43 L232.12 379.32 L230.40 377.20 L228.69 375.09 L226.98 372.97 L225.28 370.84 L223.58 368.72 L221.88 366.58 L220.19 364.45 L218.50 362.31 L216.82 360.17 L215.14 358.03 L213.46 355.88 L211.79 353.73 L210.12 351.57 L208.46 349.42 L206.80 347.25 L205.15 345.09 L203.50 342.92 L201.86 340.74 L200.22 338.57 L198.59 336.39 L196.96 334.20 L195.33 332.01 L193.72 329.82 L192.11 327.63 L190.50 325.43 L188.90 323.22 L187.30 321.01 L185.72 318.80 L184.13 316.59 L182.56 314.37 L180.98 312.14 L179.42 309.91 L177.86 307.68 L176.31 305.44 L174.76 303.20 L173.22 300.96 L171.69 298.71 L170.16 296.45 L168.64 294.20 L167.13 291.93 L165.63 289.67 L164.13 287.39 L162.64 285.12 L161.15 282.84 L159.67 280.55 L158.20 278.26 L156.74 275.97 L155.29 273.67 L153.84 271.37 L152.40 269.06 L150.97 266.74 L149.55 264.43 L148.13 262.10 L146.72 259.78 L145.32 257.44 L143.93 255.11 L142.55 252.77 L141.17 250.42 L139.81 248.07 L138.45 245.71 L137.10 243.35 L135.76 240.98 L134.43 238.61 L133.11 236.24 L131.80 233.86 L130.49 231.47 L129.20 229.08 L127.92 226.69 L126.64 224.29 L125.38 221.88 L124.12 219.47 L122.88 217.06 L121.64 214.64 L120.41 212.21 L119.20 209.79 L117.99 207.35 L116.80 204.91 L115.62 202.47 L114.44 200.02 L113.28 197.57 L112.13 195.11 L110.99 192.65 L109.86 190.18 L108.74 187.71 L107.63 185.23 L106.53 182.75 L105.45 180.26 L104.37 177.77 L103.31 175.27 L102.26 172.77 L101.22 170.26 L100.19 167.75 L99.18 165.24 L98.18 162.72 L97.19 160.19 L96.21 157.66 L95.24 155.12 L94.29 152.58 L93.35 150.04 L92.42 147.49 L91.50 144.93 L90.60 142.37 L89.71 139.81 L88.83 137.24 L87.97 134.66 L87.12 132.08 L86.28 129.50 L85.46 126.91 L84.65 124.31 L83.86 121.71 L83.07 119.11 L82.31 116.50 L81.55 113.89 L80.81 111.27 L80.08 108.64 L79.37 106.02 L78.68 103.38 L77.99 100.74 L77.32 98.10 L76.67 95.45 L76.03 92.80 L75.41 90.14 L74.80 87.48 L74.21 84.81 L73.63 82.14 L73.06 79.46 L72.52 76.77 L71.98 74.09 L71.47 71.39 L70.97 68.70 L70.48 65.99 L70.01 63.29 L69.56 60.57 L69.12 57.86 L68.70 55.13 L68.29 52.41 L67.91 49.67 L67.53 46.94 L67.18 44.20 L66.84 41.45 L66.52 38.70 Z" fill="rgb(197,110,26)" fill-opacity="0.33" stroke="none"/>
<path d="M65.38 47.84 L65.78 50.49 L66.20 53.13 L66.63 55.77 L67.08 58.40 L67.53 61.03 L68.00 63.66 L68.48 66.28 L68.97 68.89 L69.48 71.50 L69.99 74.11 L70.52 76.71 L71.06 79.31 L71.61 81.91 L72.17 84.49 L72.74 87.08 L73.33 89.66 L73.92 92.24 L74.53 94.81 L75.15 97.38 L75.78 99.94 L76.42 102.50 L77.08 105.05 L77.74 107.60 L78.41 110.15 L79.10 112.69 L79.80 115.23 L80.51 117.76 L81.22 120.29 L81.95 122.81 L82.69 125.33 L83.45 127.85 L84.21 130.36 L84.98 132.87 L85.76 135.37 L86.56 137.87 L87.36 140.36 L88.18 142.85 L89.00 145.34 L89.84 147.82 L90.68 150.30 L91.54 152.77 L92.40 155.24 L93.28 157.71 L94.16 160.17 L95.06 162.62 L95.97 165.08 L96.88 167.52 L97.81 169.97 L98.74 172.41 L99.69 174.84 L100.64 177.28 L101.61 179.70 L102.58 182.13 L103.57 184.55 L104.56 186.96 L105.56 189.37 L106.57 191.78 L107.59 194.18 L108.63 196.58 L109.67 198.97 L110.71 201.36 L111.77 203.75 L112.84 206.13 L113.92 208.51 L115.00 210.88 L116.10 213.25 L117.20 215.62 L118.31 217.98 L119.43 220.34 L120.56 222.69 L121.70 225.04 L122.85 227.39 L124.00 229.73 L125.17 232.07 L126.34 234.40 L127.52 236.73 L128.71 239.06 L129.91 241.38 L131.11 243.70 L132.32 246.01 L133.55 248.32 L134.78 250.63 L136.02 252.93 L137.26 255.22 L138.52 257.52 L139.78 259.81 L141.05 262.09 L142.33 264.38 L143.61 266.65 L144.90 268.93 L146.21 271.20 L147.51 273.47 L148.83 275.73 L150.15 277.99 L151.48 280.24 L152.82 282.49 L154.17 284.74 L155.52 286.98 L156.88 289.22 L158.25 291.46 L159.62 293.69 L161.01 295.92 L162.39 298.14 L163.79 300.36 L165.19 302.58 L166.60 304.79 L168.02 307.00 L169.44 309.20 L170.87 311.40 L172.31 313.60 L173.75 315.79 L175.20 317.98 L176.66 320.17 L178.12 322.35 L179.59 324.53 L181.06 326.70 L182.55 328.87 L184.03 331.04 L185.53 333.20 L187.03 335.36 L188.54 337.52 L190.05 339.67 L191.57 341.82 L193.09 343.96 L194.62 346.10 L196.16 348.24 L197.70 350.37 L199.25 352.50 L200.80 354.63 L202.36 356.75 L203.93 358.87 L205.50 360.99 L207.07 363.10 L208.65 365.21 L210.24 367.31 L211.83 369.41 L213.43 371.51 L215.03 373.60 L216.64 375.69 L218.25 377.78 L219.87 379.86 L221.50 381.94 L223.12 384.01 L224.76 386.08 L226.39 388.15 L228.04 390.22 L229.68 392.28 L231.34 394.34 L232.99 396.39 L234.66 398.44 L236.32 400.49 L237.99 402.53 L239.67 404.57 L241.35 406.60 L243.03 408.64 L244.72 410.67 L246.41 412.69 L248.11 414.71 L249.81 416.73 L251.51 418.75 L253.22 420.76 L254.94 422.77 L256.65 424.77 L258.37 426.77 L260.10 428.77 L261.83 430.76 L263.56 432.75 L265.30 434.74 L267.04 436.73 L268.78 438.71 L270.53 440.68 L272.28 442.66 L274.03 444.63 L275.79 446.59 L277.55 448.56 L279.31 450.52 L281.08 452.47 L282.85 454.43 L284.62 456.38 L286.40 458.32 L288.18 460.27 L289.96 462.20 L291.75 464.14 L293.54 466.07 L295.33 468.00 L297.12 469.93 L298.92 471.85 L300.72 473.77 L302.52 475.69 L304.33 477.60 L306.13 479.51 L307.94 481.42 L309.75 483.32 L311.57 485.22 L313.39 487.12 L315.20 489.01 L317.03 490.90 L318.85 492.79 L320.68 494.67 L322.50 496.55 L324.33 498.43 L326.16 500.30 L328.00 502.17 L329.83 504.04 L331.67 505.90 L333.51 507.76 L335.35 509.62 L337.19 511.48 L339.04 513.33 L340.88 515.18 L342.73 517.02 L344.58 518.86 L346.43 520.70 L348.28 522.54 L350.13 524.37 L351.98 526.20 L353.84 528.02 L355.70 529.85 L357.55 531.67 L359.41 533.48 L361.27 535.30 L363.13 537.11 L364.99 538.91 L366.85 540.72 L368.72 542.52 L370.58 544.32 L372.44 546.11 L374.31 547.90 L376.17 549.69 L378.04 551.48 L379.91 553.26 L381.77 555.04 L383.64 556.81 L385.51 558.59 L387.37 560.36 L389.24 562.13 L391.11 563.89 L392.98 565.65 L394.85 567.41" fill="none" stroke="rgb(186,98,15)" stroke-width="1.75" stroke-dasharray="2.0 1.8"/>
<path d="M66.52 38.70 L66.84 41.45 L67.18 44.20 L67.53 46.94 L67.91 49.67 L68.29 52.41 L68.70 55.13 L69.12 57.86 L69.56 60.57 L70.01 63.29 L70.48 65.99 L70.97 68.70 L71.47 71.39 L71.98 74.09 L72.52 76.77 L73.06 79.46 L73.63 82.14 L74.21 84.81 L74.80 87.48 L75.41 90.14 L76.03 92.80 L76.67 95.45 L77.32 98.10 L77.99 100.74 L78.68 103.38 L79.37 106.02 L80.08 108.64 L80.81 111.27 L81.55 113.89 L82.31 116.50 L83.07 119.11 L83.86 121.71 L84.65 124.31 L85.46 126.91 L86.28 129.50 L87.12 132.08 L87.97 134.66 L88.83 137.24 L89.71 139.81 L90.60 142.37 L91.50 144.93 L92.42 147.49 L93.35 150.04 L94.29 152.58 L95.24 155.12 L96.21 157.66 L97.19 160.19 L98.18 162.72 L99.18 165.24 L100.19 167.75 L101.22 170.26 L102.26 172.77 L103.31 175.27 L104.37 177.77 L105.45 180.26 L106.53 182.75 L107.63 185.23 L108.74 187.71 L109.86 190.18 L110.99 192.65 L112.13 195.11 L113.28 197.57 L114.44 200.02 L115.62 202.47 L116.80 204.91 L117.99 207.35 L119.20 209.79 L120.41 212.21 L121.64 214.64 L122.88 217.06 L124.12 219.47 L125.38 221.88 L126.64 224.29 L127.92 226.69 L129.20 229.08 L130.49 231.47 L131.80 233.86 L133.11 236.24 L134.43 238.61 L135.76 240.98 L137.10 243.35 L138.45 245.71 L139.81 248.07 L141.17 250.42 L142.55 252.77 L143.93 255.11 L145.32 257.44 L146.72 259.78 L148.13 262.10 L149.55 264.43 L150.97 266.74 L152.40 269.06 L153.84 271.37 L155.29 273.67 L156.74 275.97 L158.20 278.26 L159.67 280.55 L161.15 282.84 L162.64 285.12 L164.13 287.39 L165.63 289.67 L167.13 291.93 L168.64 294.20 L170.16 296.45 L171.69 298.71 L173.22 300.96 L174.76 303.20 L176.31 305.44 L177.86 307.68 L179.42 309.91 L180.98 312.14 L182.56 314.37 L184.13 316.59 L185.72 318.80 L187.30 321.01 L188.90 323.22 L190.50 325.43 L192.11 327.63 L193.72 329.82 L195.33 332.01 L196.96 334.20 L198.59 336.39 L200.22 338.57 L201.86 340.74 L203.50 342.92 L205.15 345.09 L206.80 347.25 L208.46 349.42 L210.12 351.57 L211.79 353.73 L213.46 355.88 L215.14 358.03 L216.82 360.17 L218.50 362.31 L220.19 364.45 L221.88 366.58 L223.58 368.72 L225.28 370.84 L226.98 372.97 L228.69 375.09 L230.40 377.20 L232.12 379.32 L233.84 381.43 L235.56 383.54 L237.29 385.64 L239.02 387.74 L240.76 389.84 L242.50 391.93 L244.24 394.02 L245.99 396.11 L247.74 398.19 L249.49 400.27 L251.25 402.35 L253.01 404.42 L254.78 406.49 L256.55 408.55 L258.33 410.61 L260.10 412.67 L261.88 414.73 L263.67 416.78 L265.46 418.82 L267.25 420.87 L269.05 422.91 L270.85 424.94 L272.66 426.98 L274.47 429.00 L276.28 431.03 L278.10 433.05 L279.92 435.07 L281.74 437.08 L283.57 439.09 L285.40 441.10 L287.24 443.10 L289.08 445.10 L290.92 447.09 L292.77 449.08 L294.62 451.07 L296.48 453.05 L298.34 455.03 L300.20 457.00 L302.07 458.97 L303.94 460.94 L305.82 462.90 L307.70 464.86 L309.58 466.82 L311.47 468.77 L313.36 470.72 L315.25 472.66 L317.15 474.60 L319.05 476.53 L320.96 478.46 L322.87 480.39 L324.79 482.31 L326.71 484.23 L328.63 486.14 L330.55 488.05 L332.48 489.96 L334.42 491.86 L336.36 493.75 L338.30 495.65 L340.25 497.54 L342.20 499.42 L344.15 501.30 L346.11 503.17 L348.07 505.05 L350.04 506.91 L352.01 508.78 L353.98 510.63 L355.96 512.49 L357.94 514.34 L359.92 516.18 L361.91 518.02 L363.91 519.86 L365.90 521.69 L367.91 523.52 L369.91 525.34 L371.92 527.16 L373.93 528.97 L375.95 530.78 L377.97 532.58 L380.00 534.38 L382.03 536.18 L384.06 537.97 L386.10 539.76 L388.14 541.54 L390.18 543.31 L392.23 545.09 L394.29 546.85 L396.34 548.62 L398.40 550.38 L400.47 552.13 L402.54 553.88 L404.61 555.62 L406.69 557.36 L408.77 559.10 L410.85 560.82 L412.94 562.55 L415.04 564.27 L417.13 565.98 L419.23 567.69" fill="none" stroke="rgb(186,98,15)" stroke-width="1.75" stroke-dasharray="2.0 1.8"/>
<path d="M66.24 11.13 L66.58 14.44 L66.94 17.75 L67.33 21.04 L67.73 24.33 L68.16 27.60 L68.61 30.87 L69.08 34.13 L69.57 37.38 L70.09 40.62 L70.62 43.86 L71.18 47.08 L71.75 50.30 L72.35 53.50 L72.97 56.70 L73.60 59.89 L74.26 63.07 L74.94 66.25 L75.64 69.41 L76.36 72.56 L77.09 75.71 L77.85 78.85 L78.63 81.98 L79.42 85.10 L80.24 88.21 L81.07 91.32 L81.93 94.42 L82.80 97.50 L83.69 100.58 L84.60 103.65 L85.53 106.72 L86.48 109.77 L87.44 112.82 L88.43 115.86 L89.43 118.89 L90.45 121.91 L91.49 124.92 L92.54 127.93 L93.61 130.93 L94.70 133.92 L95.81 136.90 L96.94 139.88 L98.08 142.84 L99.24 145.80 L100.41 148.75 L101.60 151.69 L102.81 154.63 L104.04 157.55 L105.28 160.47 L106.54 163.39 L107.81 166.29 L109.10 169.19 L110.41 172.07 L111.73 174.95 L113.07 177.83 L114.42 180.69 L115.79 183.55 L117.18 186.40 L118.57 189.24 L119.99 192.08 L121.42 194.91 L122.86 197.73 L124.32 200.54 L125.79 203.35 L127.28 206.14 L128.78 208.93 L130.30 211.72 L131.83 214.49 L133.37 217.26 L134.93 220.03 L136.50 222.78 L138.09 225.53 L139.68 228.27 L141.30 231.00 L142.92 233.73 L144.56 236.45 L146.21 239.16 L147.87 241.86 L149.55 244.56 L151.24 247.25 L152.94 249.94 L154.66 252.61 L156.38 255.28 L158.12 257.95 L159.87 260.60 L161.63 263.25 L163.41 265.89 L165.19 268.53 L166.99 271.16 L168.80 273.78 L170.62 276.40 L172.45 279.01 L174.29 281.61 L176.15 284.21 L178.01 286.79 L179.89 289.38 L181.77 291.95 L183.67 294.52 L185.57 297.09 L187.49 299.64 L189.41 302.19 L191.35 304.74 L193.30 307.28 L195.25 309.81 L197.22 312.33 L199.19 314.85 L201.18 317.36 L203.17 319.87 L205.17 322.37 L207.18 324.86 L209.20 327.35 L211.23 329.83 L213.27 332.31 L215.31 334.77 L217.37 337.24 L219.43 339.69 L221.50 342.15 L223.58 344.59 L225.67 347.03 L227.76 349.46 L229.86 351.89 L231.97 354.31 L234.09 356.73 L236.21 359.14 L238.34 361.54 L240.48 363.94 L242.63 366.33 L244.78 368.72 L246.94 371.10 L249.10 373.47 L251.27 375.84 L253.45 378.21 L255.64 380.56 L257.83 382.92 L260.02 385.26 L262.22 387.60 L264.43 389.94 L266.64 392.27 L268.86 394.60 L271.09 396.92 L273.32 399.23 L275.55 401.54 L277.79 403.84 L280.04 406.14 L282.29 408.43 L284.54 410.71 L286.81 412.99 L289.07 415.26 L291.35 417.53 L293.63 419.79 L295.91 422.04 L298.21 424.28 L300.51 426.52 L302.81 428.75 L305.12 430.97 L307.44 433.18 L309.76 435.39 L312.09 437.59 L314.43 439.77 L316.78 441.96 L319.13 444.13 L321.48 446.29 L323.85 448.45 L326.22 450.59 L328.60 452.73 L330.99 454.86 L333.38 456.98 L335.78 459.08 L338.19 461.18 L340.60 463.27 L343.03 465.35 L345.46 467.42 L347.89 469.48 L350.34 471.52 L352.79 473.56 L355.26 475.59 L357.73 477.60 L360.20 479.61 L362.69 481.60 L365.18 483.58 L367.69 485.55 L370.20 487.51 L372.72 489.45 L375.25 491.39 L377.78 493.31 L380.33 495.22 L382.88 497.12 L385.45 499.00 L388.02 500.87 L390.60 502.73 L393.19 504.58 L395.79 506.41 L398.40 508.22 L401.01 510.03 L403.64 511.81 L406.28 513.58 L408.93 515.34 L411.59 517.08 L414.25 518.80 L416.93 520.50 L419.62 522.19 L422.32 523.85 L425.04 525.50 L427.76 527.13 L430.49 528.73 L433.24 530.32 L436.00 531.88 L438.76 533.42 L441.55 534.94 L444.34 536.44 L447.14 537.91 L449.96 539.36 L452.79 540.79 L455.64 542.19 L458.49 543.56 L461.36 544.91 L464.25 546.23 L467.14 547.52 L470.05 548.79 L472.98 550.03 L475.91 551.24 L478.87 552.42 L481.83 553.57 L484.81 554.69 L487.81 555.78 L490.82 556.84 L493.84 557.87 L496.88 558.86 L499.94 559.82 L503.01 560.75 L506.10 561.65 L509.20 562.51 L512.32 563.33 L515.45 564.13 L518.60 564.88 L521.77 565.60 L524.95 566.28 L528.15 566.92 L531.37 567.53 L534.60 568.10 L563.17 567.65 L559.82 567.17 L556.48 566.66 L553.16 566.10 L549.86 565.50 L546.58 564.86 L543.32 564.19 L540.07 563.47 L536.84 562.71 L533.62 561.91 L530.42 561.08 L527.24 560.21 L524.08 559.30 L520.93 558.35 L517.79 557.38 L514.68 556.36 L511.57 555.31 L508.49 554.23 L505.41 553.12 L502.36 551.97 L499.31 550.80 L496.28 549.59 L493.27 548.35 L490.27 547.08 L487.28 545.78 L484.31 544.46 L481.35 543.10 L478.40 541.72 L475.47 540.31 L472.55 538.88 L469.64 537.42 L466.75 535.94 L463.87 534.43 L461.00 532.90 L458.14 531.35 L455.29 529.77 L452.45 528.17 L449.63 526.55 L446.82 524.91 L444.02 523.25 L441.23 521.58 L438.45 519.88 L435.68 518.16 L432.92 516.43 L430.17 514.68 L427.43 512.92 L424.70 511.14 L421.98 509.34 L419.27 507.54 L416.56 505.71 L413.87 503.88 L411.19 502.03 L408.51 500.16 L405.84 498.29 L403.19 496.40 L400.54 494.50 L397.89 492.59 L395.26 490.66 L392.64 488.73 L390.02 486.78 L387.41 484.82 L384.81 482.84 L382.21 480.86 L379.63 478.87 L377.05 476.86 L374.47 474.85 L371.91 472.82 L369.35 470.78 L366.80 468.74 L364.26 466.68 L361.72 464.61 L359.19 462.54 L356.66 460.45 L354.15 458.36 L351.63 456.25 L349.13 454.14 L346.63 452.02 L344.14 449.89 L341.65 447.75 L339.17 445.60 L336.69 443.45 L334.22 441.28 L331.75 439.11 L329.29 436.94 L326.84 434.75 L324.39 432.56 L321.94 430.36 L319.50 428.15 L317.07 425.94 L314.63 423.72 L312.21 421.50 L309.78 419.26 L307.37 417.03 L304.95 414.78 L302.54 412.54 L300.14 410.28 L297.74 408.02 L295.34 405.75 L292.95 403.48 L290.57 401.20 L288.19 398.92 L285.81 396.62 L283.44 394.33 L281.08 392.02 L278.72 389.71 L276.37 387.40 L274.03 385.08 L271.69 382.75 L269.35 380.41 L267.03 378.07 L264.71 375.73 L262.39 373.37 L260.08 371.01 L257.78 368.65 L255.49 366.27 L253.21 363.89 L250.93 361.51 L248.66 359.11 L246.39 356.72 L244.14 354.31 L241.89 351.90 L239.65 349.48 L237.42 347.05 L235.20 344.62 L232.98 342.18 L230.77 339.74 L228.58 337.28 L226.39 334.82 L224.21 332.36 L222.03 329.88 L219.87 327.40 L217.72 324.92 L215.58 322.42 L213.44 319.92 L211.32 317.41 L209.20 314.90 L207.10 312.38 L205.00 309.85 L202.92 307.31 L200.84 304.77 L198.78 302.22 L196.73 299.66 L194.68 297.10 L192.65 294.52 L190.63 291.94 L188.62 289.36 L186.62 286.76 L184.63 284.16 L182.66 281.55 L180.69 278.94 L178.74 276.31 L176.80 273.68 L174.87 271.04 L172.96 268.39 L171.05 265.74 L169.16 263.08 L167.28 260.41 L165.41 257.73 L163.56 255.05 L161.72 252.36 L159.89 249.66 L158.07 246.95 L156.27 244.23 L154.48 241.51 L152.71 238.78 L150.95 236.04 L149.20 233.29 L147.46 230.54 L145.74 227.78 L144.04 225.00 L142.35 222.23 L140.67 219.44 L139.01 216.64 L137.36 213.84 L135.73 211.03 L134.11 208.21 L132.51 205.38 L130.92 202.55 L129.35 199.70 L127.79 196.85 L126.25 193.99 L124.72 191.12 L123.21 188.25 L121.72 185.36 L120.24 182.47 L118.78 179.57 L117.34 176.65 L115.91 173.74 L114.50 170.81 L113.10 167.87 L111.72 164.93 L110.36 161.97 L109.02 159.01 L107.69 156.04 L106.38 153.06 L105.09 150.08 L103.82 147.08 L102.56 144.07 L101.32 141.06 L100.10 138.04 L98.90 135.01 L97.71 131.96 L96.55 128.92 L95.40 125.86 L94.27 122.79 L93.16 119.71 L92.07 116.63 L91.00 113.53 L89.95 110.43 L88.92 107.32 L87.90 104.20 L86.91 101.07 L85.93 97.93 L84.98 94.78 L84.05 91.62 L83.13 88.45 L82.24 85.28 L81.36 82.09 L80.51 78.89 L79.68 75.69 L78.87 72.48 L78.08 69.25 L77.31 66.02 L76.56 62.78 L75.83 59.53 L75.12 56.26 L74.44 52.99 L73.78 49.71 L73.14 46.42 L72.52 43.12 L71.92 39.81 L71.34 36.50 L70.79 33.17 L70.26 29.83 L69.75 26.48 L69.27 23.12 L68.81 19.75 L68.37 16.38 L67.95 12.99 L67.56 9.59 Z" fill="rgb(197,110,26)" fill-opacity="0.33" stroke="none"/>
<path d="M66.24 11.13 L66.58 14.44 L66.94 17.75 L67.33 21.04 L67.73 24.33 L68.16 27.60 L68.61 30.87 L69.08 34.13 L69.57 37.38 L70.09 40.62 L70.62 43.86 L71.18 47.08 L71.75 50.30 L72.35 53.50 L72.97 56.70 L73.60 59.89 L74.26 63.07 L74.94 66.25 L75.64 69.41 L76.36 72.56 L77.09 75.71 L77.85 78.85 L78.63 81.98 L79.42 85.10 L80.24 88.21 L81.07 91.32 L81.93 94.42 L82.80 97.50 L83.69 100.58 L84.60 103.65 L85.53 106.72 L86.48 109.77 L87.44 112.82 L88.43 115.86 L89.43 118.89 L90.45 121.91 L91.49 124.92 L92.54 127.93 L93.61 130.93 L94.70 133.92 L95.81 136.90 L96.94 139.88 L98.08 142.84 L99.24 145.80 L100.41 148.75 L101.60 151.69 L102.81 154.63 L104.04 157.55 L105.28 160.47 L106.54 163.39 L107.81 166.29 L109.10 169.19 L110.41 172.07 L111.73 174.95 L113.07 177.83 L114.42 180.69 L115.79 183.55 L117.18 186.40 L118.57 189.24 L119.99 192.08 L121.42 194.91 L122.86 197.73 L124.32 200.54 L125.79 203.35 L127.28 206.14 L128.78 208.93 L130.30 211.72 L131.83 214.49 L133.37 217.26 L134.93 220.03 L136.50 222.78 L138.09 225.53 L139.68 228.27 L141.30 231.00 L142.92 233.73 L144.56 236.45 L146.21 239.16 L147.87 241.86 L149.55 244.56 L151.24 247.25 L152.94 249.94 L154.66 252.61 L156.38 255.28 L158.12 257.95 L159.87 260.60 L161.63 263.25 L163.41 265.89 L165.19 268.53 L166.99 271.16 L168.80 273.78 L170.62 276.40 L172.45 279.01 L174.29 281.61 L176.15 284.21 L178.01 286.79 L179.89 289.38 L181.77 291.95 L183.67 294.52 L185.57 297.09 L187.49 299.64 L189.41 302.19 L191.35 304.74 L193.30 307.28 L195.25 309.81 L197.22 312.33 L199.19 314.85 L201.18 317.36 L203.17 319.87 L205.17 322.37 L207.18 324.86 L209.20 327.35 L211.23 329.83 L213.27 332.31 L215.31 334.77 L217.37 337.24 L219.43 339.69 L221.50 342.15 L223.58 344.59 L225.67 347.03 L227.76 349.46 L229.86 351.89 L231.97 354.31 L234.09 356.73 L236.21 359.14 L238.34 361.54 L240.48 363.94 L242.63 366.33 L244.78 368.72 L246.94 371.10 L249.10 373.47 L251.27 375.84 L253.45 378.21 L255.64 380.56 L257.83 382.92 L260.02 385.26 L262.22 387.60 L264.43 389.94 L266.64 392.27 L268.86 394.60 L271.09 396.92 L273.32 399.23 L275.55 401.54 L277.79 403.84 L280.04 406.14 L282.29 408.43 L284.54 410.71 L286.81 412.99 L289.07 415.26 L291.35 417.53 L293.63 419.79 L295.91 422.04 L298.21 424.28 L300.51 426.52 L302.81 428.75 L305.12 430.97 L307.44 433.18 L309.76 435.39 L312.09 437.59 L314.43 439.77 L316.78 441.96 L319.13 444.13 L321.48 446.29 L323.85 448.45 L326.22 450.59 L328.60 452.73 L330.99 454.86 L333.38 456.98 L335.78 459.08 L338.19 461.18 L340.60 463.27 L343.03 465.35 L345.46 467.42 L347.89 469.48 L350.34 471.52 L352.79 473.56 L355.26 475.59 L357.73 477.60 L360.20 479.61 L362.69 481.60 L365.18 483.58 L367.69 485.55 L370.20 487.51 L372.72 489.45 L375.25 491.39 L377.78 493.31 L380.33 495.22 L382.88 497.12 L385.45 499.00 L388.02 500.87 L390.60 502.73 L393.19 504.58 L395.79 506.41 L398.40 508.22 L401.01 510.03 L403.64 511.81 L406.28 513.58 L408.93 515.34 L411.59 517.08 L414.25 518.80 L416.93 520.50 L419.62 522.19 L422.32 523.85 L425.04 525.50 L427.76 527.13 L430.49 528.73 L433.24 530.32 L436.00 531.88 L438.76 533.42 L441.55 534.94 L444.34 536.44 L447.14 537.91 L449.96 539.36 L452.79 540.79 L455.64 542.19 L458.49 543.56 L461.36 544.91 L464.25 546.23 L467.14 547.52 L470.05 548.79 L472.98 550.03 L475.91 551.24 L478.87 552.42 L481.83 553.57 L484.81 554.69 L487.81 555.78 L490.82 556.84 L493.84 557.87 L496.88 558.86 L499.94 559.82 L503.01 560.75 L506.10 561.65 L509.20 562.51 L512.32 563.33 L515.45 564.13 L518.60 564.88 L521.77 565.60 L524.95 566.28 L528.15 566.92 L531.37 567.53 L534.60 568.10" fill="none" stroke="rgb(186,98,15)" stroke-width="1.75"/>
<path d="M67.56 9.59 L67.95 12.99 L68.37 16.38 L68.81 19.75 L69.27 23.12 L69.75 26.48 L70.26 29.83 L70.79 33.17 L71.34 36.50 L71.92 39.81 L72.52 43.12 L73.14 46.42 L73.78 49.71 L74.44 52.99 L75.12 56.26 L75.83 59.53 L76.56 62.78 L77.31 66.02 L78.08 69.25 L78.87 72.48 L79.68 75.69 L80.51 78.89 L81.36 82.09 L82.24 85.28 L83.13 88.45 L84.05 91.62 L84.98 94.78 L85.93 97.93 L86.91 101.07 L87.90 104.20 L88.92 107.32 L89.95 110.43 L91.00 113.53 L92.07 116.63 L93.16 119.71 L94.27 122.79 L95.40 125.86 L96.55 128.92 L97.71 131.96 L98.90 135.01 L100.10 138.04 L101.32 141.06 L102.56 144.07 L103.82 147.08 L105.09 150.08 L106.38 153.06 L107.69 156.04 L109.02 159.01 L110.36 161.97 L111.72 164.93 L113.10 167.87 L114.50 170.81 L115.91 173.74 L117.34 176.65 L118.78 179.57 L120.24 182.47 L121.72 185.36 L123.21 188.25 L124.72 191.12 L126.25 193.99 L127.79 196.85 L129.35 199.70 L130.92 202.55 L132.51 205.38 L134.11 208.21 L135.73 211.03 L137.36 213.84 L139.01 216.64 L140.67 219.44 L142.35 222.23 L144.04 225.00 L145.74 227.78 L147.46 230.54 L149.20 233.29 L150.95 236.04 L152.71 238.78 L154.48 241.51 L156.27 244.23 L158.07 246.95 L159.89 249.66 L161.72 252.36 L163.56 255.05 L165.41 257.73 L167.28 260.41 L169.16 263.08 L171.05 265.74 L172.96 268.39 L174.87 271.04 L176.80 273.68 L178.74 276.31 L180.69 278.94 L182.66 281.55 L184.63 284.16 L186.62 286.76 L188.62 289.36 L190.63 291.94 L192.65 294.52 L194.68 297.10 L196.73 299.66 L198.78 302.22 L200.84 304.77 L202.92 307.31 L205.00 309.85 L207.10 312.38 L209.20 314.90 L211.32 317.41 L213.44 319.92 L215.58 322.42 L217.72 324.92 L219.87 327.40 L222.03 329.88 L224.21 332.36 L226.39 334.82 L228.58 337.28 L230.77 339.74 L232.98 342.18 L235.20 344.62 L237.42 347.05 L239.65 349.48 L241.89 351.90 L244.14 354.31 L246.39 356.72 L248.66 359.11 L250.93 361.51 L253.21 363.89 L255.49 366.27 L257.78 368.65 L260.08 371.01 L262.39 373.37 L264.71 375.73 L267.03 378.07 L269.35 380.41 L271.69 382.75 L274.03 385.08 L276.37 387.40 L278.72 389.71 L281.08 392.02 L283.44 394.33 L285.81 396.62 L288.19 398.92 L290.57 401.20 L292.95 403.48 L295.34 405.75 L297.74 408.02 L300.14 410.28 L302.54 412.54 L304.95 414.78 L307.37 417.03 L309.78 419.26 L312.21 421.50 L314.63 423.72 L317.07 425.94 L319.50 428.15 L321.94 430.36 L324.39 432.56 L326.84 434.75 L329.29 436.94 L331.75 439.11 L334.22 441.28 L336.69 443.45 L339.17 445.60 L341.65 447.75 L344.14 449.89 L346.63 452.02 L349.13 454.14 L351.63 456.25 L354.15 458.36 L356.66 460.45 L359.19 462.54 L361.72 464.61 L364.26 466.68 L366.80 468.74 L369.35 470.78 L371.91 472.82 L374.47 474.85 L377.05 476.86 L379.63 478.87 L382.21 480.86 L384.81 482.84 L387.41 484.82 L390.02 486.78 L392.64 488.73 L395.26 490.66 L397.89 492.59 L400.54 494.50 L403.19 496.40 L405.84 498.29 L408.51 500.16 L411.19 502.03 L413.87 503.88 L416.56 505.71 L419.27 507.54 L421.98 509.34 L424.70 511.14 L427.43 512.92 L430.17 514.68 L432.92 516.43 L435.68 518.16 L438.45 519.88 L441.23 521.58 L444.02 523.25 L446.82 524.91 L449.63 526.55 L452.45 528.17 L455.29 529.77 L458.14 531.35 L461.00 532.90 L463.87 534.43 L466.75 535.94 L469.64 537.42 L472.55 538.88 L475.47 540.31 L478.40 541.72 L481.35 543.10 L484.31 544.46 L487.28 545.78 L490.27 547.08 L493.27 548.35 L496.28 549.59 L499.31 550.80 L502.36 551.97 L505.41 553.12 L508.49 554.23 L511.57 555.31 L514.68 556.36 L517.79 557.38 L520.93 558.35 L524.08 559.30 L527.24 560.21 L530.42 561.08 L533.62 561.91 L536.84 562.71 L540.07 563.47 L543.32 564.19 L546.58 564.86 L549.86 565.50 L553.16 566.10 L556.48 566.66 L559.82 567.17 L563.17 567.65" fill="none" stroke="rgb(186,98,15)" stroke-width="1.75"/>
<path d="M70.53 10.13 L71.13 13.53 L71.75 16.92 L72.40 20.31 L73.06 23.69 L73.75 27.06 L74.47 30.43 L75.20 33.79 L75.96 37.14 L76.75 40.48 L77.55 43.82 L78.38 47.15 L79.23 50.48 L80.10 53.79 L80.99 57.10 L81.91 60.40 L82.84 63.70 L83.80 66.98 L84.78 70.26 L85.78 73.53 L86.81 76.80 L87.85 80.05 L88.91 83.30 L90.00 86.54 L91.11 89.77 L92.23 92.99 L93.38 96.21 L94.55 99.42 L95.74 102.61 L96.95 105.80 L98.18 108.99 L99.43 112.16 L100.70 115.32 L101.99 118.48 L103.29 121.63 L104.62 124.77 L105.97 127.90 L107.34 131.02 L108.72 134.13 L110.13 137.23 L111.55 140.33 L112.99 143.41 L114.46 146.49 L115.94 149.56 L117.43 152.61 L118.95 155.66 L120.49 158.70 L122.04 161.73 L123.61 164.75 L125.20 167.76 L126.81 170.76 L128.43 173.75 L130.07 176.73 L131.73 179.70 L133.41 182.66 L135.10 185.62 L136.81 188.56 L138.54 191.49 L140.29 194.41 L142.05 197.32 L143.83 200.22 L145.62 203.11 L147.43 205.99 L149.26 208.86 L151.10 211.72 L152.96 214.56 L154.84 217.40 L156.73 220.23 L158.63 223.04 L160.56 225.85 L162.49 228.64 L164.45 231.43 L166.41 234.20 L168.40 236.96 L170.39 239.71 L172.41 242.45 L174.43 245.17 L176.48 247.89 L178.53 250.59 L180.60 253.28 L182.69 255.97 L184.79 258.64 L186.90 261.29 L189.03 263.94 L191.17 266.58 L193.32 269.20 L195.49 271.81 L197.67 274.41 L199.86 277.01 L202.07 279.59 L204.29 282.16 L206.52 284.72 L208.76 287.26 L211.02 289.80 L213.28 292.33 L215.56 294.85 L217.85 297.36 L220.16 299.86 L222.47 302.35 L224.80 304.82 L227.13 307.29 L229.48 309.75 L231.84 312.20 L234.20 314.64 L236.58 317.08 L238.97 319.50 L241.37 321.91 L243.78 324.32 L246.19 326.72 L248.62 329.10 L251.06 331.48 L253.51 333.85 L255.96 336.22 L258.42 338.57 L260.90 340.92 L263.38 343.25 L265.87 345.58 L268.37 347.91 L270.87 350.22 L273.39 352.53 L275.91 354.83 L278.44 357.12 L280.97 359.40 L283.52 361.68 L286.07 363.95 L288.62 366.22 L291.19 368.47 L293.76 370.72 L296.34 372.97 L298.92 375.20 L301.51 377.44 L304.11 379.66 L306.71 381.88 L309.32 384.09 L311.93 386.29 L314.55 388.49 L317.18 390.68 L319.81 392.86 L322.45 395.04 L325.09 397.21 L327.74 399.37 L330.40 401.53 L333.06 403.67 L335.73 405.81 L338.40 407.95 L341.08 410.07 L343.77 412.19 L346.46 414.30 L349.16 416.40 L351.87 418.49 L354.58 420.57 L357.30 422.65 L360.02 424.72 L362.75 426.78 L365.48 428.83 L368.23 430.87 L370.97 432.90 L373.73 434.92 L376.49 436.94 L379.26 438.95 L382.03 440.94 L384.81 442.93 L387.59 444.91 L390.38 446.88 L393.18 448.83 L395.99 450.78 L398.80 452.72 L401.61 454.65 L404.43 456.57 L407.26 458.48 L410.10 460.38 L412.94 462.27 L415.79 464.15 L418.64 466.02 L421.50 467.88 L424.37 469.72 L427.24 471.56 L430.12 473.39 L433.00 475.20 L435.90 477.01 L438.79 478.80 L441.70 480.58 L444.61 482.35 L447.53 484.11 L450.45 485.86 L453.38 487.59 L456.31 489.32 L459.26 491.03 L462.20 492.73 L465.16 494.42 L468.12 496.09 L471.09 497.76 L474.06 499.41 L477.04 501.05 L480.03 502.68 L483.02 504.29 L486.02 505.89 L489.03 507.48 L492.04 509.06 L495.06 510.62 L498.09 512.17 L501.12 513.71 L504.16 515.23 L507.20 516.75 L510.26 518.24 L513.31 519.73 L516.38 521.20 L519.45 522.65 L522.53 524.10 L525.61 525.53 L528.70 526.94 L531.80 528.34 L534.90 529.73 L538.01 531.10 L541.13 532.46 L544.25 533.80 L547.38 535.13 L550.52 536.45 L553.66 537.75 L556.81 539.03 L559.96 540.30 L563.13 541.56 L566.30 542.80 L569.47 544.02 L572.65 545.23 L575.84 546.42 L579.04 547.60 L582.24 548.76 L585.45 549.91 L588.66 551.04 L591.89 552.16 L595.11 553.26 L598.35 554.34 L601.59 555.41 L604.84 556.46 L608.09 557.49 L611.36 558.51 L614.63 559.51 L617.90 560.50 L621.18 561.46 L621.03 551.51 L617.88 550.35 L614.75 549.17 L611.61 547.99 L608.48 546.79 L605.36 545.59 L602.24 544.37 L599.12 543.15 L596.01 541.91 L592.90 540.66 L589.80 539.41 L586.70 538.14 L583.60 536.87 L580.51 535.58 L577.43 534.28 L574.34 532.98 L571.27 531.66 L568.19 530.34 L565.12 529.00 L562.06 527.65 L559.00 526.30 L555.94 524.93 L552.89 523.56 L549.85 522.17 L546.80 520.77 L543.77 519.37 L540.73 517.95 L537.70 516.53 L534.68 515.10 L531.66 513.65 L528.65 512.20 L525.63 510.73 L522.63 509.26 L519.63 507.78 L516.63 506.29 L513.64 504.78 L510.65 503.27 L507.67 501.75 L504.69 500.22 L501.72 498.68 L498.75 497.13 L495.79 495.57 L492.83 494.00 L489.87 492.43 L486.92 490.84 L483.98 489.24 L481.04 487.64 L478.11 486.02 L475.18 484.40 L472.25 482.76 L469.33 481.12 L466.42 479.47 L463.50 477.81 L460.60 476.14 L457.70 474.46 L454.80 472.77 L451.91 471.07 L449.03 469.36 L446.15 467.65 L443.27 465.92 L440.40 464.19 L437.54 462.44 L434.68 460.69 L431.82 458.93 L428.97 457.16 L426.13 455.38 L423.29 453.59 L420.45 451.79 L417.62 449.99 L414.80 448.17 L411.98 446.35 L409.16 444.52 L406.36 442.68 L403.55 440.83 L400.76 438.97 L397.96 437.10 L395.17 435.23 L392.39 433.34 L389.62 431.45 L386.84 429.55 L384.08 427.63 L381.32 425.72 L378.56 423.79 L375.81 421.85 L373.07 419.91 L370.33 417.95 L367.59 415.99 L364.87 414.02 L362.14 412.04 L359.43 410.06 L356.71 408.06 L354.01 406.06 L351.31 404.05 L348.61 402.03 L345.92 400.00 L343.24 397.96 L340.56 395.91 L337.89 393.86 L335.22 391.80 L332.56 389.73 L329.90 387.65 L327.25 385.57 L324.61 383.47 L321.97 381.37 L319.34 379.26 L316.71 377.14 L314.09 375.01 L311.48 372.88 L308.87 370.73 L306.27 368.58 L303.68 366.42 L301.09 364.25 L298.51 362.08 L295.94 359.89 L293.38 357.70 L290.82 355.49 L288.27 353.28 L285.73 351.06 L283.19 348.84 L280.67 346.60 L278.15 344.36 L275.64 342.10 L273.14 339.84 L270.64 337.57 L268.16 335.29 L265.68 333.00 L263.21 330.71 L260.75 328.40 L258.30 326.09 L255.86 323.76 L253.43 321.43 L251.01 319.09 L248.60 316.74 L246.20 314.39 L243.81 312.02 L241.42 309.64 L239.05 307.26 L236.69 304.87 L234.34 302.46 L232.00 300.05 L229.67 297.63 L227.35 295.20 L225.04 292.76 L222.74 290.32 L220.45 287.86 L218.18 285.39 L215.91 282.92 L213.66 280.43 L211.42 277.94 L209.19 275.44 L206.97 272.93 L204.76 270.41 L202.57 267.88 L200.39 265.34 L198.22 262.79 L196.06 260.23 L193.92 257.66 L191.79 255.08 L189.67 252.50 L187.56 249.90 L185.47 247.30 L183.39 244.68 L181.33 242.06 L179.28 239.43 L177.24 236.78 L175.21 234.13 L173.20 231.47 L171.21 228.80 L169.22 226.12 L167.26 223.42 L165.30 220.72 L163.36 218.01 L161.44 215.29 L159.53 212.56 L157.63 209.82 L155.75 207.07 L153.89 204.32 L152.04 201.55 L150.21 198.77 L148.39 195.98 L146.59 193.18 L144.80 190.37 L143.03 187.55 L141.27 184.73 L139.53 181.89 L137.81 179.04 L136.11 176.18 L134.42 173.31 L132.74 170.43 L131.09 167.55 L129.45 164.65 L127.83 161.74 L126.22 158.82 L124.63 155.89 L123.06 152.95 L121.51 150.00 L119.98 147.04 L118.46 144.07 L116.96 141.09 L115.48 138.10 L114.02 135.10 L112.57 132.09 L111.15 129.07 L109.74 126.04 L108.35 122.99 L106.98 119.94 L105.63 116.88 L104.30 113.80 L102.99 110.72 L101.69 107.62 L100.42 104.52 L99.17 101.40 L97.93 98.28 L96.72 95.14 L95.52 91.99 L94.35 88.83 L93.20 85.66 L92.06 82.48 L90.95 79.29 L89.86 76.09 L88.79 72.88 L87.73 69.66 L86.70 66.42 L85.70 63.18 L84.71 59.92 L83.74 56.66 L82.80 53.38 L81.88 50.09 L80.97 46.79 L80.09 43.48 L79.24 40.16 L78.40 36.83 L77.59 33.49 L76.80 30.13 L76.03 26.77 L75.29 23.39 L74.56 20.00 L73.86 16.60 L73.19 13.19 L72.53 9.77 Z" fill="rgb(197,110,26)" fill-opacity="0.33" stroke="none"/>
<path d="M70.53 10.13 L71.13 13.53 L71.75 16.92 L72.40 20.31 L73.06 23.69 L73.75 27.06 L74.47 30.43 L75.20 33.79 L75.96 37.14 L76.75 40.48 L77.55 43.82 L78.38 47.15 L79.23 50.48 L80.10 53.79 L80.99 57.10 L81.91 60.40 L82.84 63.70 L83.80 66.98 L84.78 70.26 L85.78 73.53 L86.81 76.80 L87.85 80.05 L88.91 83.30 L90.00 86.54 L91.11 89.77 L92.23 92.99 L93.38 96.21 L94.55 99.42 L95.74 102.61 L96.95 105.80 L98.18 108.99 L99.43 112.16 L100.70 115.32 L101.99 118.48 L103.29 121.63 L104.62 124.77 L105.97 127.90 L107.34 131.02 L108.72 134.13 L110.13 137.23 L111.55 140.33 L112.99 143.41 L114.46 146.49 L115.94 149.56 L117.43 152.61 L118.95 155.66 L120.49 158.70 L122.04 161.73 L123.61 164.75 L125.20 167.76 L126.81 170.76 L128.43 173.75 L130.07 176.73 L131.73 179.70 L133.41 182.66 L135.10 185.62 L136.81 188.56 L138.54 191.49 L140.29 194.41 L142.05 197.32 L143.83 200.22 L145.62 203.11 L147.43 205.99 L149.26 208.86 L151.10 211.72 L152.96 214.56 L154.84 217.40 L156.73 220.23 L158.63 223.04 L160.56 225.85 L162.49 228.64 L164.45 231.43 L166.41 234.20 L168.40 236.96 L170.39 239.71 L172.41 242.45 L174.43 245.17 L176.48 247.89 L178.53 250.59 L180.60 253.28 L182.69 255.97 L184.79 258.64 L186.90 261.29 L189.03 263.94 L191.17 266.58 L193.32 269.20 L195.49 271.81 L197.67 274.41 L199.86 277.01 L202.07 279.59 L204.29 282.16 L206.52 284.72 L208.76 287.26 L211.02 289.80 L213.28 292.33 L215.56 294.85 L217.85 297.36 L220.16 299.86 L222.47 302.35 L224.80 304.82 L227.13 307.29 L229.48 309.75 L231.84 312.20 L234.20 314.64 L236.58 317.08 L238.97 319.50 L241.37 321.91 L243.78 324.32 L246.19 326.72 L248.62 329.10 L251.06 331.48 L253.51 333.85 L255.96 336.22 L258.42 338.57 L260.90 340.92 L263.38 343.25 L265.87 345.58 L268.37 347.91 L270.87 350.22 L273.39 352.53 L275.91 354.83 L278.44 357.12 L280.97 359.40 L283.52 361.68 L286.07 363.95 L288.62 366.22 L291.19 368.47 L293.76 370.72 L296.34 372.97 L298.92 375.20 L301.51 377.44 L304.11 379.66 L306.71 381.88 L309.32 384.09 L311.93 386.29 L314.55 388.49 L317.18 390.68 L319.81 392.86 L322.45 395.04 L325.09 397.21 L327.74 399.37 L330.40 401.53 L333.06 403.67 L335.73 405.81 L338.40 407.95 L341.08 410.07 L343.77 412.19 L346.46 414.30 L349.16 416.40 L351.87 418.49 L354.58 420.57 L357.30 422.65 L360.02 424.72 L362.75 426.78 L365.48 428.83 L368.23 430.87 L370.97 432.90 L373.73 434.92 L376.49 436.94 L379.26 438.95 L382.03 440.94 L384.81 442.93 L387.59 444.91 L390.38 446.88 L393.18 448.83 L395.99 450.78 L398.80 452.72 L401.61 454.65 L404.43 456.57 L407.26 458.48 L410.10 460.38 L412.94 462.27 L415.79 464.15 L418.64 466.02 L421.50 467.88 L424.37 469.72 L427.24 471.56 L430.12 473.39 L433.00 475.20 L435.90 477.01 L438.79 478.80 L441.70 480.58 L444.61 482.35 L447.53 484.11 L450.45 485.86 L453.38 487.59 L456.31 489.32 L459.26 491.03 L462.20 492.73 L465.16 494.42 L468.12 496.09 L471.09 497.76 L474.06 499.41 L477.04 501.05 L480.03 502.68 L483.02 504.29 L486.02 505.89 L489.03 507.48 L492.04 509.06 L495.06 510.62 L498.09 512.17 L501.12 513.71 L504.16 515.23 L507.20 516.75 L510.26 518.24 L513.31 519.73 L516.38 521.20 L519.45 522.65 L522.53 524.10 L525.61 525.53 L528.70 526.94 L531.80 528.34 L534.90 529.73 L538.01 531.10 L541.13 532.46 L544.25 533.80 L547.38 535.13 L550.52 536.45 L553.66 537.75 L556.81 539.03 L559.96 540.30 L563.13 541.56 L566.30 542.80 L569.47 544.02 L572.65 545.23 L575.84 546.42 L579.04 547.60 L582.24 548.76 L585.45 549.91 L588.66 551.04 L591.89 552.16 L595.11 553.26 L598.35 554.34 L601.59 555.41 L604.84 556.46 L608.09 557.49 L611.36 558.51 L614.63 559.51 L617.90 560.50 L621.18 561.46" fill="none" stroke="rgb(186,98,15)" stroke-width="1.75" stroke-dasharray="5.5 2.1"/>
<path d="M72.53 9.77 L73.19 13.19 L73.86 16.60 L74.56 20.00 L75.29 23.39 L76.03 26.77 L76.80 30.13 L77.59 33.49 L78.40 36.83 L79.24 40.16 L80.09 43.48 L80.97 46.79 L81.88 50.09 L82.80 53.38 L83.74 56.66 L84.71 59.92 L85.70 63.18 L86.70 66.42 L87.73 69.66 L88.79 72.88 L89.86 76.09 L90.95 79.29 L92.06 82.48 L93.20 85.66 L94.35 88.83 L95.52 91.99 L96.72 95.14 L97.93 98.28 L99.17 101.40 L100.42 104.52 L101.69 107.62 L102.99 110.72 L104.30 113.80 L105.63 116.88 L106.98 119.94 L108.35 122.99 L109.74 126.04 L111.15 129.07 L112.57 132.09 L114.02 135.10 L115.48 138.10 L116.96 141.09 L118.46 144.07 L119.98 147.04 L121.51 150.00 L123.06 152.95 L124.63 155.89 L126.22 158.82 L127.83 161.74 L129.45 164.65 L131.09 167.55 L132.74 170.43 L134.42 173.31 L136.11 176.18 L137.81 179.04 L139.53 181.89 L141.27 184.73 L143.03 187.55 L144.80 190.37 L146.59 193.18 L148.39 195.98 L150.21 198.77 L152.04 201.55 L153.89 204.32 L155.75 207.07 L157.63 209.82 L159.53 212.56 L161.44 215.29 L163.36 218.01 L165.30 220.72 L167.26 223.42 L169.22 226.12 L171.21 228.80 L173.20 231.47 L175.21 234.13 L177.24 236.78 L179.28 239.43 L181.33 242.06 L183.39 244.68 L185.47 247.30 L187.56 249.90 L189.67 252.50 L191.79 255.08 L193.92 257.66 L196.06 260.23 L198.22 262.79 L200.39 265.34 L202.57 267.88 L204.76 270.41 L206.97 272.93 L209.19 275.44 L211.42 277.94 L213.66 280.43 L215.91 282.92 L218.18 285.39 L220.45 287.86 L222.74 290.32 L225.04 292.76 L227.35 295.20 L229.67 297.63 L232.00 300.05 L234.34 302.46 L236.69 304.87 L239.05 307.26 L241.42 309.64 L243.81 312.02 L246.20 314.39 L248.60 316.74 L251.01 319.09 L253.43 321.43 L255.86 323.76 L258.30 326.09 L260.75 328.40 L263.21 330.71 L265.68 333.00 L268.16 335.29 L270.64 337.57 L273.14 339.84 L275.64 342.10 L278.15 344.36 L280.67 346.60 L283.19 348.84 L285.73 351.06 L288.27 353.28 L290.82 355.49 L293.38 357.70 L295.94 359.89 L298.51 362.08 L301.09 364.25 L303.68 366.42 L306.27 368.58 L308.87 370.73 L311.48 372.88 L314.09 375.01 L316.71 377.14 L319.34 379.26 L321.97 381.37 L324.61 383.47 L327.25 385.57 L329.90 387.65 L332.56 389.73 L335.22 391.80 L337.89 393.86 L340.56 395.91 L343.24 397.96 L345.92 400.00 L348.61 402.03 L351.31 404.05 L354.01 406.06 L356.71 408.06 L359.43 410.06 L362.14 412.04 L364.87 414.02 L367.59 415.99 L370.33 417.95 L373.07 419.91 L375.81 421.85 L378.56 423.79 L381.32 425.72 L384.08 427.63 L386.84 429.55 L389.62 431.45 L392.39 433.34 L395.17 435.23 L397.96 437.10 L400.76 438.97 L403.55 440.83 L406.36 442.68 L409.16 444.52 L411.98 446.35 L414.80 448.17 L417.62 449.99 L420.45 451.79 L423.29 453.59 L426.13 455.38 L428.97 457.16 L431.82 458.93 L434.68 460.69 L437.54 462.44 L440.40 464.19 L443.27 465.92 L446.15 467.65 L449.03 469.36 L451.91 471.07 L454.80 472.77 L457.70 474.46 L460.60 476.14 L463.50 477.81 L466.42 479.47 L469.33 481.12 L472.25 482.76 L475.18 484.40 L478.11 486.02 L481.04 487.64 L483.98 489.24 L486.92 490.84 L489.87 492.43 L492.83 494.00 L495.79 495.57 L498.75 497.13 L501.72 498.68 L504.69 500.22 L507.67 501.75 L510.65 503.27 L513.64 504.78 L516.63 506.29 L519.63 507.78 L522.63 509.26 L525.63 510.73 L528.65 512.20 L531.66 513.65 L534.68 515.10 L537.70 516.53 L540.73 517.95 L543.77 519.37 L546.80 520.77 L549.85 522.17 L552.89 523.56 L555.94 524.93 L559.00 526.30 L562.06 527.65 L565.12 529.00 L568.19 530.34 L571.27 531.66 L574.34 532.98 L577.43 534.28 L580.51 535.58 L583.60 536.87 L586.70 538.14 L589.80 539.41 L592.90 540.66 L596.01 541.91 L599.12 543.15 L602.24 544.37 L605.36 545.59 L608.48 546.79 L611.61 547.99 L614.75 549.17 L617.88 550.35 L621.03 551.51" fill="none" stroke="rgb(186,98,15)" stroke-width="1.75" stroke-dasharray="5.5 2.1"/>
<path d="M65.70 474.90 L66.26 476.29 L66.85 477.66 L67.46 479.02 L68.08 480.36 L68.73 481.69 L69.39 482.99 L70.08 484.28 L70.78 485.55 L71.50 486.80 L72.23 488.04 L72.99 489.26 L73.76 490.46 L74.54 491.64 L75.34 492.80 L76.16 493.94 L76.99 495.07 L77.83 496.17 L78.68 497.26 L79.55 498.33 L80.43 499.37 L81.32 500.40 L82.23 501.41 L83.14 502.40 L84.07 503.37 L85.00 504.32 L85.94 505.24 L86.89 506.15 L87.85 507.04 L88.84 507.90 L89.87 508.76 L90.93 509.59 L92.03 510.41 L93.15 511.21 L94.31 511.99 L95.49 512.76 L96.69 513.51 L97.91 514.25 L99.14 514.97 L100.39 515.68 L101.65 516.37 L102.91 517.05 L104.18 517.71 L105.45 518.36 L106.72 519.00 L107.99 519.63 L109.24 520.24 L110.49 520.84 L111.73 521.44 L112.98 522.03 L114.24 522.61 L115.50 523.20 L116.77 523.78 L118.05 524.35 L119.33 524.92 L120.61 525.48 L121.90 526.04 L123.20 526.58 L124.49 527.12 L125.80 527.66 L127.10 528.18 L128.41 528.69 L129.73 529.20 L131.05 529.69 L132.37 530.18 L133.69 530.65 L135.01 531.11 L136.34 531.56 L137.67 531.99 L139.00 532.41 L140.34 532.82 L141.67 533.21 L143.01 533.59 L144.35 533.95 L145.68 534.30 L147.02 534.63 L148.36 534.95 L149.71 535.25 L151.06 535.54 L152.42 535.83 L153.78 536.10 L155.14 536.37 L156.51 536.63 L157.88 536.88 L159.25 537.12 L160.63 537.36 L162.01 537.59 L163.39 537.82 L164.77 538.04 L166.15 538.26 L167.53 538.48 L168.92 538.70 L170.30 538.91 L171.69 539.13 L173.07 539.34 L174.46 539.56 L175.84 539.77 L177.22 539.99 L178.61 540.22 L179.99 540.44 L181.36 540.67 L182.74 540.91 L184.11 541.15 L185.49 541.40 L186.86 541.65 L188.23 541.89 L189.61 542.14 L190.98 542.38 L192.36 542.60 L193.73 542.82 L195.11 543.02 L196.49 543.19 L197.88 543.36 L199.27 543.51 L200.65 543.66 L202.04 543.80 L203.43 543.94 L204.82 544.08 L206.21 544.23 L207.59 544.39 L208.97 544.56 L210.35 544.75 L211.73 544.98 L213.10 545.23 L214.47 545.49 L215.85 545.75 L217.22 545.99 L218.60 546.20 L219.98 546.38 L221.36 546.55 L222.74 546.71 L224.13 546.86 L225.52 547.01 L226.90 547.15 L228.29 547.29 L229.68 547.42 L231.07 547.55 L232.46 547.68 L233.85 547.80 L235.24 547.92 L236.63 548.04 L238.02 548.16 L239.41 548.28 L240.80 548.40 L242.19 548.52 L243.58 548.64 L244.97 548.75 L246.36 548.86 L247.75 548.97 L249.14 549.08 L250.53 549.19 L251.92 549.30 L253.32 549.40 L254.71 549.51 L256.10 549.62 L257.49 549.72 L258.88 549.83 L260.27 549.94 L261.66 550.05 L263.05 550.17 L264.44 550.28 L265.83 550.39 L267.22 550.50 L268.61 550.62 L270.00 550.73 L271.39 550.84 L272.78 550.95 L274.17 551.06 L275.56 551.17 L276.95 551.28 L278.34 551.39 L279.74 551.49 L281.13 551.60 L282.52 551.70 L283.91 551.80 L285.30 551.90 L286.69 551.99 L288.08 552.08 L289.47 552.17 L290.86 552.26 L292.26 552.34 L293.65 552.43 L295.04 552.50 L296.43 552.58 L297.83 552.65 L299.22 552.72 L300.61 552.78 L302.00 552.85 L303.40 552.91 L304.79 552.97 L306.18 553.03 L307.58 553.09 L308.97 553.14 L310.36 553.20 L311.76 553.25 L313.15 553.31 L314.55 553.36 L315.94 553.42 L317.33 553.47 L318.73 553.53 L320.12 553.58 L321.51 553.64 L322.91 553.69 L324.30 553.75 L325.70 553.81 L327.09 553.87 L328.48 553.93 L329.88 553.99 L331.27 554.06 L332.66 554.13 L334.05 554.19 L335.45 554.26 L336.84 554.33 L338.23 554.39 L339.63 554.46 L341.02 554.53 L342.41 554.60 L343.81 554.67 L345.20 554.74 L346.59 554.81 L347.98 554.88 L349.38 554.96 L350.77 555.03 L352.16 555.10 L353.56 555.17 L354.95 555.25 L356.34 555.32 L357.73 555.40 L359.13 555.47 L360.52 555.55 L361.91 555.62 L363.30 555.70 L364.70 555.77 L366.09 555.85 L367.48 555.92 L368.87 556.00 L370.27 556.08 L371.66 556.15 L373.05 556.23 L374.45 556.31 L375.84 556.38 L377.23 556.46 L378.62 556.54 L380.02 556.62 L381.41 556.70 L382.80 556.78 L384.19 556.86 L385.59 556.94 L386.98 557.02 L388.37 557.10 L389.76 557.19 L391.15 557.27 L392.55 557.36 L393.94 557.45 L395.33 557.53 L396.72 557.62 L398.11 557.71 L399.51 557.81 L400.90 557.90 L402.29 557.99 L403.68 558.09 L405.07 558.18 L406.46 558.27 L407.86 558.36 L409.25 558.46 L410.65 558.55 L412.04 558.64 L413.43 558.74 L414.83 558.84 L416.22 558.94 L417.61 559.04 L419.00 559.15 L420.39 559.26 L421.78 559.38 L423.17 559.50 L424.56 559.63 L425.95 559.76 L427.33 559.90 L428.71 560.05 L430.09 560.21 L431.47 560.38 L432.85 560.58 L434.23 560.79 L435.61 561.02 L436.99 561.27 L438.36 561.54 L439.73 561.81 L441.10 562.10 L442.46 562.41 L443.82 562.72 L445.17 563.04 L446.52 563.39 L447.86 563.77 L449.19 564.19 L450.52 564.62 L451.84 565.08 L453.15 565.56 L454.45 566.07 L455.73 566.62 L457.00 567.20 L65.70 567.20 Z" fill="rgb(235,98,53)" fill-opacity="0.36" stroke="none"/>
<path d="M65.70 474.90 L66.26 476.29 L66.85 477.66 L67.46 479.02 L68.08 480.36 L68.73 481.69 L69.39 482.99 L70.08 484.28 L70.78 485.55 L71.50 486.80 L72.23 488.04 L72.99 489.26 L73.76 490.46 L74.54 491.64 L75.34 492.80 L76.16 493.94 L76.99 495.07 L77.83 496.17 L78.68 497.26 L79.55 498.33 L80.43 499.37 L81.32 500.40 L82.23 501.41 L83.14 502.40 L84.07 503.37 L85.00 504.32 L85.94 505.24 L86.89 506.15 L87.85 507.04 L88.84 507.90 L89.87 508.76 L90.93 509.59 L92.03 510.41 L93.15 511.21 L94.31 511.99 L95.49 512.76 L96.69 513.51 L97.91 514.25 L99.14 514.97 L100.39 515.68 L101.65 516.37 L102.91 517.05 L104.18 517.71 L105.45 518.36 L106.72 519.00 L107.99 519.63 L109.24 520.24 L110.49 520.84 L111.73 521.44 L112.98 522.03 L114.24 522.61 L115.50 523.20 L116.77 523.78 L118.05 524.35 L119.33 524.92 L120.61 525.48 L121.90 526.04 L123.20 526.58 L124.49 527.12 L125.80 527.66 L127.10 528.18 L128.41 528.69 L129.73 529.20 L131.05 529.69 L132.37 530.18 L133.69 530.65 L135.01 531.11 L136.34 531.56 L137.67 531.99 L139.00 532.41 L140.34 532.82 L141.67 533.21 L143.01 533.59 L144.35 533.95 L145.68 534.30 L147.02 534.63 L148.36 534.95 L149.71 535.25 L151.06 535.54 L152.42 535.83 L153.78 536.10 L155.14 536.37 L156.51 536.63 L157.88 536.88 L159.25 537.12 L160.63 537.36 L162.01 537.59 L163.39 537.82 L164.77 538.04 L166.15 538.26 L167.53 538.48 L168.92 538.70 L170.30 538.91 L171.69 539.13 L173.07 539.34 L174.46 539.56 L175.84 539.77 L177.22 539.99 L178.61 540.22 L179.99 540.44 L181.36 540.67 L182.74 540.91 L184.11 541.15 L185.49 541.40 L186.86 541.65 L188.23 541.89 L189.61 542.14 L190.98 542.38 L192.36 542.60 L193.73 542.82 L195.11 543.02 L196.49 543.19 L197.88 543.36 L199.27 543.51 L200.65 543.66 L202.04 543.80 L203.43 543.94 L204.82 544.08 L206.21 544.23 L207.59 544.39 L208.97 544.56 L210.35 544.75 L211.73 544.98 L213.10 545.23 L214.47 545.49 L215.85 545.75 L217.22 545.99 L218.60 546.20 L219.98 546.38 L221.36 546.55 L222.74 546.71 L224.13 546.86 L225.52 547.01 L226.90 547.15 L228.29 547.29 L229.68 547.42 L231.07 547.55 L232.46 547.68 L233.85 547.80 L235.24 547.92 L236.63 548.04 L238.02 548.16 L239.41 548.28 L240.80 548.40 L242.19 548.52 L243.58 548.64 L244.97 548.75 L246.36 548.86 L247.75 548.97 L249.14 549.08 L250.53 549.19 L251.92 549.30 L253.32 549.40 L254.71 549.51 L256.10 549.62 L257.49 549.72 L258.88 549.83 L260.27 549.94 L261.66 550.05 L263.05 550.17 L264.44 550.28 L265.83 550.39 L267.22 550.50 L268.61 550.62 L270.00 550.73 L271.39 550.84 L272.78 550.95 L274.17 551.06 L275.56 551.17 L276.95 551.28 L278.34 551.39 L279.74 551.49 L281.13 551.60 L282.52 551.70 L283.91 551.80 L285.30 551.90 L286.69 551.99 L288.08 552.08 L289.47 552.17 L290.86 552.26 L292.26 552.34 L293.65 552.43 L295.04 552.50 L296.43 552.58 L297.83 552.65 L299.22 552.72 L300.61 552.78 L302.00 552.85 L303.40 552.91 L304.79 552.97 L306.18 553.03 L307.58 553.09 L308.97 553.14 L310.36 553.20 L311.76 553.25 L313.15 553.31 L314.55 553.36 L315.94 553.42 L317.33 553.47 L318.73 553.53 L320.12 553.58 L321.51 553.64 L322.91 553.69 L324.30 553.75 L325.70 553.81 L327.09 553.87 L328.48 553.93 L329.88 553.99 L331.27 554.06 L332.66 554.13 L334.05 554.19 L335.45 554.26 L336.84 554.33 L338.23 554.39 L339.63 554.46 L341.02 554.53 L342.41 554.60 L343.81 554.67 L345.20 554.74 L346.59 554.81 L347.98 554.88 L349.38 554.96 L350.77 555.03 L352.16 555.10 L353.56 555.17 L354.95 555.25 L356.34 555.32 L357.73 555.40 L359.13 555.47 L360.52 555.55 L361.91 555.62 L363.30 555.70 L364.70 555.77 L366.09 555.85 L367.48 555.92 L368.87 556.00 L370.27 556.08 L371.66 556.15 L373.05 556.23 L374.45 556.31 L375.84 556.38 L377.23 556.46 L378.62 556.54 L380.02 556.62 L381.41 556.70 L382.80 556.78 L384.19 556.86 L385.59 556.94 L386.98 557.02 L388.37 557.10 L389.76 557.19 L391.15 557.27 L392.55 557.36 L393.94 557.45 L395.33 557.53 L396.72 557.62 L398.11 557.71 L399.51 557.81 L400.90 557.90 L402.29 557.99 L403.68 558.09 L405.07 558.18 L406.46 558.27 L407.86 558.36 L409.25 558.46 L410.65 558.55 L412.04 558.64 L413.43 558.74 L414.83 558.84 L416.22 558.94 L417.61 559.04 L419.00 559.15 L420.39 559.26 L421.78 559.38 L423.17 559.50 L424.56 559.63 L425.95 559.76 L427.33 559.90 L428.71 560.05 L430.09 560.21 L431.47 560.38 L432.85 560.58 L434.23 560.79 L435.61 561.02 L436.99 561.27 L438.36 561.54 L439.73 561.81 L441.10 562.10 L442.46 562.41 L443.82 562.72 L445.17 563.04 L446.52 563.39 L447.86 563.77 L449.19 564.19 L450.52 564.62 L451.84 565.08 L453.15 565.56 L454.45 566.07 L455.73 566.62 L457.00 567.20" fill="none" stroke="rgb(222,86,45)" stroke-width="1.85" stroke-dasharray="3.9 1.3 1.3 1.3"/>
<path d="M66.00 60.00 L66.19 61.99 L66.38 63.97 L66.56 65.96 L66.75 67.95 L66.94 69.93 L67.13 71.92 L67.32 73.91 L67.50 75.89 L67.69 77.88 L67.88 79.87 L68.07 81.85 L68.26 83.84 L68.44 85.82 L68.63 87.81 L68.82 89.80 L69.01 91.78 L69.20 93.77 L69.39 95.76 L69.57 97.74 L69.76 99.73 L69.95 101.72 L70.14 103.70 L70.33 105.69 L70.52 107.68 L70.70 109.66 L70.89 111.65 L71.08 113.63 L71.27 115.62 L71.46 117.61 L71.65 119.59 L71.84 121.58 L72.02 123.57 L72.21 125.55 L72.39 127.54 L72.57 129.53 L72.75 131.52 L72.93 133.50 L73.11 135.49 L73.29 137.48 L73.47 139.47 L73.65 141.45 L73.83 143.44 L74.02 145.43 L74.20 147.42 L74.39 149.40 L74.58 151.39 L74.78 153.37 L74.98 155.36 L75.18 157.34 L75.39 159.33 L75.60 161.31 L75.82 163.29 L76.06 165.27 L76.30 167.25 L76.56 169.23 L76.81 171.21 L77.07 173.19 L77.32 175.17 L77.56 177.15 L77.79 179.13 L78.01 181.12 L78.24 183.10 L78.45 185.08 L78.66 187.07 L78.87 189.05 L79.08 191.04 L79.28 193.02 L79.49 195.01 L79.69 197.00 L79.89 198.98 L80.09 200.97 L80.29 202.95 L80.49 204.94 L80.68 206.93 L80.89 208.91 L81.09 210.90 L81.29 212.88 L81.50 214.87 L81.71 216.85 L81.92 218.84 L82.14 220.82 L82.36 222.80 L82.58 224.78 L82.81 226.77 L83.05 228.75 L83.29 230.72 L83.54 232.70 L83.79 234.68 L84.04 236.66 L84.30 238.64 L84.55 240.62 L84.81 242.60 L85.07 244.58 L85.34 246.57 L85.60 248.55 L85.87 250.53 L86.15 252.51 L86.42 254.49 L86.71 256.47 L86.99 258.45 L87.28 260.43 L87.58 262.41 L87.89 264.38 L88.19 266.36 L88.51 268.33 L88.83 270.30 L89.16 272.27 L89.50 274.24 L89.85 276.20 L90.20 278.16 L90.56 280.12 L90.93 282.07 L91.31 284.03 L91.70 285.97 L92.10 287.92 L92.52 289.86 L93.00 291.79 L93.52 293.71 L94.08 295.63 L94.67 297.54 L95.28 299.45 L95.88 301.36 L96.48 303.27 L97.05 305.18 L97.59 307.10 L98.08 309.04 L98.51 310.98 L98.89 312.94 L99.24 314.90 L99.59 316.87 L99.96 318.83 L100.37 320.78 L100.80 322.73 L101.24 324.68 L101.69 326.62 L102.16 328.57 L102.63 330.51 L103.13 332.45 L103.63 334.38 L104.15 336.31 L104.67 338.24 L105.22 340.16 L105.77 342.07 L106.34 343.98 L106.92 345.87 L107.53 347.77 L108.15 349.65 L108.78 351.54 L109.44 353.42 L110.11 355.30 L110.79 357.17 L111.49 359.04 L112.20 360.90 L112.92 362.77 L113.65 364.63 L114.39 366.48 L115.14 368.34 L115.90 370.19 L116.67 372.04 L117.44 373.89 L118.21 375.73 L118.99 377.57 L119.78 379.42 L120.56 381.26 L121.35 383.09 L122.13 384.93 L122.92 386.77 L123.70 388.60 L124.49 390.44 L125.26 392.28 L126.05 394.12 L126.86 395.95 L127.69 397.77 L128.56 399.55 L129.49 401.30 L130.43 403.04 L131.41 404.78 L132.41 406.50 L133.43 408.22 L134.47 409.93 L135.54 411.63 L136.63 413.32 L137.73 415.00 L138.85 416.66 L139.99 418.32 L141.15 419.96 L142.32 421.60 L143.50 423.22 L144.70 424.82 L145.91 426.41 L147.13 427.99 L148.35 429.55 L149.59 431.10 L150.84 432.63 L152.12 434.14 L153.43 435.64 L154.77 437.12 L156.13 438.59 L157.52 440.04 L158.92 441.48 L160.34 442.89 L161.77 444.29 L163.22 445.68 L164.67 447.04 L166.13 448.39 L167.61 449.73 L169.11 451.05 L170.64 452.34 L172.19 453.60 L173.77 454.83 L175.36 456.02 L177.00 457.14 L178.69 458.21 L180.39 459.27 L182.07 460.35 L183.72 461.47 L185.36 462.61 L186.98 463.78 L188.59 464.96 L190.20 466.14 L191.82 467.31 L193.45 468.47 L195.08 469.60 L196.74 470.71 L198.42 471.78 L200.11 472.83 L201.81 473.88 L203.52 474.92 L205.23 475.94 L206.96 476.95 L208.69 477.95 L210.44 478.93 L212.19 479.89 L213.94 480.84 L215.70 481.77 L217.47 482.68 L219.25 483.58 L221.04 484.47 L222.83 485.35 L224.63 486.21 L226.44 487.06 L228.26 487.89 L230.09 488.70 L231.92 489.49 L233.76 490.26 L235.61 491.01 L237.47 491.73 L239.33 492.42 L241.22 493.08 L243.11 493.72 L245.01 494.34 L246.90 494.97 L248.80 495.59 L250.69 496.24 L252.58 496.88 L254.47 497.52 L256.36 498.15 L258.25 498.79 L260.14 499.43 L262.03 500.07 L263.93 500.71 L265.82 501.36 L267.71 502.00 L269.60 502.65 L271.49 503.29 L273.38 503.93 L275.27 504.56 L277.17 505.20 L279.06 505.82 L280.96 506.44 L282.86 507.05 L284.76 507.65 L286.67 508.25 L288.57 508.83 L290.48 509.40 L292.39 509.96 L294.31 510.51 L296.23 511.04 L298.15 511.56 L300.08 512.08 L302.01 512.58 L303.94 513.08 L305.87 513.57 L307.81 514.06 L309.75 514.53 L311.69 515.01 L313.63 515.47 L315.57 515.93 L317.52 516.39 L319.46 516.84 L321.41 517.29 L323.36 517.73 L325.30 518.17 L327.25 518.61 L329.20 519.04 L331.14 519.48 L333.09 519.92 L335.04 520.35 L336.99 520.79 L338.94 521.22 L340.89 521.65 L342.84 522.08 L344.79 522.50 L346.74 522.91 L348.70 523.32 L350.65 523.72 L352.61 524.10 L354.57 524.48 L356.53 524.84 L358.49 525.19 L360.46 525.53 L362.43 525.85 L364.40 526.15 L366.37 526.43 L368.35 526.69 L370.33 526.95 L372.31 527.20 L374.29 527.45 L376.27 527.70 L378.25 527.95 L380.23 528.21 L382.21 528.49 L384.18 528.77 L386.15 529.08 L388.12 529.42 L390.08 529.77 L392.04 530.14 L394.01 530.51 L395.97 530.88 L397.93 531.24 L399.89 531.59 L401.86 531.92 L403.83 532.22 L405.81 532.50 L407.79 532.77 L409.76 533.03 L411.74 533.28 L413.72 533.54 L415.70 533.80 L417.68 534.07 L419.65 534.35 L421.63 534.65 L423.60 534.96 L425.57 535.27 L427.54 535.59 L429.51 535.92 L431.48 536.25 L433.44 536.58 L435.41 536.92 L437.38 537.26 L439.34 537.60 L441.31 537.93 L443.28 538.25 L445.25 538.56 L447.22 538.86 L449.20 539.15 L451.17 539.44 L453.15 539.72 L455.13 539.99 L457.10 540.27 L459.08 540.54 L461.06 540.82 L463.04 541.10 L465.01 541.38 L466.98 541.67 L468.96 541.97 L470.93 542.28 L472.90 542.59 L474.86 542.92 L476.82 543.27 L478.78 543.65 L480.74 544.05 L482.69 544.47 L484.64 544.89 L486.59 545.33 L488.54 545.77 L490.49 546.21 L492.44 546.64 L494.39 547.07 L496.34 547.47 L498.30 547.86 L500.26 548.22 L502.22 548.55 L504.20 548.83 L506.20 549.06 L508.19 549.29 L510.17 549.56 L512.12 549.90 L514.11 550.36 L516.09 551.04 L517.62 551.97 L518.77 553.60 L519.66 555.51 L520.36 557.36 L520.94 559.29 L521.34 561.25 L521.64 563.21 L521.88 565.19 L522.00 567.20 L65.70 567.20 Z" fill="rgb(135,120,179)" fill-opacity="0.36" stroke="none"/>
<path d="M66.00 60.00 L66.19 61.99 L66.38 63.97 L66.56 65.96 L66.75 67.95 L66.94 69.93 L67.13 71.92 L67.32 73.91 L67.50 75.89 L67.69 77.88 L67.88 79.87 L68.07 81.85 L68.26 83.84 L68.44 85.82 L68.63 87.81 L68.82 89.80 L69.01 91.78 L69.20 93.77 L69.39 95.76 L69.57 97.74 L69.76 99.73 L69.95 101.72 L70.14 103.70 L70.33 105.69 L70.52 107.68 L70.70 109.66 L70.89 111.65 L71.08 113.63 L71.27 115.62 L71.46 117.61 L71.65 119.59 L71.84 121.58 L72.02 123.57 L72.21 125.55 L72.39 127.54 L72.57 129.53 L72.75 131.52 L72.93 133.50 L73.11 135.49 L73.29 137.48 L73.47 139.47 L73.65 141.45 L73.83 143.44 L74.02 145.43 L74.20 147.42 L74.39 149.40 L74.58 151.39 L74.78 153.37 L74.98 155.36 L75.18 157.34 L75.39 159.33 L75.60 161.31 L75.82 163.29 L76.06 165.27 L76.30 167.25 L76.56 169.23 L76.81 171.21 L77.07 173.19 L77.32 175.17 L77.56 177.15 L77.79 179.13 L78.01 181.12 L78.24 183.10 L78.45 185.08 L78.66 187.07 L78.87 189.05 L79.08 191.04 L79.28 193.02 L79.49 195.01 L79.69 197.00 L79.89 198.98 L80.09 200.97 L80.29 202.95 L80.49 204.94 L80.68 206.93 L80.89 208.91 L81.09 210.90 L81.29 212.88 L81.50 214.87 L81.71 216.85 L81.92 218.84 L82.14 220.82 L82.36 222.80 L82.58 224.78 L82.81 226.77 L83.05 228.75 L83.29 230.72 L83.54 232.70 L83.79 234.68 L84.04 236.66 L84.30 238.64 L84.55 240.62 L84.81 242.60 L85.07 244.58 L85.34 246.57 L85.60 248.55 L85.87 250.53 L86.15 252.51 L86.42 254.49 L86.71 256.47 L86.99 258.45 L87.28 260.43 L87.58 262.41 L87.89 264.38 L88.19 266.36 L88.51 268.33 L88.83 270.30 L89.16 272.27 L89.50 274.24 L89.85 276.20 L90.20 278.16 L90.56 280.12 L90.93 282.07 L91.31 284.03 L91.70 285.97 L92.10 287.92 L92.52 289.86 L93.00 291.79 L93.52 293.71 L94.08 295.63 L94.67 297.54 L95.28 299.45 L95.88 301.36 L96.48 303.27 L97.05 305.18 L97.59 307.10 L98.08 309.04 L98.51 310.98 L98.89 312.94 L99.24 314.90 L99.59 316.87 L99.96 318.83 L100.37 320.78 L100.80 322.73 L101.24 324.68 L101.69 326.62 L102.16 328.57 L102.63 330.51 L103.13 332.45 L103.63 334.38 L104.15 336.31 L104.67 338.24 L105.22 340.16 L105.77 342.07 L106.34 343.98 L106.92 345.87 L107.53 347.77 L108.15 349.65 L108.78 351.54 L109.44 353.42 L110.11 355.30 L110.79 357.17 L111.49 359.04 L112.20 360.90 L112.92 362.77 L113.65 364.63 L114.39 366.48 L115.14 368.34 L115.90 370.19 L116.67 372.04 L117.44 373.89 L118.21 375.73 L118.99 377.57 L119.78 379.42 L120.56 381.26 L121.35 383.09 L122.13 384.93 L122.92 386.77 L123.70 388.60 L124.49 390.44 L125.26 392.28 L126.05 394.12 L126.86 395.95 L127.69 397.77 L128.56 399.55 L129.49 401.30 L130.43 403.04 L131.41 404.78 L132.41 406.50 L133.43 408.22 L134.47 409.93 L135.54 411.63 L136.63 413.32 L137.73 415.00 L138.85 416.66 L139.99 418.32 L141.15 419.96 L142.32 421.60 L143.50 423.22 L144.70 424.82 L145.91 426.41 L147.13 427.99 L148.35 429.55 L149.59 431.10 L150.84 432.63 L152.12 434.14 L153.43 435.64 L154.77 437.12 L156.13 438.59 L157.52 440.04 L158.92 441.48 L160.34 442.89 L161.77 444.29 L163.22 445.68 L164.67 447.04 L166.13 448.39 L167.61 449.73 L169.11 451.05 L170.64 452.34 L172.19 453.60 L173.77 454.83 L175.36 456.02 L177.00 457.14 L178.69 458.21 L180.39 459.27 L182.07 460.35 L183.72 461.47 L185.36 462.61 L186.98 463.78 L188.59 464.96 L190.20 466.14 L191.82 467.31 L193.45 468.47 L195.08 469.60 L196.74 470.71 L198.42 471.78 L200.11 472.83 L201.81 473.88 L203.52 474.92 L205.23 475.94 L206.96 476.95 L208.69 477.95 L210.44 478.93 L212.19 479.89 L213.94 480.84 L215.70 481.77 L217.47 482.68 L219.25 483.58 L221.04 484.47 L222.83 485.35 L224.63 486.21 L226.44 487.06 L228.26 487.89 L230.09 488.70 L231.92 489.49 L233.76 490.26 L235.61 491.01 L237.47 491.73 L239.33 492.42 L241.22 493.08 L243.11 493.72 L245.01 494.34 L246.90 494.97 L248.80 495.59 L250.69 496.24 L252.58 496.88 L254.47 497.52 L256.36 498.15 L258.25 498.79 L260.14 499.43 L262.03 500.07 L263.93 500.71 L265.82 501.36 L267.71 502.00 L269.60 502.65 L271.49 503.29 L273.38 503.93 L275.27 504.56 L277.17 505.20 L279.06 505.82 L280.96 506.44 L282.86 507.05 L284.76 507.65 L286.67 508.25 L288.57 508.83 L290.48 509.40 L292.39 509.96 L294.31 510.51 L296.23 511.04 L298.15 511.56 L300.08 512.08 L302.01 512.58 L303.94 513.08 L305.87 513.57 L307.81 514.06 L309.75 514.53 L311.69 515.01 L313.63 515.47 L315.57 515.93 L317.52 516.39 L319.46 516.84 L321.41 517.29 L323.36 517.73 L325.30 518.17 L327.25 518.61 L329.20 519.04 L331.14 519.48 L333.09 519.92 L335.04 520.35 L336.99 520.79 L338.94 521.22 L340.89 521.65 L342.84 522.08 L344.79 522.50 L346.74 522.91 L348.70 523.32 L350.65 523.72 L352.61 524.10 L354.57 524.48 L356.53 524.84 L358.49 525.19 L360.46 525.53 L362.43 525.85 L364.40 526.15 L366.37 526.43 L368.35 526.69 L370.33 526.95 L372.31 527.20 L374.29 527.45 L376.27 527.70 L378.25 527.95 L380.23 528.21 L382.21 528.49 L384.18 528.77 L386.15 529.08 L388.12 529.42 L390.08 529.77 L392.04 530.14 L394.01 530.51 L395.97 530.88 L397.93 531.24 L399.89 531.59 L401.86 531.92 L403.83 532.22 L405.81 532.50 L407.79 532.77 L409.76 533.03 L411.74 533.28 L413.72 533.54 L415.70 533.80 L417.68 534.07 L419.65 534.35 L421.63 534.65 L423.60 534.96 L425.57 535.27 L427.54 535.59 L429.51 535.92 L431.48 536.25 L433.44 536.58 L435.41 536.92 L437.38 537.26 L439.34 537.60 L441.31 537.93 L443.28 538.25 L445.25 538.56 L447.22 538.86 L449.20 539.15 L451.17 539.44 L453.15 539.72 L455.13 539.99 L457.10 540.27 L459.08 540.54 L461.06 540.82 L463.04 541.10 L465.01 541.38 L466.98 541.67 L468.96 541.97 L470.93 542.28 L472.90 542.59 L474.86 542.92 L476.82 543.27 L478.78 543.65 L480.74 544.05 L482.69 544.47 L484.64 544.89 L486.59 545.33 L488.54 545.77 L490.49 546.21 L492.44 546.64 L494.39 547.07 L496.34 547.47 L498.30 547.86 L500.26 548.22 L502.22 548.55 L504.20 548.83 L506.20 549.06 L508.19 549.29 L510.17 549.56 L512.12 549.90 L514.11 550.36 L516.09 551.04 L517.62 551.97 L518.77 553.60 L519.66 555.51 L520.36 557.36 L520.94 559.29 L521.34 561.25 L521.64 563.21 L521.88 565.19 L522.00 567.20" fill="none" stroke="rgb(124,110,175)" stroke-width="1.85" stroke-dasharray="3.9 1.3 1.3 1.3"/>
<path d="M65.70 10.50 L147.40 10.50 L146.94 11.94 L146.48 13.38 L146.03 14.83 L145.57 16.27 L145.12 17.71 L144.67 19.16 L144.22 20.60 L143.78 22.05 L143.33 23.49 L142.89 24.94 L142.45 26.39 L142.01 27.83 L141.57 29.28 L141.14 30.73 L140.70 32.18 L140.27 33.63 L139.84 35.08 L139.42 36.53 L138.99 37.98 L138.57 39.43 L138.15 40.88 L137.73 42.33 L137.31 43.79 L136.90 45.24 L136.49 46.69 L136.08 48.15 L135.67 49.60 L135.26 51.06 L134.86 52.51 L134.45 53.97 L134.06 55.43 L133.66 56.89 L133.26 58.34 L132.87 59.80 L132.48 61.26 L132.09 62.72 L131.70 64.18 L131.32 65.64 L130.94 67.10 L130.56 68.56 L130.18 70.03 L129.81 71.49 L129.43 72.95 L129.06 74.42 L128.69 75.88 L128.33 77.35 L127.96 78.82 L127.60 80.28 L127.24 81.75 L126.88 83.22 L126.52 84.69 L126.17 86.16 L125.81 87.63 L125.46 89.10 L125.11 90.57 L124.76 92.04 L124.41 93.51 L124.07 94.98 L123.72 96.46 L123.38 97.93 L123.04 99.40 L122.70 100.87 L122.36 102.35 L122.02 103.82 L121.69 105.30 L121.35 106.77 L121.02 108.25 L120.69 109.72 L120.35 111.20 L120.02 112.67 L119.69 114.15 L119.37 115.62 L119.04 117.10 L118.71 118.57 L118.39 120.05 L118.06 121.53 L117.74 123.00 L117.41 124.48 L117.08 125.95 L116.76 127.43 L116.43 128.91 L116.11 130.38 L115.78 131.86 L115.46 133.34 L115.13 134.81 L114.81 136.29 L114.49 137.77 L114.17 139.25 L113.85 140.72 L113.54 142.20 L113.22 143.68 L112.91 145.16 L112.60 146.64 L112.30 148.12 L111.99 149.61 L111.70 151.09 L111.40 152.57 L111.11 154.05 L110.82 155.54 L110.54 157.02 L110.26 158.51 L109.98 159.99 L109.72 161.48 L109.45 162.97 L109.19 164.45 L108.94 165.94 L108.71 167.43 L108.48 168.93 L108.26 170.42 L108.04 171.92 L107.82 173.42 L107.60 174.91 L107.37 176.41 L107.13 177.90 L106.89 179.39 L106.63 180.88 L106.37 182.37 L106.11 183.86 L105.84 185.34 L105.57 186.83 L105.29 188.32 L105.01 189.80 L104.72 191.29 L104.43 192.77 L104.14 194.26 L103.85 195.74 L103.56 197.23 L103.26 198.71 L102.97 200.20 L102.67 201.68 L102.38 203.16 L102.08 204.65 L101.78 206.13 L101.49 207.61 L101.20 209.10 L100.91 210.58 L100.62 212.07 L100.33 213.55 L100.05 215.04 L99.77 216.52 L99.49 218.01 L99.22 219.50 L98.96 220.98 L98.70 222.47 L98.44 223.96 L98.19 225.45 L97.95 226.94 L97.71 228.43 L97.48 229.92 L97.26 231.41 L97.04 232.91 L96.83 234.40 L96.63 235.90 L96.43 237.39 L96.24 238.89 L96.04 240.39 L95.86 241.89 L95.67 243.38 L95.49 244.88 L95.32 246.38 L95.14 247.89 L94.97 249.39 L94.80 250.89 L94.63 252.39 L94.47 253.89 L94.30 255.40 L94.14 256.90 L93.98 258.40 L93.82 259.91 L93.66 261.41 L93.50 262.92 L93.35 264.42 L93.19 265.92 L93.03 267.43 L92.88 268.93 L92.72 270.44 L92.56 271.94 L92.41 273.45 L92.25 274.95 L92.09 276.45 L91.93 277.96 L91.76 279.46 L91.60 280.96 L91.43 282.47 L91.26 283.97 L91.09 285.47 L90.92 286.97 L90.74 288.48 L90.57 289.98 L90.40 291.48 L90.23 292.98 L90.06 294.49 L89.89 295.99 L89.73 297.49 L89.56 299.00 L89.38 300.50 L89.21 302.00 L89.02 303.50 L88.83 305.00 L88.62 306.50 L88.41 307.99 L88.18 309.48 L87.93 310.97 L87.61 312.45 L87.26 313.92 L86.90 315.40 L86.55 316.87 L86.25 318.35 L86.02 319.84 L85.85 321.33 L85.70 322.83 L85.56 324.33 L85.44 325.83 L85.32 327.34 L85.22 328.85 L85.12 330.36 L85.03 331.87 L84.94 333.38 L84.85 334.89 L84.76 336.40 L84.67 337.92 L84.57 339.43 L84.47 340.94 L84.36 342.45 L84.25 343.96 L84.12 345.46 L83.99 346.97 L83.85 348.47 L83.72 349.98 L83.58 351.48 L83.44 352.99 L83.29 354.49 L83.14 356.00 L83.00 357.50 L82.85 359.00 L82.69 360.51 L82.54 362.01 L82.38 363.52 L82.22 365.02 L82.06 366.52 L81.90 368.03 L81.74 369.53 L81.57 371.03 L81.41 372.53 L81.24 374.04 L81.07 375.54 L80.90 377.04 L80.73 378.54 L80.56 380.05 L80.39 381.55 L80.21 383.05 L80.04 384.55 L79.86 386.05 L79.69 387.55 L79.51 389.05 L79.33 390.55 L79.13 392.05 L78.92 393.55 L78.70 395.05 L78.50 396.55 L78.31 398.05 L78.15 399.55 L78.04 401.05 L77.94 402.56 L77.85 404.07 L77.77 405.57 L77.70 407.08 L77.63 408.60 L77.57 410.11 L77.51 411.62 L77.44 413.13 L77.38 414.64 L77.31 416.15 L77.23 417.66 L77.15 419.17 L77.06 420.68 L76.96 422.19 L76.86 423.69 L76.75 425.20 L76.64 426.71 L76.53 428.21 L76.41 429.72 L76.29 431.23 L76.16 432.73 L76.04 434.24 L75.91 435.75 L75.77 437.25 L75.63 438.76 L75.49 440.26 L75.35 441.77 L75.20 443.27 L75.05 444.78 L74.89 446.28 L74.74 447.78 L74.58 449.29 L74.41 450.79 L74.24 452.29 L74.07 453.80 L73.90 455.30 L73.60 468.40 L83.30 491.00 L87.30 510.40 L90.10 533.00 L93.20 567.20 L65.70 567.20 Z" fill="rgb(135,120,179)" fill-opacity="0.36" stroke="none"/>
<path d="M147.40 10.50 L146.94 11.94 L146.48 13.38 L146.03 14.83 L145.57 16.27 L145.12 17.71 L144.67 19.16 L144.22 20.60 L143.78 22.05 L143.33 23.49 L142.89 24.94 L142.45 26.39 L142.01 27.83 L141.57 29.28 L141.14 30.73 L140.70 32.18 L140.27 33.63 L139.84 35.08 L139.42 36.53 L138.99 37.98 L138.57 39.43 L138.15 40.88 L137.73 42.33 L137.31 43.79 L136.90 45.24 L136.49 46.69 L136.08 48.15 L135.67 49.60 L135.26 51.06 L134.86 52.51 L134.45 53.97 L134.06 55.43 L133.66 56.89 L133.26 58.34 L132.87 59.80 L132.48 61.26 L132.09 62.72 L131.70 64.18 L131.32 65.64 L130.94 67.10 L130.56 68.56 L130.18 70.03 L129.81 71.49 L129.43 72.95 L129.06 74.42 L128.69 75.88 L128.33 77.35 L127.96 78.82 L127.60 80.28 L127.24 81.75 L126.88 83.22 L126.52 84.69 L126.17 86.16 L125.81 87.63 L125.46 89.10 L125.11 90.57 L124.76 92.04 L124.41 93.51 L124.07 94.98 L123.72 96.46 L123.38 97.93 L123.04 99.40 L122.70 100.87 L122.36 102.35 L122.02 103.82 L121.69 105.30 L121.35 106.77 L121.02 108.25 L120.69 109.72 L120.35 111.20 L120.02 112.67 L119.69 114.15 L119.37 115.62 L119.04 117.10 L118.71 118.57 L118.39 120.05 L118.06 121.53 L117.74 123.00 L117.41 124.48 L117.08 125.95 L116.76 127.43 L116.43 128.91 L116.11 130.38 L115.78 131.86 L115.46 133.34 L115.13 134.81 L114.81 136.29 L114.49 137.77 L114.17 139.25 L113.85 140.72 L113.54 142.20 L113.22 143.68 L112.91 145.16 L112.60 146.64 L112.30 148.12 L111.99 149.61 L111.70 151.09 L111.40 152.57 L111.11 154.05 L110.82 155.54 L110.54 157.02 L110.26 158.51 L109.98 159.99 L109.72 161.48 L109.45 162.97 L109.19 164.45 L108.94 165.94 L108.71 167.43 L108.48 168.93 L108.26 170.42 L108.04 171.92 L107.82 173.42 L107.60 174.91 L107.37 176.41 L107.13 177.90 L106.89 179.39 L106.63 180.88 L106.37 182.37 L106.11 183.86 L105.84 185.34 L105.57 186.83 L105.29 188.32 L105.01 189.80 L104.72 191.29 L104.43 192.77 L104.14 194.26 L103.85 195.74 L103.56 197.23 L103.26 198.71 L102.97 200.20 L102.67 201.68 L102.38 203.16 L102.08 204.65 L101.78 206.13 L101.49 207.61 L101.20 209.10 L100.91 210.58 L100.62 212.07 L100.33 213.55 L100.05 215.04 L99.77 216.52 L99.49 218.01 L99.22 219.50 L98.96 220.98 L98.70 222.47 L98.44 223.96 L98.19 225.45 L97.95 226.94 L97.71 228.43 L97.48 229.92 L97.26 231.41 L97.04 232.91 L96.83 234.40 L96.63 235.90 L96.43 237.39 L96.24 238.89 L96.04 240.39 L95.86 241.89 L95.67 243.38 L95.49 244.88 L95.32 246.38 L95.14 247.89 L94.97 249.39 L94.80 250.89 L94.63 252.39 L94.47 253.89 L94.30 255.40 L94.14 256.90 L93.98 258.40 L93.82 259.91 L93.66 261.41 L93.50 262.92 L93.35 264.42 L93.19 265.92 L93.03 267.43 L92.88 268.93 L92.72 270.44 L92.56 271.94 L92.41 273.45 L92.25 274.95 L92.09 276.45 L91.93 277.96 L91.76 279.46 L91.60 280.96 L91.43 282.47 L91.26 283.97 L91.09 285.47 L90.92 286.97 L90.74 288.48 L90.57 289.98 L90.40 291.48 L90.23 292.98 L90.06 294.49 L89.89 295.99 L89.73 297.49 L89.56 299.00 L89.38 300.50 L89.21 302.00 L89.02 303.50 L88.83 305.00 L88.62 306.50 L88.41 307.99 L88.18 309.48 L87.93 310.97 L87.61 312.45 L87.26 313.92 L86.90 315.40 L86.55 316.87 L86.25 318.35 L86.02 319.84 L85.85 321.33 L85.70 322.83 L85.56 324.33 L85.44 325.83 L85.32 327.34 L85.22 328.85 L85.12 330.36 L85.03 331.87 L84.94 333.38 L84.85 334.89 L84.76 336.40 L84.67 337.92 L84.57 339.43 L84.47 340.94 L84.36 342.45 L84.25 343.96 L84.12 345.46 L83.99 346.97 L83.85 348.47 L83.72 349.98 L83.58 351.48 L83.44 352.99 L83.29 354.49 L83.14 356.00 L83.00 357.50 L82.85 359.00 L82.69 360.51 L82.54 362.01 L82.38 363.52 L82.22 365.02 L82.06 366.52 L81.90 368.03 L81.74 369.53 L81.57 371.03 L81.41 372.53 L81.24 374.04 L81.07 375.54 L80.90 377.04 L80.73 378.54 L80.56 380.05 L80.39 381.55 L80.21 383.05 L80.04 384.55 L79.86 386.05 L79.69 387.55 L79.51 389.05 L79.33 390.55 L79.13 392.05 L78.92 393.55 L78.70 395.05 L78.50 396.55 L78.31 398.05 L78.15 399.55 L78.04 401.05 L77.94 402.56 L77.85 404.07 L77.77 405.57 L77.70 407.08 L77.63 408.60 L77.57 410.11 L77.51 411.62 L77.44 413.13 L77.38 414.64 L77.31 416.15 L77.23 417.66 L77.15 419.17 L77.06 420.68 L76.96 422.19 L76.86 423.69 L76.75 425.20 L76.64 426.71 L76.53 428.21 L76.41 429.72 L76.29 431.23 L76.16 432.73 L76.04 434.24 L75.91 435.75 L75.77 437.25 L75.63 438.76 L75.49 440.26 L75.35 441.77 L75.20 443.27 L75.05 444.78 L74.89 446.28 L74.74 447.78 L74.58 449.29 L74.41 450.79 L74.24 452.29 L74.07 453.80 L73.90 455.30 L73.60 468.40 L83.30 491.00 L87.30 510.40 L90.10 533.00 L93.20 567.20" fill="none" stroke="rgb(124,110,175)" stroke-width="1.8" stroke-dasharray="16.5 2.5"/>
</g>
<rect x="65.70" y="10.50" width="556.10" height="556.70" fill="none" stroke="#000" stroke-width="1.5"/>
<g stroke="#000" stroke-width="1.3" fill="none">
<line x1="73.02" y1="567.20" x2="73.02" y2="564.00"/>
<line x1="109.60" y1="567.20" x2="109.60" y2="561.70"/>
<line x1="146.19" y1="567.20" x2="146.19" y2="564.00"/>
<line x1="182.77" y1="567.20" x2="182.77" y2="561.70"/>
<line x1="219.36" y1="567.20" x2="219.36" y2="564.00"/>
<line x1="255.94" y1="567.20" x2="255.94" y2="561.70"/>
<line x1="292.53" y1="567.20" x2="292.53" y2="564.00"/>
<line x1="329.12" y1="567.20" x2="329.12" y2="561.70"/>
<line x1="365.70" y1="567.20" x2="365.70" y2="564.00"/>
<line x1="402.29" y1="567.20" x2="402.29" y2="561.70"/>
<line x1="438.87" y1="567.20" x2="438.87" y2="564.00"/>
<line x1="475.46" y1="567.20" x2="475.46" y2="561.70"/>
<line x1="512.04" y1="567.20" x2="512.04" y2="564.00"/>
<line x1="548.63" y1="567.20" x2="548.63" y2="561.70"/>
<line x1="585.21" y1="567.20" x2="585.21" y2="564.00"/>
<line x1="65.70" y1="539.37" x2="68.90" y2="539.37"/>
<line x1="65.70" y1="511.53" x2="71.20" y2="511.53"/>
<line x1="65.70" y1="483.70" x2="68.90" y2="483.70"/>
<line x1="65.70" y1="455.86" x2="71.20" y2="455.86"/>
<line x1="65.70" y1="428.03" x2="68.90" y2="428.03"/>
<line x1="65.70" y1="400.19" x2="71.20" y2="400.19"/>
<line x1="65.70" y1="372.36" x2="68.90" y2="372.36"/>
<line x1="65.70" y1="344.52" x2="71.20" y2="344.52"/>
<line x1="65.70" y1="316.69" x2="68.90" y2="316.69"/>
<line x1="65.70" y1="288.85" x2="71.20" y2="288.85"/>
<line x1="65.70" y1="261.02" x2="68.90" y2="261.02"/>
<line x1="65.70" y1="233.18" x2="71.20" y2="233.18"/>
<line x1="65.70" y1="205.35" x2="68.90" y2="205.35"/>
<line x1="65.70" y1="177.51" x2="71.20" y2="177.51"/>
<line x1="65.70" y1="149.68" x2="68.90" y2="149.68"/>
<line x1="65.70" y1="121.84" x2="71.20" y2="121.84"/>
<line x1="65.70" y1="94.00" x2="68.90" y2="94.00"/>
<line x1="65.70" y1="66.17" x2="71.20" y2="66.17"/>
<line x1="65.70" y1="38.34" x2="68.90" y2="38.34"/>
</g>
<g font-size="17.2" fill="#000">
<text transform="translate(109.60,586.9) scale(1.12,1.03)" text-anchor="middle">0.5</text>
<text transform="translate(182.77,586.9) scale(1.12,1.03)" text-anchor="middle">1.0</text>
<text transform="translate(255.94,586.9) scale(1.12,1.03)" text-anchor="middle">1.5</text>
<text transform="translate(329.12,586.9) scale(1.12,1.03)" text-anchor="middle">2.0</text>
<text transform="translate(402.29,586.9) scale(1.12,1.03)" text-anchor="middle">2.5</text>
<text transform="translate(475.46,586.9) scale(1.12,1.03)" text-anchor="middle">3.0</text>
<text transform="translate(548.63,586.9) scale(1.12,1.03)" text-anchor="middle">3.5</text>
<text transform="translate(621.80,586.9) scale(1.12,1.03)" text-anchor="middle">4.0</text>
<text transform="translate(63.4,517.63) scale(1.12,1.03)" text-anchor="end">0.02</text>
<text transform="translate(63.4,461.96) scale(1.12,1.03)" text-anchor="end">0.04</text>
<text transform="translate(63.4,406.29) scale(1.12,1.03)" text-anchor="end">0.06</text>
<text transform="translate(63.4,350.62) scale(1.12,1.03)" text-anchor="end">0.08</text>
<text transform="translate(63.4,294.95) scale(1.12,1.03)" text-anchor="end">0.1</text>
<text transform="translate(63.4,239.28) scale(1.12,1.03)" text-anchor="end">0.12</text>
<text transform="translate(63.4,183.61) scale(1.12,1.03)" text-anchor="end">0.14</text>
<text transform="translate(63.4,127.94) scale(1.12,1.03)" text-anchor="end">0.16</text>
<text transform="translate(63.4,72.27) scale(1.12,1.03)" text-anchor="end">0.18</text>
<text transform="translate(63.4,16.60) scale(1.12,1.03)" text-anchor="end">0.2</text>
</g>
<text transform="translate(343.5,613.8) scale(1.0,1)" text-anchor="middle" font-size="19.6" fill="#000"><tspan font-style="italic">m</tspan><tspan font-size="13.2" dy="3.2">DM</tspan><tspan dy="-3.2"> [TeV]</tspan></text>
<text transform="translate(17.5,288.6) rotate(-90)" text-anchor="middle" font-size="19" fill="#000">&#916;</text>
<text transform="translate(179.5,359.9) rotate(52.0)" text-anchor="middle" font-size="16.0" font-weight="bold" fill="rgb(124,110,175)">DM<tspan font-size="11.6" dy="3.2">S</tspan><tspan dy="-3.2"> + X</tspan><tspan font-size="11.6" dy="3.2">F3</tspan></text>
<text transform="translate(179.7,498.5) rotate(50.8)" text-anchor="middle" font-size="16.0" font-weight="bold" fill="rgb(228,92,48)">DM<tspan font-size="11.6" dy="3.2">S</tspan><tspan dy="-3.2"> + X</tspan><tspan font-size="11.6" dy="3.2">C3</tspan></text>
<text transform="translate(326.8,378.1) rotate(37.0)" text-anchor="middle" font-size="16.0" font-weight="bold" fill="rgb(186,98,15)">DM<tspan font-size="11.6" dy="3.2">S</tspan><tspan dy="-3.2"> + X</tspan><tspan font-size="11.6" dy="3.2">W3</tspan></text>
<rect x="394.90" y="15.20" width="45.90" height="23.30" fill="#808080" fill-opacity="0.345"/>
<line x1="394.90" y1="15.20" x2="440.80" y2="15.20" stroke="#7f7f7f" stroke-width="1.4" stroke-dasharray="1.6 1.6"/>
<line x1="394.90" y1="38.50" x2="440.80" y2="38.50" stroke="#7f7f7f" stroke-width="1.4" stroke-dasharray="1.6 1.6"/>
<rect x="394.90" y="45.80" width="45.90" height="23.30" fill="#808080" fill-opacity="0.345"/>
<line x1="394.90" y1="45.80" x2="440.80" y2="45.80" stroke="#7f7f7f" stroke-width="1.4"/>
<line x1="394.90" y1="69.10" x2="440.80" y2="69.10" stroke="#7f7f7f" stroke-width="1.4"/>
<rect x="394.90" y="76.90" width="45.90" height="22.60" fill="#808080" fill-opacity="0.345"/>
<line x1="394.90" y1="76.90" x2="440.80" y2="76.90" stroke="#7f7f7f" stroke-width="1.4" stroke-dasharray="4.2 2.2"/>
<line x1="394.90" y1="99.50" x2="440.80" y2="99.50" stroke="#7f7f7f" stroke-width="1.4" stroke-dasharray="4.2 2.2"/>
<path d="M394.9 108 L394.9 129.8 L439.5 129.8 Z" fill="#808080" fill-opacity="0.345"/>
<line x1="394.9" y1="108" x2="439.5" y2="129.8" stroke="#7f7f7f" stroke-width="1.4" stroke-dasharray="3.9 1.3 1.3 1.3"/>
<rect x="394.9" y="137.6" width="14" height="22.8" fill="#808080" fill-opacity="0.345"/>
<line x1="408.9" y1="137.6" x2="408.9" y2="160.4" stroke="#7f7f7f" stroke-width="1.5" stroke-dasharray="16.5 2.5" stroke-dashoffset="11.5"/>
<g font-size="15.1" font-weight="bold" fill="#7f7f7f">
<text transform="translate(446,33.30) scale(1.065,1)">&#937;h<tspan font-size="10.5" dy="-6">2</tspan><tspan dy="6"> Perturbative</tspan></text>
<text transform="translate(446,63.90) scale(1.065,1)">&#937;h<tspan font-size="10.5" dy="-6">2</tspan><tspan dy="6"> Sommerfeld</tspan></text>
<text transform="translate(446,94.40) scale(1.065,1)">&#937;h<tspan font-size="10.5" dy="-6">2</tspan><tspan dy="6"> Sommerfeld + BSF</tspan></text>
<text transform="translate(445.6,124.00) scale(1.065,1)">X Lifetime</text>
<text transform="translate(445.6,154.80) scale(1.065,1)">Thermal Equilibrium</text>
</g>
</svg></body></html>
